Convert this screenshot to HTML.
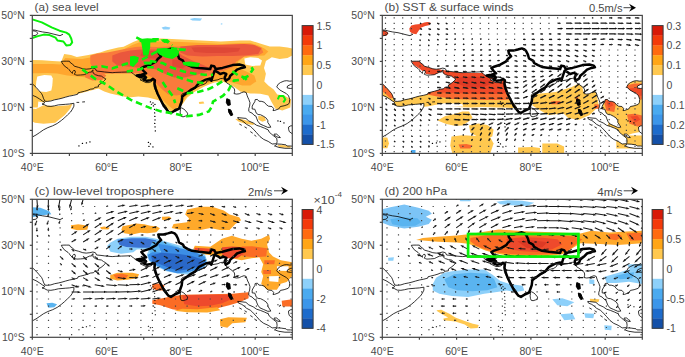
<!DOCTYPE html>
<html><head><meta charset="utf-8"><style>
html,body{margin:0;padding:0;background:#fff;}
svg{display:block;}
</style></head><body>
<svg width="685" height="357" viewBox="0 0 685 357">
<defs><clipPath id="clipa"><rect x="32.3" y="15.4" width="260.0" height="138.0"/></clipPath><clipPath id="clipb"><rect x="382.3" y="15.4" width="260.0" height="138.0"/></clipPath><clipPath id="clipc"><rect x="32.3" y="199.3" width="260.0" height="138.0"/></clipPath><clipPath id="clipd"><rect x="382.3" y="199.3" width="260.0" height="138.0"/></clipPath></defs><g clip-path="url(#clipa)" stroke="none"><polygon fill="#ffc650" points="32.3,59.9 42.3,60.3 52.3,60.9 61.3,61.4 64.2,54.1 71.0,55.1 76.8,57.0 82.6,56.0 88.4,55.1 94.2,53.7 100.0,52.5 106.8,50.2 118.3,47.4 123.6,46.8 133.7,41.8 140.4,39.2 157.2,38.4 162.0,38.5 181.6,39.5 201.2,40.5 220.8,41.5 240.4,40.5 250.2,40.5 260.0,43.4 269.8,46.4 279.6,46.4 287.5,47.4 292.2,48.4 292.2,55.4 287.5,58.1 279.6,59.1 271.8,57.2 265.9,61.1 264.0,67.9 265.9,73.8 264.3,81.4 268.3,85.4 273.7,89.4 277.3,94.4 284.3,95.4 291.1,99.4 290.3,107.4 282.3,110.4 275.3,108.4 271.3,101.4 268.3,95.4 260.3,93.7 250.3,93.4 240.3,91.4 235.0,87.4 228.3,83.4 222.3,81.4 214.3,82.4 204.3,86.4 194.3,91.9 187.3,97.4 182.3,104.4 178.3,109.4 173.3,112.4 168.3,109.4 163.3,104.4 159.3,100.4 155.8,99.5 148.0,97.5 138.3,96.6 128.7,97.5 119.0,95.6 110.3,93.4 104.3,91.4 98.3,88.4 90.0,90.8 80.3,93.2 70.7,95.6 60.3,98.4 51.3,100.4 43.6,102.4 38.3,101.4 37.8,107.4 32.3,107.4"/><polygon fill="#ffc650" points="32.3,108.4 35.9,109.1 43.6,105.3 55.2,106.2 68.8,105.3 72.6,103.4 70.3,108.4 64.9,114.9 55.2,122.7 43.6,123.7 34.9,122.7 32.3,121.4"/><polygon fill="#ffc650" points="235.3,118.9 240.3,118.8 246.3,120.4 254.3,123.4 253.3,124.9 244.3,123.4 238.3,121.4"/><polygon fill="#ffc650" points="258.3,115.9 264.3,116.4 266.0,120.4 262.3,121.7 258.3,119.4"/><polygon fill="#ffc650" points="277.6,144.9 284.3,145.2 291.1,146.4 290.3,147.8 282.3,147.4 278.3,146.4"/><polygon fill="#ffc650" points="198.8,101.9 203.3,101.4 204.3,103.4 199.3,103.9"/><polygon fill="#ffffff" points="37.3,76.4 44.3,74.9 51.3,75.4 52.8,78.4 52.3,85.4 51.3,90.4 46.3,91.9 39.3,91.4 35.8,87.4 36.3,81.4"/><polygon fill="#ffffff" points="244.3,58.4 250.3,57.2 258.3,57.9 262.0,60.4 260.3,65.4 252.3,66.0 245.3,64.4"/><polygon fill="#ffa62e" points="32.3,64.1 42.3,63.9 52.3,63.9 60.3,64.4 65.3,57.9 72.3,58.4 82.3,58.9 92.3,56.9 102.3,54.9 112.3,52.9 122.3,49.9 132.3,44.9 140.3,41.9 157.3,41.4 167.3,41.4 182.3,41.9 202.3,42.9 222.3,43.9 240.3,42.9 250.3,42.9 258.3,45.4 264.3,48.4 268.3,51.4 264.3,55.4 254.3,55.9 244.3,56.4 238.3,61.4 237.3,67.4 246.3,71.4 254.3,75.4 256.3,81.4 250.3,85.4 242.3,85.4 235.3,83.4 228.3,81.4 220.3,79.4 212.3,81.4 202.3,85.4 192.3,90.4 185.3,97.4 180.3,105.4 173.3,109.4 168.3,105.4 162.3,99.4 156.3,93.4 154.3,83.4 147.3,77.4 137.3,72.4 127.3,70.4 117.3,72.4 107.3,73.4 98.3,75.4 87.3,77.4 77.3,76.4 67.3,75.4 57.3,73.4 47.3,72.9 37.3,73.2 32.3,73.2"/><polygon fill="#f97a3c" points="90.3,55.4 97.3,53.4 107.3,52.4 117.3,50.4 127.3,48.4 135.3,46.9 142.3,46.4 157.3,46.9 172.3,46.4 187.3,46.4 202.3,45.9 222.3,44.9 240.3,43.9 252.3,44.4 261.3,47.4 263.3,52.4 258.3,55.4 244.3,56.4 236.3,61.4 232.3,67.4 224.3,70.4 214.3,73.4 204.3,77.4 197.3,83.4 190.3,89.4 182.3,94.4 176.3,95.4 168.3,94.4 162.3,89.4 156.3,83.4 152.3,77.4 144.3,73.4 132.3,73.4 122.3,73.4 112.3,73.4 102.3,73.4 94.3,70.4 90.3,63.4"/><polygon fill="#f97a3c" points="84.3,72.9 92.3,71.4 102.3,72.4 106.3,75.4 102.3,79.9 92.3,80.4 85.3,77.4"/><polygon fill="#ea573d" points="180.3,46.4 197.3,44.9 217.3,44.9 232.3,44.4 244.3,43.9 254.3,44.9 261.3,48.4 258.3,53.9 244.3,55.4 232.3,55.9 217.3,55.9 202.3,56.4 187.3,55.4 180.3,52.4"/><polygon fill="#ea573d" points="112.3,55.4 120.3,52.4 130.3,50.4 140.3,49.4 152.3,49.4 167.3,49.4 177.3,51.4 182.3,55.4 192.3,60.4 204.3,65.4 212.3,69.4 204.3,72.4 194.3,75.4 184.3,77.4 174.3,77.4 164.3,73.4 156.3,69.4 147.3,67.4 137.3,67.4 127.3,66.4 117.3,65.4 112.3,61.4"/><polygon fill="#df4836" points="191.3,47.4 207.3,46.9 227.3,47.4 240.3,47.9 238.3,51.4 224.3,52.9 207.3,52.9 194.3,51.9"/><polygon fill="#df4836" points="142.3,51.4 154.3,50.9 162.3,53.4 158.3,58.4 148.3,58.4 140.3,55.4"/><polygon fill="#df4836" points="172.3,59.4 182.3,60.4 188.3,64.4 182.3,68.4 172.3,66.4"/><polygon fill="#8dd0fa" points="161.6,27.4 165.3,26.6 170.3,27.4 169.3,29.5 163.3,29.5"/><polygon fill="#8dd0fa" points="189.6,18.9 194.3,17.9 202.2,18.6 200.3,20.8 192.3,20.6"/><polygon fill="#8dd0fa" points="220.8,23.4 222.3,23.2 222.3,24.4 220.8,24.4"/></g><g clip-path="url(#clipb)" stroke="none"><polygon fill="#ffc84f" points="382.3,81.4 394.3,83.4 396.3,95.4 407.3,92.4 422.3,89.4 434.3,88.4 444.3,85.4 452.3,77.4 512.0,77.4 514.3,95.4 522.3,101.4 525.1,107.3 512.3,107.9 497.3,107.4 482.3,106.9 472.3,107.4 462.3,107.3 452.3,106.4 442.3,105.4 437.3,104.4 427.3,106.4 417.3,106.9 402.3,106.4 392.3,105.9 382.3,103.4"/><polygon fill="#ffffff" points="437.3,103.9 447.3,102.9 462.3,103.9 463.3,106.4 447.3,106.9 438.3,106.4"/><polygon fill="#ffc84f" points="437.5,120.4 445.3,116.0 455.0,113.9 462.3,111.4 469.0,111.6 472.5,117.4 469.0,121.3 462.3,125.4 455.0,125.7 446.3,123.9"/><polygon fill="#ffc84f" points="469.0,125.4 478.3,123.4 487.3,124.9 493.6,129.4 492.3,136.4 486.3,138.8 477.3,136.4 470.3,132.4"/><polygon fill="#ffc84f" points="451.5,136.4 462.3,135.3 477.3,135.9 490.3,137.4 493.6,143.4 490.3,153.3 452.3,153.3 450.3,145.4"/><polygon fill="#ffc84f" points="518.1,147.5 532.3,146.9 540.0,147.9 540.0,153.3 518.1,153.3"/><polygon fill="#ffc84f" points="382.3,137.6 387.3,137.4 389.0,143.4 387.3,148.2 382.3,148.2"/><polygon fill="#ffc84f" points="542.3,143.4 557.3,143.4 564.1,146.4 564.1,153.3 542.3,153.3"/><polygon fill="#fa6a30" points="458.5,144.4 466.3,144.0 472.5,145.4 470.3,148.4 460.3,148.4"/><polygon fill="#ffc84f" points="531.2,95.0 540.4,93.5 555.8,91.9 571.2,87.3 577.4,84.2 582.0,85.8 583.5,91.9 591.3,90.4 595.9,91.9 599.0,105.8 595.9,108.9 589.7,115.1 578.9,119.7 568.1,118.1 563.5,113.5 548.1,115.1 540.4,110.4 532.7,105.8"/><polygon fill="#fa6a30" points="551.2,101.2 560.4,100.9 560.3,104.3 551.3,104.3"/><polygon fill="#fa6a30" points="575.8,96.6 578.2,96.6 578.2,99.7 575.8,99.7"/><polygon fill="#fa6a30" points="594.3,104.3 599.0,104.4 599.0,108.9 594.3,108.4"/><polygon fill="#ffc84f" points="601.3,95.4 612.3,93.4 622.3,81.4 632.3,79.4 642.3,79.4 642.3,131.4 632.3,133.4 626.9,135.5 611.3,135.5 607.3,127.4 610.3,115.4 603.3,112.1"/><polygon fill="#fa6a30" points="603.3,99.1 610.3,97.4 616.3,101.4 614.3,112.1 606.3,110.4"/><polygon fill="#f04a28" points="606.3,101.4 611.3,100.4 613.3,105.4 608.3,107.4"/><polygon fill="#fa6a30" points="626.3,85.4 634.3,83.4 642.3,83.4 642.3,99.4 634.3,99.4 628.3,95.4"/><polygon fill="#f04a28" points="629.3,88.4 637.3,87.6 642.2,89.4 642.2,95.4 634.3,96.4 630.3,94.4"/><polygon fill="#fa6a30" points="626.9,114.4 634.3,113.7 642.2,115.4 642.2,125.4 637.3,126.4 629.3,123.4"/><polygon fill="#f04a28" points="630.3,116.4 637.3,115.7 640.3,119.4 635.3,122.4"/><polygon fill="#ffc84f" points="616.3,135.4 642.0,135.4 642.0,148.4 616.3,148.4"/><polygon fill="#fa6a30" points="382.3,81.4 390.3,85.4 393.3,91.4 394.3,97.4 390.3,98.4 385.3,93.4 382.3,91.4"/><polygon fill="#fa6a30" points="424.3,90.9 434.3,88.4 444.3,85.4 452.3,77.4 449.8,71.7 468.0,73.0 486.3,73.0 494.0,75.6 500.3,78.4 507.1,80.8 510.3,85.4 513.3,91.4 513.3,99.4 502.3,99.9 482.3,99.9 467.3,99.4 452.3,98.9 437.3,96.4 427.3,94.4"/><polygon fill="#f04a28" points="442.3,70.9 449.8,71.7 468.0,73.0 486.3,73.0 494.0,75.6 500.3,78.4 507.1,80.8 510.3,85.4 512.3,91.4 502.3,93.9 482.3,93.9 467.3,93.4 452.3,92.9 440.3,92.4 434.3,90.4 437.3,87.4 444.3,85.4 451.0,79.0 447.3,75.4"/><polygon fill="#e03a25" points="457.3,77.4 472.3,76.4 487.3,77.4 492.3,83.4 482.3,87.4 467.3,87.4 457.3,83.4"/><polygon fill="#f04a28" points="411.3,60.4 420.3,60.6 426.3,64.4 434.3,67.9 442.3,69.9 450.3,70.9 450.3,76.4 442.3,76.4 434.3,74.9 426.3,73.9 419.3,68.4 413.3,64.4"/><polygon fill="#4aaaf0" points="411.1,150.0 415.5,150.0 415.5,153.4 411.1,153.4"/></g><g clip-path="url(#clipb)" fill="#fff" stroke="none"><polygon points="382.3,83.7 386.0,87.2 389.0,90.6 391.6,93.6 392.7,95.9 393.4,98.2 394.9,101.2 397.2,101.4 400.9,101.0 404.6,99.8 408.3,99.1 412.0,98.2 415.7,97.1 419.4,96.1 423.2,95.4 427.6,94.3 428.0,92.9 430.6,92.2 434.3,91.3 438.0,90.2 440.2,89.2 443.6,88.8 444.7,87.4 448.4,86.9 448.4,85.1 451.0,83.5 452.9,82.1 454.7,80.3 455.8,78.9 453.6,77.7 451.4,76.1 448.4,75.7 445.4,74.7 443.2,73.1 442.8,71.3 443.2,69.9 442.1,70.4 441.7,72.0 439.5,72.2 436.9,73.4 434.3,74.7 430.6,75.0 426.9,75.2 425.4,74.7 424.3,74.3 425.4,72.2 425.0,70.6 423.9,70.4 422.4,71.8 422.4,73.4 421.3,72.4 420.2,71.3 419.4,69.9 418.0,68.5 416.1,67.2 414.2,65.8 413.1,64.2 412.0,62.8 411.3,61.4 413.9,61.2 416.8,61.2 419.4,61.2 420.6,63.0 422.4,63.9 424.3,66.2 428.7,67.4 432.8,68.8 436.2,69.2 439.9,68.8 442.8,68.1 445.4,68.8 446.6,71.1 451.0,71.5 454.7,72.0 462.2,72.7 465.9,72.4 471.4,72.2 477.0,72.0 480.7,71.8 482.6,73.1 484.1,74.7 486.3,75.7 488.2,76.6 489.3,77.7 493.0,78.0 495.2,77.5 493.7,78.7 490.8,79.1 490.0,79.8 493.0,81.2 496.0,82.6 499.3,82.6 501.9,81.4 503.4,79.3 504.1,81.4 504.1,84.4 504.1,86.7 504.9,89.0 506.0,91.3 507.1,93.6 508.6,95.9 510.1,98.2 511.2,100.5 512.7,102.8 514.5,104.6 516.0,106.7 517.1,108.6 518.2,110.9 521.2,112.9 523.8,110.9 524.9,109.0 527.9,109.0 530.1,106.7 530.1,104.0 531.2,101.7 532.0,99.4 531.2,95.9 532.0,94.1 534.6,92.9 539.4,92.2 540.2,91.1 543.9,89.0 547.6,86.9 550.6,85.3 553.9,84.4 556.5,82.6 556.9,81.0 560.6,80.5 562.8,80.7 565.0,80.3 568.0,79.8 570.2,78.7 572.5,78.4 574.7,79.3 575.4,81.2 576.6,82.8 578.8,84.2 581.0,85.8 582.9,87.2 584.4,89.0 584.7,91.3 584.0,93.6 586.6,94.1 589.2,93.8 591.4,92.7 594.0,91.8 596.2,92.5 597.0,95.2 597.7,97.1 598.8,99.4 600.0,102.8 599.6,106.2 598.8,108.6 598.8,111.3 599.6,112.0 602.2,113.2 604.0,115.2 605.9,116.1 606.6,118.2 607.8,121.2 610.0,124.0 613.7,125.6 617.8,127.4 620.8,127.2 619.6,125.1 617.8,122.4 617.8,120.5 616.3,118.2 613.7,116.4 610.7,114.8 608.1,114.5 606.3,113.2 605.5,111.1 604.8,109.2 602.2,109.0 602.2,106.2 603.3,104.0 604.8,101.7 605.2,99.6 607.4,99.4 608.9,101.2 611.8,101.4 614.4,102.3 616.3,104.6 618.5,106.2 621.9,106.5 623.7,108.6 623.0,110.6 624.8,110.4 628.9,108.8 630.4,106.5 634.1,105.8 638.2,104.4 639.3,102.8 639.7,99.4 638.6,95.9 636.4,93.6 633.0,91.8 629.7,89.9 626.7,86.9 628.2,84.2 630.4,82.6 634.1,81.0 636.7,80.7 639.7,81.2 641.6,81.0 642.3,81.4 649.7,81.4 649.7,10.8 374.9,10.8 374.9,83.7"/><polygon points="382.3,95.2 386.0,96.8 389.7,99.1 392.7,101.2 394.6,102.1 393.8,103.7 392.0,104.0 394.2,104.6 397.2,106.2 400.9,106.4 404.6,105.8 408.3,104.9 412.0,104.6 415.7,104.3 419.4,104.0 423.9,103.3 423.9,106.2 422.4,109.2 420.6,112.0 417.6,114.8 414.6,117.8 411.3,120.5 407.2,123.5 402.7,125.8 397.9,127.6 393.4,129.9 389.7,132.5 386.0,135.0 383.0,136.6 382.3,137.3 374.9,137.3 374.9,95.2"/><polygon points="530.5,108.1 531.6,107.9 533.8,109.0 535.7,110.9 537.6,113.2 537.2,115.5 535.3,116.1 533.1,116.8 531.2,116.4 530.5,114.8 530.1,112.0 530.5,109.7 530.5,108.1"/><polygon points="587.7,117.5 589.9,117.8 595.9,118.4 598.8,121.0 603.3,123.0 606.6,125.3 610.4,126.5 614.4,128.1 618.2,129.9 619.3,132.2 621.5,134.1 623.4,135.7 626.7,138.2 627.1,141.4 626.7,143.7 622.2,144.0 621.1,143.3 618.2,141.4 613.7,139.4 610.0,136.6 606.6,132.7 604.0,129.9 601.8,127.6 600.3,126.3 596.6,124.4 594.0,122.1 591.8,120.5 588.4,119.1 587.7,117.5"/><polygon points="644.2,146.3 640.4,146.0 637.1,146.0 636.0,144.9 631.2,144.2 627.4,144.0 624.5,146.0 625.6,146.3 628.9,147.4 634.9,148.3 640.4,148.3 644.2,149.0 649.7,149.0 649.7,146.3"/><polygon points="624.1,134.1 626.7,134.1 628.2,135.5 630.4,137.5 628.2,137.5 626.3,136.4 624.1,135.2 624.1,134.1"/><polygon points="644.2,125.8 640.8,125.8 638.6,127.0 638.6,129.2 639.3,131.6 642.3,133.8 644.2,135.0 649.7,135.0 649.7,125.8"/><polygon points="644.2,84.2 640.8,84.4 637.5,86.0 637.1,87.9 640.4,88.5 644.2,87.9 649.7,87.9 649.7,84.2"/></g><g clip-path="url(#clipc)" stroke="none"><polygon fill="#ffa92a" points="187.1,209.6 200.6,206.7 212.2,206.7 223.8,210.6 229.6,214.4 239.2,217.3 241.1,220.2 235.4,224.1 229.6,229.9 219.9,229.9 210.3,228.0 200.6,229.9 181.3,229.9 171.7,228.0 173.6,224.1 187.1,222.2 189.0,218.3 185.2,214.4"/><polygon fill="#ffa92a" points="162.0,216.8 169.3,216.4 171.7,218.3 168.3,220.2 162.0,219.8"/><polygon fill="#ffa92a" points="70.9,225.3 78.3,224.3 88.3,225.8 87.3,229.8 77.3,230.3 71.3,228.8"/><polygon fill="#ffa92a" points="100.0,227.3 104.3,226.6 109.8,227.8 108.3,229.5 101.3,229.3"/><polygon fill="#ffa92a" points="122.5,226.3 130.3,224.8 136.3,223.6 144.3,224.3 150.3,225.8 156.3,226.3 160.0,228.3 156.3,232.3 147.3,233.3 140.3,232.8 132.3,234.4 124.3,233.3 121.3,229.8"/><polygon fill="#ffa92a" points="194.8,245.8 210.3,246.8 222.0,238.7 231.8,235.8 241.6,238.7 251.4,240.7 261.2,238.7 269.1,234.8 270.0,238.7 267.1,244.6 269.1,252.5 273.0,256.4 280.8,260.3 292.2,262.3 292.2,276.0 286.7,281.9 280.8,283.8 276.9,289.7 267.1,289.7 261.2,283.8 263.2,276.0 261.2,272.1 263.2,264.2 259.3,257.3 251.4,258.3 241.6,260.3 231.8,258.3 222.0,256.3 212.3,255.3 202.3,254.3 192.3,251.3"/><polygon fill="#ffffff" points="269.1,276.3 278.9,276.0 278.3,281.9 269.3,281.3"/><polygon fill="#ffffff" points="276.9,266.3 288.7,266.2 288.3,271.1 277.3,270.8"/><polygon fill="#fb6c25" points="241.6,246.6 252.3,246.3 267.1,248.3 266.3,256.4 254.3,257.3 242.3,256.3"/><polygon fill="#fb6c25" points="264.3,260.3 274.9,260.3 274.3,264.3 264.3,264.3"/><polygon fill="#fb6c25" points="263.2,270.1 271.0,270.1 271.0,274.0 263.3,274.0"/><polygon fill="#fb6c25" points="281.7,300.8 292.2,299.3 292.2,306.6 282.3,306.6"/><polygon fill="#ee4a2c" points="222.0,247.3 232.3,246.6 243.6,247.3 243.3,254.3 237.3,258.3 227.3,258.3 222.0,254.3"/><polygon fill="#ee4a2c" points="194.8,247.8 204.3,248.3 216.1,249.3 214.3,252.3 202.3,251.8 194.3,250.8"/><polygon fill="#fb6c25" points="152.3,300.3 167.3,297.3 182.3,294.8 207.3,294.3 232.3,293.8 242.3,292.8 248.6,292.3 248.6,298.3 239.3,302.3 229.3,305.3 217.3,308.3 202.3,310.8 187.3,311.5 172.3,309.3 160.3,305.3 152.3,303.8"/><polygon fill="#ffa92a" points="182.3,308.8 197.3,309.3 217.3,307.3 220.3,310.3 207.3,312.4 187.3,312.3 174.3,310.8"/><polygon fill="#ee4a2c" points="182.3,295.5 197.3,294.9 212.3,294.7 231.1,294.7 231.1,299.3 222.3,303.3 210.3,305.8 197.3,306.3 184.3,304.3"/><polygon fill="#fb6c25" points="152.3,283.8 158.3,283.5 164.5,285.3 163.3,290.5 156.3,290.3 152.3,288.3"/><polygon fill="#ffa92a" points="219.9,319.3 228.3,317.3 246.9,317.8 245.3,322.3 232.3,323.3 227.3,327.8 220.3,326.3"/><polygon fill="#ffa92a" points="110.2,275.3 117.3,272.8 132.3,272.8 139.1,274.3 137.3,278.3 127.3,279.8 117.3,280.5 110.3,278.8"/><polygon fill="#fb6c25" points="113.3,274.8 122.3,273.8 128.3,275.3 125.3,278.8 116.3,278.8"/><polygon fill="#8dd0fa" points="107.0,246.0 110.5,242.5 117.5,238.8 131.5,236.8 145.5,236.8 156.3,238.8 170.0,242.8 182.3,246.3 194.6,249.8 205.1,254.8 207.3,261.3 205.3,267.3 198.1,271.3 187.6,274.5 178.8,273.8 166.5,271.3 156.0,266.3 149.0,260.8 146.8,254.8 149.3,249.3 142.3,249.3 136.8,249.6 133.3,252.3 121.0,253.8 110.5,251.8"/><polygon fill="#3a72d2" points="117.5,239.8 131.5,238.3 145.5,238.3 156.0,240.3 157.8,244.3 150.8,247.8 138.5,247.8 126.3,246.9 119.3,244.8"/><polygon fill="#5ab4f0" points="152.5,241.3 162.3,241.8 170.0,244.3 178.8,247.3 178.8,253.0 161.3,251.3 150.8,254.8 149.0,249.3"/><polygon fill="#3c8ee6" points="157.8,243.8 170.0,245.8 182.3,248.8 194.6,251.8 205.1,256.8 206.3,263.5 201.6,268.8 187.6,272.3 177.1,273.2 166.5,270.5 156.0,265.3 149.0,260.0 147.8,254.8 152.3,252.3 161.3,252.3"/><polygon fill="#2a68c8" points="150.8,255.8 161.3,252.8 178.8,254.0 191.1,255.8 201.6,259.3 204.1,262.6 199.8,266.5 187.6,269.3 178.8,270.8 170.0,268.3 161.3,264.8 152.5,261.3"/><polygon fill="#5ab4f0" points="46.5,303.3 52.3,302.7 57.1,304.3 54.3,307.3 48.3,307.8"/><polygon fill="#5ab4f0" points="32.3,207.3 40.3,207.8 49.3,211.3 51.3,214.3 42.3,215.3 37.3,216.3 32.3,217.3"/></g><g clip-path="url(#clipd)" stroke="none"><polygon fill="#7cc4f6" points="382.3,209.3 390.3,207.3 404.3,204.4 418.3,207.8 428.8,210.8 431.9,213.8 425.8,216.8 431.9,219.8 428.8,224.1 418.3,226.8 404.3,228.5 389.8,225.8 382.3,222.8"/><polygon fill="#5ab4f0" points="390.3,219.3 402.3,217.3 417.3,218.3 421.3,222.3 415.3,225.8 402.3,226.3 392.3,224.3"/><polygon fill="#8dd0fa" points="496.5,201.8 507.3,200.2 522.3,200.8 534.3,202.8 527.3,206.1 512.3,205.3 500.3,204.3"/><polygon fill="#8dd0fa" points="459.3,199.3 471.3,199.3 470.3,201.3 460.3,201.3"/><polygon fill="#8dd0fa" points="388.1,257.8 393.9,257.3 393.3,260.8 388.3,260.8"/><polygon fill="#8dd0fa" points="432.8,284.1 436.1,277.7 444.1,272.8 452.1,271.2 468.2,269.6 484.2,269.6 492.2,274.4 500.3,280.9 509.9,284.1 522.7,285.7 524.3,290.5 516.3,292.1 506.7,290.5 497.0,292.1 484.2,293.7 468.2,296.9 452.1,296.1 439.3,293.7 432.8,290.5"/><polygon fill="#5ab4f0" points="444.3,279.3 454.3,274.3 470.3,272.8 487.3,273.8 494.3,279.3 497.3,287.3 487.3,290.3 472.3,291.3 457.3,290.3 448.3,287.3"/><polygon fill="#8dd0fa" points="604.4,276.8 616.6,273.2 628.8,269.5 636.1,265.9 642.2,267.1 642.2,284.1 628.8,281.7 616.6,282.9 606.8,282.9"/><polygon fill="#5ab4f0" points="614.3,276.3 626.3,273.3 634.3,272.3 632.3,278.3 620.3,279.3"/><polygon fill="#8dd0fa" points="589.3,279.3 594.3,279.8 594.3,284.3 589.3,283.8"/><polygon fill="#8dd0fa" points="584.3,313.3 594.3,313.8 593.3,318.3 585.3,317.8"/><polygon fill="#8dd0fa" points="604.3,325.3 611.7,325.8 611.3,330.3 604.8,329.8"/><polygon fill="#8dd0fa" points="552.3,299.3 562.3,298.3 574.3,302.3 567.3,306.3 557.3,305.3"/><polygon fill="#8dd0fa" points="560.3,314.3 572.3,313.3 575.3,319.3 564.3,320.3"/><polygon fill="#8dd0fa" points="626.9,264.6 642.2,263.8 642.2,270.1 630.3,269.8"/><polygon fill="#ffc84f" points="589.8,298.8 599.5,299.3 598.3,302.3 590.3,301.8"/><polygon fill="#ffc84f" points="436.5,310.3 441.2,309.7 449.4,313.8 455.3,317.4 464.7,320.9 472.9,323.8 478.8,325.0 477.6,327.9 470.6,328.5 464.7,324.4 455.3,321.5 443.5,320.3 443.5,318.5 448.2,317.4 443.5,315.0 437.6,311.5"/><polygon fill="#ffa92a" points="416.1,239.9 422.8,238.0 438.0,236.7 456.9,235.6 468.3,234.3 485.4,231.4 498.7,229.5 513.8,230.4 530.0,231.4 552.3,232.3 580.6,233.4 591.3,230.7 609.1,232.5 626.9,231.6 642.2,230.7 642.2,243.3 618.0,245.0 600.2,244.1 580.6,243.2 562.3,254.3 542.3,256.8 530.0,257.0 513.8,256.1 504.4,255.1 494.9,253.2 485.4,250.4 475.9,246.6 468.3,243.7 456.9,242.4 438.0,241.8 422.8,240.5"/><polygon fill="#fb6c25" points="470.3,238.0 485.3,235.2 504.3,234.2 530.0,235.2 552.3,235.3 572.3,236.3 582.3,239.3 567.3,251.3 552.3,254.3 530.0,255.1 512.3,254.3 494.9,252.3 482.3,248.3 475.9,245.6 470.3,241.3"/><polygon fill="#fb6c25" points="608.3,234.3 618.3,233.8 622.3,236.3 616.3,240.3 609.3,239.3"/><polygon fill="#fb6c25" points="626.3,233.3 642.2,232.8 642.2,240.3 630.3,240.8"/><polygon fill="#ee4a2c" points="506.3,239.0 522.3,237.3 542.3,237.8 557.3,239.3 562.3,244.3 552.3,249.3 537.3,252.1 522.3,251.3 510.3,249.3"/><polygon fill="#dd3a25" points="517.3,241.3 532.3,240.3 547.3,242.3 542.3,247.3 527.3,248.3"/></g><g clip-path="url(#clipb)" stroke="none"><polygon fill="#f04a28" points="382.3,30.6 385.8,30.9 388.3,32.9 386.8,35.4 382.3,35.7"/><polygon fill="#f04a28" points="409.3,28.4 411.3,25.4 415.3,24.4 420.3,24.0 424.3,22.4 427.3,22.1 430.5,22.6 429.8,24.9 425.3,25.9 421.3,27.4 418.8,30.4 416.3,34.2 412.3,33.6 409.8,31.4"/></g><g clip-path="url(#clipa)" fill="none" stroke="#000" stroke-width="0.8" stroke-linejoin="round"><polyline points="32.3,95.2 36.0,96.8 39.7,99.1 42.7,101.2 44.6,102.1 43.8,103.7 42.0,104.0 44.2,104.6 47.2,106.2 50.9,106.4 54.6,105.8 58.3,104.9 62.0,104.6 65.7,104.3 69.4,104.0 73.9,103.3 73.9,106.2 72.4,109.2 70.6,112.0 67.6,114.8 64.6,117.8 61.3,120.5 57.2,123.5 52.7,125.8 47.9,127.6 43.4,129.9 39.7,132.5 36.0,135.0 33.0,136.6 32.3,137.3"/><polyline points="32.3,83.7 36.0,87.2 39.0,90.6 41.6,93.6 42.7,95.9 43.4,98.2 44.9,101.2 47.2,101.4 50.9,101.0 54.6,99.8 58.3,99.1 62.0,98.2 65.7,97.1 69.4,96.1 73.2,95.4 77.6,94.3 78.0,92.9 80.6,92.2 84.3,91.3 88.0,90.2 90.2,89.2 93.6,88.8 94.7,87.4 98.4,86.9 98.4,85.1 101.0,83.5 102.9,82.1 104.7,80.3 105.8,78.9 103.6,77.7 101.4,76.1 98.4,75.7 95.4,74.7 93.2,73.1 92.8,71.3 93.2,69.9 92.1,70.4 91.7,72.0 89.5,72.2 86.9,73.4 84.3,74.7 80.6,75.0 76.9,75.2 75.4,74.7 74.3,74.3 75.4,72.2 75.0,70.6 73.9,70.4 72.4,71.8 72.4,73.4 71.3,72.4 70.2,71.3 69.4,69.9 68.0,68.5 66.1,67.2 64.2,65.8 63.1,64.2 62.0,62.8 61.3,61.4 63.9,61.2 66.8,61.2 69.4,61.2 70.6,63.0 72.4,63.9 74.3,66.2 78.7,67.4 82.8,68.8 86.2,69.2 89.9,68.8 92.8,68.1 95.4,68.8 96.6,71.1 101.0,71.5 104.7,72.0 112.2,72.7 115.9,72.4 121.4,72.2 127.0,72.0 130.7,71.8 132.6,73.1 134.1,74.7 136.3,75.7 138.2,76.6 139.3,77.7 143.0,78.0 145.2,77.5 143.7,78.7 140.8,79.1 140.0,79.8 143.0,81.2 146.0,82.6 149.3,82.6 151.9,81.4 153.4,79.3 154.1,81.4 154.1,84.4 154.1,86.7 154.9,89.0 156.0,91.3 157.1,93.6 158.6,95.9 160.1,98.2 161.2,100.5 162.7,102.8 164.5,104.6 166.0,106.7 167.1,108.6 168.2,110.9 171.2,112.9 173.8,110.9 174.9,109.0 177.9,109.0 180.1,106.7 180.1,104.0 181.2,101.7 182.0,99.4 181.2,95.9 182.0,94.1 184.6,92.9 189.4,92.2 190.2,91.1 193.9,89.0 197.6,86.9 200.6,85.3 203.9,84.4 206.5,82.6 206.9,81.0 210.6,80.5 212.8,80.7 215.0,80.3 218.0,79.8 220.2,78.7 222.5,78.4 224.7,79.3 225.4,81.2 226.6,82.8 228.8,84.2 231.0,85.8 232.9,87.2 234.4,89.0 234.7,91.3 234.0,93.6 236.6,94.1 239.2,93.8 241.4,92.7 244.0,91.8 246.2,92.5 247.0,95.2 247.7,97.1 248.8,99.4 250.0,102.8 249.6,106.2 248.8,108.6 248.8,111.3 249.6,112.0 252.2,113.2 254.0,115.2 255.9,116.1 256.6,118.2 257.8,121.2 260.0,124.0 263.7,125.6 267.8,127.4 270.8,127.2 269.6,125.1 267.8,122.4 267.8,120.5 266.3,118.2 263.7,116.4 260.7,114.8 258.1,114.5 256.3,113.2 255.5,111.1 254.8,109.2 252.2,109.0 252.2,106.2 253.3,104.0 254.8,101.7 255.2,99.6 257.4,99.4 258.9,101.2 261.8,101.4 264.4,102.3 266.3,104.6 268.5,106.2 271.9,106.5 273.7,108.6 273.0,110.6 274.8,110.4 278.9,108.8 280.4,106.5 284.1,105.8 288.2,104.4 289.3,102.8 289.7,99.4 288.6,95.9 286.4,93.6 283.0,91.8 279.7,89.9 276.7,86.9 278.2,84.2 280.4,82.6 284.1,81.0 286.7,80.7 289.7,81.2 291.6,81.0 292.3,81.4"/><polyline points="180.5,108.1 181.6,107.9 183.8,109.0 185.7,110.9 187.6,113.2 187.2,115.5 185.3,116.1 183.1,116.8 181.2,116.4 180.5,114.8 180.1,112.0 180.5,109.7 180.5,108.1"/><polyline points="237.7,117.5 239.9,117.8 245.9,118.4 248.8,121.0 253.3,123.0 256.6,125.3 260.4,126.5 264.4,128.1 268.2,129.9 269.3,132.2 271.5,134.1 273.4,135.7 276.7,138.2 277.1,141.4 276.7,143.7 272.2,144.0 271.1,143.3 268.2,141.4 263.7,139.4 260.0,136.6 256.6,132.7 254.0,129.9 251.8,127.6 250.3,126.3 246.6,124.4 244.0,122.1 241.8,120.5 238.4,119.1 237.7,117.5"/><polyline points="294.2,146.3 290.4,146.0 287.1,146.0 286.0,144.9 281.2,144.2 277.4,144.0 274.5,146.0 275.6,146.3 278.9,147.4 284.9,148.3 290.4,148.3 294.2,149.0"/><polyline points="274.1,134.1 276.7,134.1 278.2,135.5 280.4,137.5 278.2,137.5 276.3,136.4 274.1,135.2 274.1,134.1"/><polyline points="294.2,125.8 290.8,125.8 288.6,127.0 288.6,129.2 289.3,131.6 292.3,133.8 294.2,135.0"/><polyline points="294.2,84.2 290.8,84.4 287.5,86.0 287.1,87.9 290.4,88.5 294.2,87.9"/><polyline points="32.3,29.9 35.3,30.2 38.2,31.0 42.3,31.9 48.0,32.7 53.9,34.2 60.0,35.7 63.0,34.2"/><polyline points="32.3,30.7 35.8,31.2 37.8,33.2 36.3,35.2 32.3,35.9"/><polyline points="76.5,102.4 79.2,102.4"/><polyline points="82.2,102.0 85.0,101.8"/><polyline points="239.3,124.0 241.8,125.4"/><polyline points="244.5,126.8 246.9,128.2"/><polyline points="250.3,131.6 252.7,133.2"/><polyline points="254.3,135.0 256.3,136.4"/><path stroke-width="1.1" stroke-linecap="round" d="M150.3 101.9h0.3M152.8 102.9h0.3M154.8 104.4h0.3M153.3 105.9h0.3M151.3 104.2h0.3M154.4 109.4h0.3M154.5 112.9h0.3M154.7 116.4h0.3M154.9 119.9h0.3M154.6 123.4h0.3M154.9 126.9h0.3M155.2 130.9h0.3M148.3 142.4h0.3M150.3 143.9h0.3M152.8 146.9h0.3M148.8 146.4h0.3M78.8 145.9h0.3M82.3 143.4h0.3M86.3 142.9h0.3M89.8 141.9h0.3M277.8 120.9h0.3M280.3 121.4h0.3M283.8 122.9h0.3"/></g><g clip-path="url(#clipa)" stroke="#000" stroke-linejoin="round"><polygon points="136.7,75.5 141.4,74.8 146.1,73.4 143.5,70.8 141.4,68.1 144.1,66.7 150.2,64.7 156.2,61.3 157.8,59.0 161.1,56.2 158.9,53.4 158.3,50.6 163.4,50.6 167.8,49.5 171.8,48.4 174.6,49.5 176.2,51.2 177.9,54.6 179.0,58.5 183.0,60.7 184.1,63.0 188.0,65.2 192.0,66.9 199.0,67.9 210.2,69.0 211.3,65.6 214.1,66.2 215.8,69.0 222.5,67.9 232.6,65.1 239.3,64.5 243.8,65.6 244.9,67.3 241.5,67.9 237.0,69.6 233.7,72.9 230.3,75.7 229.2,78.5 225.8,80.8 224.7,77.4 226.4,74.0 223.6,72.9 220.2,74.0 218.0,72.4 214.6,70.7 212.4,77.4 211.3,80.8 210.2,78.5 205.7,79.6 199.0,83.0 195.0,87.7 190.5,90.2 185.4,94.0 182.3,96.5 181.7,101.5 179.1,108.6 174.1,111.0 170.9,113.0 168.4,111.8 164.0,106.3 160.2,99.0 157.7,94.0 155.8,88.9 154.5,83.9 154.9,80.2 152.9,78.8 150.8,80.2 146.8,80.8 143.5,79.5 146.1,77.5 144.8,76.1 140.1,77.1 136.7,75.5" fill="none" stroke-width="2.5"/><polygon points="226.8,98.7 229.8,99.9 230.3,104.9 227.8,105.4 226.3,102.4" fill="#000" stroke-width="1"/><polygon points="228.3,109.1 230.8,109.9 232.8,114.9 230.8,115.7 228.8,112.4" fill="#000" stroke-width="1"/></g><g clip-path="url(#clipb)" fill="none" stroke="#000" stroke-width="0.8" stroke-linejoin="round"><polyline points="382.3,95.2 386.0,96.8 389.7,99.1 392.7,101.2 394.6,102.1 393.8,103.7 392.0,104.0 394.2,104.6 397.2,106.2 400.9,106.4 404.6,105.8 408.3,104.9 412.0,104.6 415.7,104.3 419.4,104.0 423.9,103.3 423.9,106.2 422.4,109.2 420.6,112.0 417.6,114.8 414.6,117.8 411.3,120.5 407.2,123.5 402.7,125.8 397.9,127.6 393.4,129.9 389.7,132.5 386.0,135.0 383.0,136.6 382.3,137.3"/><polyline points="382.3,83.7 386.0,87.2 389.0,90.6 391.6,93.6 392.7,95.9 393.4,98.2 394.9,101.2 397.2,101.4 400.9,101.0 404.6,99.8 408.3,99.1 412.0,98.2 415.7,97.1 419.4,96.1 423.2,95.4 427.6,94.3 428.0,92.9 430.6,92.2 434.3,91.3 438.0,90.2 440.2,89.2 443.6,88.8 444.7,87.4 448.4,86.9 448.4,85.1 451.0,83.5 452.9,82.1 454.7,80.3 455.8,78.9 453.6,77.7 451.4,76.1 448.4,75.7 445.4,74.7 443.2,73.1 442.8,71.3 443.2,69.9 442.1,70.4 441.7,72.0 439.5,72.2 436.9,73.4 434.3,74.7 430.6,75.0 426.9,75.2 425.4,74.7 424.3,74.3 425.4,72.2 425.0,70.6 423.9,70.4 422.4,71.8 422.4,73.4 421.3,72.4 420.2,71.3 419.4,69.9 418.0,68.5 416.1,67.2 414.2,65.8 413.1,64.2 412.0,62.8 411.3,61.4 413.9,61.2 416.8,61.2 419.4,61.2 420.6,63.0 422.4,63.9 424.3,66.2 428.7,67.4 432.8,68.8 436.2,69.2 439.9,68.8 442.8,68.1 445.4,68.8 446.6,71.1 451.0,71.5 454.7,72.0 462.2,72.7 465.9,72.4 471.4,72.2 477.0,72.0 480.7,71.8 482.6,73.1 484.1,74.7 486.3,75.7 488.2,76.6 489.3,77.7 493.0,78.0 495.2,77.5 493.7,78.7 490.8,79.1 490.0,79.8 493.0,81.2 496.0,82.6 499.3,82.6 501.9,81.4 503.4,79.3 504.1,81.4 504.1,84.4 504.1,86.7 504.9,89.0 506.0,91.3 507.1,93.6 508.6,95.9 510.1,98.2 511.2,100.5 512.7,102.8 514.5,104.6 516.0,106.7 517.1,108.6 518.2,110.9 521.2,112.9 523.8,110.9 524.9,109.0 527.9,109.0 530.1,106.7 530.1,104.0 531.2,101.7 532.0,99.4 531.2,95.9 532.0,94.1 534.6,92.9 539.4,92.2 540.2,91.1 543.9,89.0 547.6,86.9 550.6,85.3 553.9,84.4 556.5,82.6 556.9,81.0 560.6,80.5 562.8,80.7 565.0,80.3 568.0,79.8 570.2,78.7 572.5,78.4 574.7,79.3 575.4,81.2 576.6,82.8 578.8,84.2 581.0,85.8 582.9,87.2 584.4,89.0 584.7,91.3 584.0,93.6 586.6,94.1 589.2,93.8 591.4,92.7 594.0,91.8 596.2,92.5 597.0,95.2 597.7,97.1 598.8,99.4 600.0,102.8 599.6,106.2 598.8,108.6 598.8,111.3 599.6,112.0 602.2,113.2 604.0,115.2 605.9,116.1 606.6,118.2 607.8,121.2 610.0,124.0 613.7,125.6 617.8,127.4 620.8,127.2 619.6,125.1 617.8,122.4 617.8,120.5 616.3,118.2 613.7,116.4 610.7,114.8 608.1,114.5 606.3,113.2 605.5,111.1 604.8,109.2 602.2,109.0 602.2,106.2 603.3,104.0 604.8,101.7 605.2,99.6 607.4,99.4 608.9,101.2 611.8,101.4 614.4,102.3 616.3,104.6 618.5,106.2 621.9,106.5 623.7,108.6 623.0,110.6 624.8,110.4 628.9,108.8 630.4,106.5 634.1,105.8 638.2,104.4 639.3,102.8 639.7,99.4 638.6,95.9 636.4,93.6 633.0,91.8 629.7,89.9 626.7,86.9 628.2,84.2 630.4,82.6 634.1,81.0 636.7,80.7 639.7,81.2 641.6,81.0 642.3,81.4"/><polyline points="530.5,108.1 531.6,107.9 533.8,109.0 535.7,110.9 537.6,113.2 537.2,115.5 535.3,116.1 533.1,116.8 531.2,116.4 530.5,114.8 530.1,112.0 530.5,109.7 530.5,108.1"/><polyline points="587.7,117.5 589.9,117.8 595.9,118.4 598.8,121.0 603.3,123.0 606.6,125.3 610.4,126.5 614.4,128.1 618.2,129.9 619.3,132.2 621.5,134.1 623.4,135.7 626.7,138.2 627.1,141.4 626.7,143.7 622.2,144.0 621.1,143.3 618.2,141.4 613.7,139.4 610.0,136.6 606.6,132.7 604.0,129.9 601.8,127.6 600.3,126.3 596.6,124.4 594.0,122.1 591.8,120.5 588.4,119.1 587.7,117.5"/><polyline points="644.2,146.3 640.4,146.0 637.1,146.0 636.0,144.9 631.2,144.2 627.4,144.0 624.5,146.0 625.6,146.3 628.9,147.4 634.9,148.3 640.4,148.3 644.2,149.0"/><polyline points="624.1,134.1 626.7,134.1 628.2,135.5 630.4,137.5 628.2,137.5 626.3,136.4 624.1,135.2 624.1,134.1"/><polyline points="644.2,125.8 640.8,125.8 638.6,127.0 638.6,129.2 639.3,131.6 642.3,133.8 644.2,135.0"/><polyline points="644.2,84.2 640.8,84.4 637.5,86.0 637.1,87.9 640.4,88.5 644.2,87.9"/><polyline points="382.3,29.9 385.3,30.2 388.2,31.0 392.3,31.9 398.0,32.7 403.9,34.2 410.0,35.7 413.0,34.2"/><polyline points="382.3,30.7 385.8,31.2 387.8,33.2 386.3,35.2 382.3,35.9"/><polyline points="426.5,102.4 429.2,102.4"/><polyline points="432.2,102.0 435.0,101.8"/><polyline points="589.3,124.0 591.8,125.4"/><polyline points="594.5,126.8 596.9,128.2"/><polyline points="600.3,131.6 602.7,133.2"/><polyline points="604.3,135.0 606.3,136.4"/><path stroke-width="1.1" stroke-linecap="round" d="M500.3 101.9h0.3M502.8 102.9h0.3M504.8 104.4h0.3M503.3 105.9h0.3M501.3 104.2h0.3M504.4 109.4h0.3M504.5 112.9h0.3M504.7 116.4h0.3M504.9 119.9h0.3M504.6 123.4h0.3M504.9 126.9h0.3M505.2 130.9h0.3M498.3 142.4h0.3M500.3 143.9h0.3M502.8 146.9h0.3M498.8 146.4h0.3M428.8 145.9h0.3M432.3 143.4h0.3M436.3 142.9h0.3M439.8 141.9h0.3M627.8 120.9h0.3M630.3 121.4h0.3M633.8 122.9h0.3"/></g><g clip-path="url(#clipb)" stroke="#000" stroke-linejoin="round"><polygon points="486.7,75.5 491.4,74.8 496.1,73.4 493.5,70.8 491.4,68.1 494.1,66.7 500.2,64.7 506.2,61.3 507.8,59.0 511.1,56.2 508.9,53.4 508.3,50.6 513.4,50.6 517.8,49.5 521.8,48.4 524.6,49.5 526.2,51.2 527.9,54.6 529.0,58.5 533.0,60.7 534.1,63.0 538.0,65.2 542.0,66.9 549.0,67.9 560.2,69.0 561.3,65.6 564.1,66.2 565.8,69.0 572.5,67.9 582.6,65.1 589.3,64.5 593.8,65.6 594.9,67.3 591.5,67.9 587.0,69.6 583.7,72.9 580.3,75.7 579.2,78.5 575.8,80.8 574.7,77.4 576.4,74.0 573.6,72.9 570.2,74.0 568.0,72.4 564.6,70.7 562.4,77.4 561.3,80.8 560.2,78.5 555.7,79.6 549.0,83.0 545.0,87.7 540.5,90.2 535.4,94.0 532.3,96.5 531.7,101.5 529.1,108.6 524.1,111.0 520.9,113.0 518.4,111.8 514.0,106.3 510.2,99.0 507.7,94.0 505.8,88.9 504.5,83.9 504.9,80.2 502.9,78.8 500.8,80.2 496.8,80.8 493.5,79.5 496.1,77.5 494.8,76.1 490.1,77.1 486.7,75.5" fill="none" stroke-width="2.5"/><polygon points="576.8,98.7 579.8,99.9 580.3,104.9 577.8,105.4 576.3,102.4" fill="#000" stroke-width="1"/><polygon points="578.3,109.1 580.8,109.9 582.8,114.9 580.8,115.7 578.8,112.4" fill="#000" stroke-width="1"/></g><g clip-path="url(#clipc)" fill="none" stroke="#000" stroke-width="0.8" stroke-linejoin="round"><polyline points="32.3,279.1 36.0,280.7 39.7,283.0 42.7,285.1 44.6,286.0 43.8,287.6 42.0,287.9 44.2,288.5 47.2,290.1 50.9,290.3 54.6,289.7 58.3,288.8 62.0,288.5 65.7,288.2 69.4,287.9 73.9,287.2 73.9,290.1 72.4,293.1 70.6,295.9 67.6,298.7 64.6,301.6 61.3,304.4 57.2,307.4 52.7,309.7 47.9,311.5 43.4,313.8 39.7,316.4 36.0,318.9 33.0,320.5 32.3,321.2"/><polyline points="32.3,267.6 36.0,271.1 39.0,274.5 41.6,277.5 42.7,279.8 43.4,282.1 44.9,285.1 47.2,285.3 50.9,284.9 54.6,283.7 58.3,283.0 62.0,282.1 65.7,281.0 69.4,280.0 73.2,279.3 77.6,278.2 78.0,276.8 80.6,276.1 84.3,275.2 88.0,274.1 90.2,273.1 93.6,272.7 94.7,271.3 98.4,270.8 98.4,269.0 101.0,267.4 102.9,266.0 104.7,264.2 105.8,262.8 103.6,261.6 101.4,260.0 98.4,259.6 95.4,258.6 93.2,257.0 92.8,255.2 93.2,253.8 92.1,254.3 91.7,255.9 89.5,256.1 86.9,257.3 84.3,258.6 80.6,258.9 76.9,259.1 75.4,258.6 74.3,258.2 75.4,256.1 75.0,254.5 73.9,254.3 72.4,255.7 72.4,257.3 71.3,256.3 70.2,255.2 69.4,253.8 68.0,252.4 66.1,251.1 64.2,249.7 63.1,248.1 62.0,246.7 61.3,245.3 63.9,245.1 66.8,245.1 69.4,245.1 70.6,246.9 72.4,247.8 74.3,250.1 78.7,251.3 82.8,252.7 86.2,253.1 89.9,252.7 92.8,252.0 95.4,252.7 96.6,255.0 101.0,255.4 104.7,255.9 112.2,256.6 115.9,256.3 121.4,256.1 127.0,255.9 130.7,255.7 132.6,257.0 134.1,258.6 136.3,259.6 138.2,260.5 139.3,261.6 143.0,261.9 145.2,261.4 143.7,262.6 140.8,263.0 140.0,263.7 143.0,265.1 146.0,266.5 149.3,266.5 151.9,265.3 153.4,263.2 154.1,265.3 154.1,268.3 154.1,270.6 154.9,272.9 156.0,275.2 157.1,277.5 158.6,279.8 160.1,282.1 161.2,284.4 162.7,286.7 164.5,288.5 166.0,290.6 167.1,292.5 168.2,294.8 171.2,296.8 173.8,294.8 174.9,292.9 177.9,292.9 180.1,290.6 180.1,287.9 181.2,285.6 182.0,283.2 181.2,279.8 182.0,278.0 184.6,276.8 189.4,276.1 190.2,275.0 193.9,272.9 197.6,270.8 200.6,269.2 203.9,268.3 206.5,266.5 206.9,264.9 210.6,264.4 212.8,264.6 215.0,264.2 218.0,263.7 220.2,262.6 222.5,262.3 224.7,263.2 225.4,265.1 226.6,266.7 228.8,268.1 231.0,269.7 232.9,271.1 234.4,272.9 234.7,275.2 234.0,277.5 236.6,278.0 239.2,277.7 241.4,276.6 244.0,275.7 246.2,276.4 247.0,279.1 247.7,281.0 248.8,283.2 250.0,286.7 249.6,290.1 248.8,292.5 248.8,295.2 249.6,295.9 252.2,297.1 254.0,299.1 255.9,300.0 256.6,302.1 257.8,305.1 260.0,307.9 263.7,309.5 267.8,311.3 270.8,311.1 269.6,309.0 267.8,306.2 267.8,304.4 266.3,302.1 263.7,300.3 260.7,298.7 258.1,298.4 256.3,297.1 255.5,295.0 254.8,293.1 252.2,292.9 252.2,290.1 253.3,287.9 254.8,285.6 255.2,283.5 257.4,283.2 258.9,285.1 261.8,285.3 264.4,286.2 266.3,288.5 268.5,290.1 271.9,290.4 273.7,292.5 273.0,294.5 274.8,294.3 278.9,292.7 280.4,290.4 284.1,289.7 288.2,288.3 289.3,286.7 289.7,283.2 288.6,279.8 286.4,277.5 283.0,275.7 279.7,273.8 276.7,270.8 278.2,268.1 280.4,266.5 284.1,264.9 286.7,264.6 289.7,265.1 291.6,264.9 292.3,265.3"/><polyline points="180.5,292.0 181.6,291.8 183.8,292.9 185.7,294.8 187.6,297.1 187.2,299.4 185.3,300.0 183.1,300.7 181.2,300.3 180.5,298.7 180.1,295.9 180.5,293.6 180.5,292.0"/><polyline points="237.7,301.4 239.9,301.6 245.9,302.3 248.8,304.9 253.3,306.9 256.6,309.2 260.4,310.4 264.4,312.0 268.2,313.8 269.3,316.1 271.5,318.0 273.4,319.6 276.7,322.1 277.1,325.3 276.7,327.6 272.2,327.9 271.1,327.2 268.2,325.3 263.7,323.3 260.0,320.5 256.6,316.6 254.0,313.8 251.8,311.5 250.3,310.2 246.6,308.3 244.0,306.0 241.8,304.4 238.4,303.0 237.7,301.4"/><polyline points="294.2,330.2 290.4,329.9 287.1,329.9 286.0,328.8 281.2,328.1 277.4,327.9 274.5,329.9 275.6,330.2 278.9,331.3 284.9,332.2 290.4,332.2 294.2,332.9"/><polyline points="274.1,318.0 276.7,318.0 278.2,319.4 280.4,321.4 278.2,321.4 276.3,320.3 274.1,319.1 274.1,318.0"/><polyline points="294.2,309.7 290.8,309.7 288.6,310.9 288.6,313.1 289.3,315.5 292.3,317.8 294.2,318.9"/><polyline points="294.2,268.1 290.8,268.3 287.5,269.9 287.1,271.8 290.4,272.4 294.2,271.8"/><polyline points="32.3,213.8 35.3,214.1 38.2,214.9 42.3,215.8 48.0,216.6 53.9,218.1 60.0,219.6 63.0,218.1"/><polyline points="32.3,214.6 35.8,215.1 37.8,217.1 36.3,219.1 32.3,219.8"/><polyline points="76.5,286.3 79.2,286.3"/><polyline points="82.2,285.9 85.0,285.7"/><polyline points="239.3,307.9 241.8,309.3"/><polyline points="244.5,310.7 246.9,312.1"/><polyline points="250.3,315.5 252.7,317.1"/><polyline points="254.3,318.9 256.3,320.3"/><path stroke-width="1.1" stroke-linecap="round" d="M150.3 285.8h0.3M152.8 286.8h0.3M154.8 288.3h0.3M153.3 289.8h0.3M151.3 288.1h0.3M154.4 293.3h0.3M154.5 296.8h0.3M154.7 300.3h0.3M154.9 303.8h0.3M154.6 307.3h0.3M154.9 310.8h0.3M155.2 314.8h0.3M148.3 326.3h0.3M150.3 327.8h0.3M152.8 330.8h0.3M148.8 330.3h0.3M78.8 329.8h0.3M82.3 327.3h0.3M86.3 326.8h0.3M89.8 325.8h0.3M277.8 304.8h0.3M280.3 305.3h0.3M283.8 306.8h0.3"/></g><g clip-path="url(#clipc)" stroke="#000" stroke-linejoin="round"><polygon points="136.7,259.4 141.4,258.7 146.1,257.3 143.5,254.7 141.4,252.0 144.1,250.6 150.2,248.6 156.2,245.2 157.8,242.9 161.1,240.1 158.9,237.3 158.3,234.5 163.4,234.5 167.8,233.4 171.8,232.3 174.6,233.4 176.2,235.1 177.9,238.5 179.0,242.4 183.0,244.6 184.1,246.9 188.0,249.1 192.0,250.8 199.0,251.8 210.2,252.9 211.3,249.5 214.1,250.1 215.8,252.9 222.5,251.8 232.6,249.0 239.3,248.4 243.8,249.5 244.9,251.2 241.5,251.8 237.0,253.5 233.7,256.8 230.3,259.6 229.2,262.4 225.8,264.7 224.7,261.3 226.4,257.9 223.6,256.8 220.2,257.9 218.0,256.3 214.6,254.6 212.4,261.3 211.3,264.7 210.2,262.4 205.7,263.5 199.0,266.9 195.0,271.6 190.5,274.1 185.4,277.9 182.3,280.4 181.7,285.4 179.1,292.5 174.1,294.9 170.9,296.9 168.4,295.7 164.0,290.2 160.2,282.9 157.7,277.9 155.8,272.8 154.5,267.8 154.9,264.1 152.9,262.7 150.8,264.1 146.8,264.7 143.5,263.4 146.1,261.4 144.8,260.0 140.1,261.0 136.7,259.4" fill="none" stroke-width="2.5"/><polygon points="226.8,282.6 229.8,283.8 230.3,288.8 227.8,289.3 226.3,286.3" fill="#000" stroke-width="1"/><polygon points="228.3,293.0 230.8,293.8 232.8,298.8 230.8,299.6 228.8,296.3" fill="#000" stroke-width="1"/></g><g clip-path="url(#clipd)" fill="none" stroke="#000" stroke-width="0.8" stroke-linejoin="round"><polyline points="382.3,279.1 386.0,280.7 389.7,283.0 392.7,285.1 394.6,286.0 393.8,287.6 392.0,287.9 394.2,288.5 397.2,290.1 400.9,290.3 404.6,289.7 408.3,288.8 412.0,288.5 415.7,288.2 419.4,287.9 423.9,287.2 423.9,290.1 422.4,293.1 420.6,295.9 417.6,298.7 414.6,301.6 411.3,304.4 407.2,307.4 402.7,309.7 397.9,311.5 393.4,313.8 389.7,316.4 386.0,318.9 383.0,320.5 382.3,321.2"/><polyline points="382.3,267.6 386.0,271.1 389.0,274.5 391.6,277.5 392.7,279.8 393.4,282.1 394.9,285.1 397.2,285.3 400.9,284.9 404.6,283.7 408.3,283.0 412.0,282.1 415.7,281.0 419.4,280.0 423.2,279.3 427.6,278.2 428.0,276.8 430.6,276.1 434.3,275.2 438.0,274.1 440.2,273.1 443.6,272.7 444.7,271.3 448.4,270.8 448.4,269.0 451.0,267.4 452.9,266.0 454.7,264.2 455.8,262.8 453.6,261.6 451.4,260.0 448.4,259.6 445.4,258.6 443.2,257.0 442.8,255.2 443.2,253.8 442.1,254.3 441.7,255.9 439.5,256.1 436.9,257.3 434.3,258.6 430.6,258.9 426.9,259.1 425.4,258.6 424.3,258.2 425.4,256.1 425.0,254.5 423.9,254.3 422.4,255.7 422.4,257.3 421.3,256.3 420.2,255.2 419.4,253.8 418.0,252.4 416.1,251.1 414.2,249.7 413.1,248.1 412.0,246.7 411.3,245.3 413.9,245.1 416.8,245.1 419.4,245.1 420.6,246.9 422.4,247.8 424.3,250.1 428.7,251.3 432.8,252.7 436.2,253.1 439.9,252.7 442.8,252.0 445.4,252.7 446.6,255.0 451.0,255.4 454.7,255.9 462.2,256.6 465.9,256.3 471.4,256.1 477.0,255.9 480.7,255.7 482.6,257.0 484.1,258.6 486.3,259.6 488.2,260.5 489.3,261.6 493.0,261.9 495.2,261.4 493.7,262.6 490.8,263.0 490.0,263.7 493.0,265.1 496.0,266.5 499.3,266.5 501.9,265.3 503.4,263.2 504.1,265.3 504.1,268.3 504.1,270.6 504.9,272.9 506.0,275.2 507.1,277.5 508.6,279.8 510.1,282.1 511.2,284.4 512.7,286.7 514.5,288.5 516.0,290.6 517.1,292.5 518.2,294.8 521.2,296.8 523.8,294.8 524.9,292.9 527.9,292.9 530.1,290.6 530.1,287.9 531.2,285.6 532.0,283.2 531.2,279.8 532.0,278.0 534.6,276.8 539.4,276.1 540.2,275.0 543.9,272.9 547.6,270.8 550.6,269.2 553.9,268.3 556.5,266.5 556.9,264.9 560.6,264.4 562.8,264.6 565.0,264.2 568.0,263.7 570.2,262.6 572.5,262.3 574.7,263.2 575.4,265.1 576.6,266.7 578.8,268.1 581.0,269.7 582.9,271.1 584.4,272.9 584.7,275.2 584.0,277.5 586.6,278.0 589.2,277.7 591.4,276.6 594.0,275.7 596.2,276.4 597.0,279.1 597.7,281.0 598.8,283.2 600.0,286.7 599.6,290.1 598.8,292.5 598.8,295.2 599.6,295.9 602.2,297.1 604.0,299.1 605.9,300.0 606.6,302.1 607.8,305.1 610.0,307.9 613.7,309.5 617.8,311.3 620.8,311.1 619.6,309.0 617.8,306.2 617.8,304.4 616.3,302.1 613.7,300.3 610.7,298.7 608.1,298.4 606.3,297.1 605.5,295.0 604.8,293.1 602.2,292.9 602.2,290.1 603.3,287.9 604.8,285.6 605.2,283.5 607.4,283.2 608.9,285.1 611.8,285.3 614.4,286.2 616.3,288.5 618.5,290.1 621.9,290.4 623.7,292.5 623.0,294.5 624.8,294.3 628.9,292.7 630.4,290.4 634.1,289.7 638.2,288.3 639.3,286.7 639.7,283.2 638.6,279.8 636.4,277.5 633.0,275.7 629.7,273.8 626.7,270.8 628.2,268.1 630.4,266.5 634.1,264.9 636.7,264.6 639.7,265.1 641.6,264.9 642.3,265.3"/><polyline points="530.5,292.0 531.6,291.8 533.8,292.9 535.7,294.8 537.6,297.1 537.2,299.4 535.3,300.0 533.1,300.7 531.2,300.3 530.5,298.7 530.1,295.9 530.5,293.6 530.5,292.0"/><polyline points="587.7,301.4 589.9,301.6 595.9,302.3 598.8,304.9 603.3,306.9 606.6,309.2 610.4,310.4 614.4,312.0 618.2,313.8 619.3,316.1 621.5,318.0 623.4,319.6 626.7,322.1 627.1,325.3 626.7,327.6 622.2,327.9 621.1,327.2 618.2,325.3 613.7,323.3 610.0,320.5 606.6,316.6 604.0,313.8 601.8,311.5 600.3,310.2 596.6,308.3 594.0,306.0 591.8,304.4 588.4,303.0 587.7,301.4"/><polyline points="644.2,330.2 640.4,329.9 637.1,329.9 636.0,328.8 631.2,328.1 627.4,327.9 624.5,329.9 625.6,330.2 628.9,331.3 634.9,332.2 640.4,332.2 644.2,332.9"/><polyline points="624.1,318.0 626.7,318.0 628.2,319.4 630.4,321.4 628.2,321.4 626.3,320.3 624.1,319.1 624.1,318.0"/><polyline points="644.2,309.7 640.8,309.7 638.6,310.9 638.6,313.1 639.3,315.5 642.3,317.8 644.2,318.9"/><polyline points="644.2,268.1 640.8,268.3 637.5,269.9 637.1,271.8 640.4,272.4 644.2,271.8"/><polyline points="382.3,213.8 385.3,214.1 388.2,214.9 392.3,215.8 398.0,216.6 403.9,218.1 410.0,219.6 413.0,218.1"/><polyline points="382.3,214.6 385.8,215.1 387.8,217.1 386.3,219.1 382.3,219.8"/><polyline points="426.5,286.3 429.2,286.3"/><polyline points="432.2,285.9 435.0,285.7"/><polyline points="589.3,307.9 591.8,309.3"/><polyline points="594.5,310.7 596.9,312.1"/><polyline points="600.3,315.5 602.7,317.1"/><polyline points="604.3,318.9 606.3,320.3"/><path stroke-width="1.1" stroke-linecap="round" d="M500.3 285.8h0.3M502.8 286.8h0.3M504.8 288.3h0.3M503.3 289.8h0.3M501.3 288.1h0.3M504.4 293.3h0.3M504.5 296.8h0.3M504.7 300.3h0.3M504.9 303.8h0.3M504.6 307.3h0.3M504.9 310.8h0.3M505.2 314.8h0.3M498.3 326.3h0.3M500.3 327.8h0.3M502.8 330.8h0.3M498.8 330.3h0.3M428.8 329.8h0.3M432.3 327.3h0.3M436.3 326.8h0.3M439.8 325.8h0.3M627.8 304.8h0.3M630.3 305.3h0.3M633.8 306.8h0.3"/></g><g clip-path="url(#clipd)" stroke="#000" stroke-linejoin="round"><polygon points="486.7,259.4 491.4,258.7 496.1,257.3 493.5,254.7 491.4,252.0 494.1,250.6 500.2,248.6 506.2,245.2 507.8,242.9 511.1,240.1 508.9,237.3 508.3,234.5 513.4,234.5 517.8,233.4 521.8,232.3 524.6,233.4 526.2,235.1 527.9,238.5 529.0,242.4 533.0,244.6 534.1,246.9 538.0,249.1 542.0,250.8 549.0,251.8 560.2,252.9 561.3,249.5 564.1,250.1 565.8,252.9 572.5,251.8 582.6,249.0 589.3,248.4 593.8,249.5 594.9,251.2 591.5,251.8 587.0,253.5 583.7,256.8 580.3,259.6 579.2,262.4 575.8,264.7 574.7,261.3 576.4,257.9 573.6,256.8 570.2,257.9 568.0,256.3 564.6,254.6 562.4,261.3 561.3,264.7 560.2,262.4 555.7,263.5 549.0,266.9 545.0,271.6 540.5,274.1 535.4,277.9 532.3,280.4 531.7,285.4 529.1,292.5 524.1,294.9 520.9,296.9 518.4,295.7 514.0,290.2 510.2,282.9 507.7,277.9 505.8,272.8 504.5,267.8 504.9,264.1 502.9,262.7 500.8,264.1 496.8,264.7 493.5,263.4 496.1,261.4 494.8,260.0 490.1,261.0 486.7,259.4" fill="none" stroke-width="2.5"/><polygon points="576.8,282.6 579.8,283.8 580.3,288.8 577.8,289.3 576.3,286.3" fill="#000" stroke-width="1"/><polygon points="578.3,293.0 580.8,293.8 582.8,298.8 580.8,299.6 578.8,296.3" fill="#000" stroke-width="1"/></g><g clip-path="url(#clipa)" fill="#0af00a" stroke="none"><polygon points="140.1,38.9 147.3,38.2 156.9,38.9 156.3,42.3 150.3,42.4 150.2,47.4 148.3,55.8 143.3,55.4 142.3,48.4 141.3,42.4 139.3,41.4"/><polygon points="130.0,56.4 134.3,55.8 139.0,57.4 137.3,62.4 133.3,67.0 130.0,65.4"/><polygon points="156.9,48.4 164.3,47.9 172.3,48.9 179.3,50.4 178.3,55.4 172.3,59.1 165.3,57.4 159.3,54.4 156.3,51.4"/><polygon points="178.2,47.9 186.0,48.4 185.3,51.3 179.3,50.9"/><polygon points="182.6,61.9 190.3,61.4 200.0,62.9 198.3,67.0 190.3,66.4 183.3,64.9"/><polygon points="143.4,61.4 152.4,61.7 151.3,64.7 144.3,64.4"/><polygon points="160.3,39.4 167.3,38.9 170.3,41.4 164.3,42.9"/></g><g clip-path="url(#clipa)" fill="none" stroke="#0af00a" stroke-width="2" stroke-linejoin="round"><polyline points="32.3,19.4 41.8,22.4 51.6,27.3 59.5,30.7 66.3,32.6 69.3,34.6 71.2,38.5 72.2,42.4 70.3,44.9 66.3,45.4 63.4,41.5 57.5,40.5 55.5,37.6 49.6,35.1 43.8,34.6 37.9,36.1 32.3,38.0"/><polyline points="277.8,99.4 279.3,95.9 283.3,95.9 285.3,99.4 283.3,102.4"/></g><g clip-path="url(#clipa)" fill="none" stroke="#0af00a" stroke-width="2.6" stroke-dasharray="6.5 4"><polyline points="82.3,69.4 95.2,78.9 105.7,84.1 116.2,91.5 130.9,99.9 140.3,103.9 150.0,107.9 161.2,111.4 173.8,113.5 186.4,116.3 199.0,114.9 208.8,111.4 211.6,107.2 213.0,101.6 222.8,96.0 228.4,90.4 231.2,84.8 234.0,80.6 240.3,79.9 248.7,75.7 252.9,69.4 250.3,65.4"/><polyline points="177.3,88.3 187.8,93.2 199.0,91.8 208.8,89.0 215.8,85.5 222.3,81.4"/><polyline points="91.0,67.3 101.5,66.3 112.0,68.4 124.6,64.2 133.0,62.1 141.4,60.0 149.8,55.4 157.3,51.4 171.0,48.4 181.5,49.4"/><polyline points="126.7,71.5 139.3,69.4 145.6,67.3 154.2,67.3 162.6,71.5 173.1,75.7 183.6,78.9 194.1,82.0 204.6,83.1"/><polyline points="150.0,61.0 162.6,63.1 171.0,67.3 183.6,71.5 194.1,73.6 204.6,74.7 213.0,74.7"/><polyline points="162.6,82.0 166.8,88.3 173.1,96.7 175.2,103.0"/><polyline points="136.3,37.4 142.3,40.4 146.3,45.4 148.3,51.4"/><polyline points="152.3,39.4 160.3,39.4 168.3,42.4 172.3,45.4"/><polyline points="232.3,71.4 238.3,75.4 244.3,77.4 248.3,81.4"/></g><g clip-path="url(#clipd)"><path d="M467.8 199.3L468.8 198.9M479.3 199.3L481.7 197.8M490.9 199.3L494.2 197.4M502.4 199.3L507.1 197.6M514.0 199.3L520.7 198.4M525.5 199.3L533.2 198.8M537.0 199.3L545.8 199.2M548.6 199.3L557.6 199.3M560.1 199.3L569.2 199.7M571.7 199.3L580.7 199.8M583.2 199.3L592.3 199.9M594.8 199.3L603.8 200.3M606.4 199.3L615.3 200.3M617.9 199.3L626.2 200.9M629.5 199.3L637.1 201.2M641.0 199.3L648.7 201.3M456.2 206.4L457.9 205.3M467.8 206.4L469.1 205.7M479.3 206.4L482.1 204.7M490.9 206.4L494.4 204.5M502.4 206.4L507.7 204.6M514.0 206.4L520.9 205.4M525.5 206.4L533.5 205.8M537.0 206.4L545.9 206.3M548.6 206.4L557.9 206.4M560.1 206.4L569.6 206.7M571.7 206.4L580.8 207.0M583.2 206.4L592.9 207.2M594.8 206.4L603.9 207.4M606.4 206.4L615.3 207.6M617.9 206.4L626.5 208.2M629.5 206.4L637.2 208.5M641.0 206.4L648.7 208.7M433.1 213.5L433.9 212.9M444.7 213.5L446.9 212.0M456.2 213.5L459.4 211.3M467.8 213.5L471.4 211.4M479.3 213.5L483.9 210.9M490.9 213.5L496.6 211.0M502.4 213.5L509.6 211.3M514.0 213.5L522.1 212.0M525.5 213.5L534.3 212.6M537.0 213.5L546.4 213.1M548.6 213.5L558.7 213.5M560.1 213.5L570.3 213.7M571.7 213.5L581.7 214.4M583.2 213.5L593.5 214.6M594.8 213.5L604.3 215.1M606.4 213.5L615.4 215.5M617.9 213.5L626.8 215.6M629.5 213.5L637.3 216.4M641.0 213.5L648.8 216.4M433.1 220.7L435.0 219.4M444.7 220.7L448.4 218.3M456.2 220.7L461.0 217.7M467.8 220.7L474.1 217.0M479.3 220.7L485.9 217.4M490.9 220.7L498.2 217.8M502.4 220.7L510.5 218.5M514.0 220.7L522.5 219.2M525.5 220.7L534.4 219.6M537.0 220.7L546.9 220.6M548.6 220.7L558.6 220.7M560.1 220.7L570.1 221.4M571.7 220.7L581.7 221.8M583.2 220.7L593.2 221.9M594.8 220.7L603.3 223.1M606.4 220.7L614.9 223.2M617.9 220.7L626.0 223.4M629.5 220.7L636.8 224.1M641.0 220.7L648.4 224.0M421.6 227.8L422.4 226.9M433.1 227.8L435.3 226.1M444.7 227.8L448.3 225.1M456.2 227.8L460.6 224.6M467.8 227.8L472.8 224.1M479.3 227.8L484.5 224.6M490.9 227.8L496.2 225.0M502.4 227.8L508.5 225.9M514.0 227.8L520.6 226.5M525.5 227.8L531.9 227.0M537.0 227.8L544.7 227.8M548.6 227.8L556.9 227.8M560.1 227.8L566.5 228.8M571.7 227.8L580.3 229.1M583.2 227.8L590.7 229.6M594.8 227.8L600.8 230.4M606.4 227.8L613.1 230.5M617.9 227.8L622.5 231.0M629.5 227.8L634.9 231.3M641.0 227.8L646.8 231.4M421.6 234.9L422.3 233.8M433.1 234.9L434.5 233.1M444.7 234.9L446.8 232.4M456.2 234.9L457.8 231.9M467.8 234.9L468.9 231.5M479.3 234.9L480.5 231.7M490.9 234.9L492.2 231.9M502.4 234.9L504.4 233.2M514.0 234.9L516.3 234.0M525.5 234.9L528.0 234.5M537.0 234.9L540.0 234.9M548.6 234.9L552.2 235.1M560.1 234.9L563.3 235.7M571.7 234.9L575.5 236.0M583.2 234.9L586.2 237.2M594.8 234.9L598.5 237.3M606.4 234.9L608.8 237.4M617.9 234.9L620.7 238.0M629.5 234.9L632.0 237.9M641.0 234.9L643.0 237.7M421.6 242.0L421.1 240.8M433.1 242.0L432.6 240.2M444.7 242.0L444.1 239.6M456.2 242.0L455.2 239.3M467.8 242.0L466.3 239.1M479.3 242.0L477.4 239.3M490.9 242.0L488.5 239.5M502.4 242.0L499.8 240.5M514.0 242.0L511.2 241.1M525.5 242.0L523.2 241.6M537.0 242.0L535.1 242.0M548.6 242.0L547.3 242.4M560.1 242.0L560.2 243.2M571.7 242.0L571.7 243.8M583.2 242.0L583.4 244.7M594.8 242.0L595.9 244.6M606.4 242.0L605.8 244.8M617.9 242.0L617.5 245.1M629.5 242.0L629.3 244.8M641.0 242.0L639.8 245.1M410.0 249.1L408.5 248.7M421.6 249.1L419.2 248.2M433.1 249.1L430.2 247.6M444.7 249.1L441.0 247.1M456.2 249.1L452.2 246.9M467.8 249.1L463.1 246.6M479.3 249.1L474.5 246.6M490.9 249.1L485.9 246.7M502.4 249.1L497.4 247.5M514.0 249.1L508.8 247.9M525.5 249.1L521.0 248.7M537.0 249.1L532.8 249.1M548.6 249.1L544.9 249.6M560.1 249.1L557.4 250.5M571.7 249.1L568.9 251.2M583.2 249.1L580.3 252.2M594.8 249.1L591.6 252.3M606.4 249.1L602.9 253.0M617.9 249.1L614.0 253.3M629.5 249.1L626.7 252.8M641.0 249.1L637.7 253.2M410.0 256.3L408.4 255.8M421.6 256.3L418.7 255.2M433.1 256.3L429.5 254.8M444.7 256.3L440.0 254.3M456.2 256.3L450.7 253.9M467.8 256.3L461.5 253.6M479.3 256.3L473.1 253.8M490.9 256.3L484.6 254.0M502.4 256.3L495.6 254.6M514.0 256.3L506.7 254.9M525.5 256.3L518.4 255.7M537.0 256.3L529.9 256.3M548.6 256.3L541.6 256.5M560.1 256.3L554.7 257.2M571.7 256.3L565.6 257.4M583.2 256.3L578.1 259.5M594.8 256.3L589.2 259.4M606.4 256.3L601.3 259.9M617.9 256.3L613.3 260.6M629.5 256.3L624.9 260.2M641.0 256.3L636.6 260.5M421.6 263.4L419.7 262.6M433.1 263.4L430.3 262.2M444.7 263.4L440.6 261.8M456.2 263.4L451.7 261.7M467.8 263.4L461.6 261.1M479.3 263.4L473.3 261.4M490.9 263.4L484.7 261.6M502.4 263.4L495.5 262.0M514.0 263.4L506.3 262.4M525.5 263.4L517.8 263.0M537.0 263.4L528.5 263.4M548.6 263.4L540.2 263.4M560.1 263.4L552.5 263.7M571.7 263.4L563.2 263.5M583.2 263.4L575.9 264.4M594.8 263.4L587.7 264.8M606.4 263.4L599.5 264.8M617.9 263.4L612.4 265.7M629.5 263.4L624.5 266.0M641.0 263.4L636.4 266.1M421.6 270.5L420.5 270.3M433.1 270.5L431.5 270.1M444.7 270.5L441.8 269.5M456.2 270.5L452.8 269.3M467.8 270.5L463.4 269.0M479.3 270.5L474.5 269.0M490.9 270.5L486.2 269.3M502.4 270.5L497.3 269.4M514.0 270.5L506.9 270.2M525.5 270.5L518.5 270.5M537.0 270.5L529.3 270.5M548.6 270.5L541.4 270.5M560.1 270.5L553.0 270.5M571.7 270.5L564.3 270.5M583.2 270.5L576.5 270.5M594.8 270.5L588.1 270.9M606.4 270.5L600.9 271.4M617.9 270.5L612.9 271.4M629.5 270.5L625.7 272.0M641.0 270.5L637.6 271.9M433.1 277.6L431.8 277.6M444.7 277.6L443.3 277.4M456.2 277.6L454.2 277.0M467.8 277.6L465.0 276.7M479.3 277.6L476.4 276.9M490.9 277.6L487.5 276.8M502.4 277.6L498.8 276.8M514.0 277.6L509.4 277.6M525.5 277.6L521.0 277.6M537.0 277.6L532.6 277.6M548.6 277.6L544.1 277.6M560.1 277.6L555.6 277.6M571.7 277.6L567.9 277.6M583.2 277.6L579.5 277.6M594.8 277.6L591.2 277.8M606.4 277.6L603.5 278.4M617.9 277.6L615.1 278.5M629.5 277.6L627.7 278.4M641.0 277.6L639.4 278.2M433.1 284.7L431.7 284.7M444.7 284.7L443.4 284.7M456.2 284.7L455.1 284.7M467.8 284.7L466.1 284.4M479.3 284.7L477.8 284.7M490.9 284.7L488.9 284.5M502.4 284.7L499.5 284.2M514.0 284.7L511.0 284.7M525.5 284.7L522.9 284.7M537.0 284.7L535.4 284.7M548.6 284.7L545.7 284.7M560.1 284.7L557.2 284.7M571.7 284.7L570.3 284.7M583.2 284.7L581.9 284.7M594.8 284.7L593.4 284.9M606.4 284.7L604.4 285.6M617.9 284.7L616.0 285.7M629.5 284.7L627.9 286.2M641.0 284.7L639.5 286.0M456.2 291.9L455.1 291.9M502.4 291.9L501.4 291.8M514.0 291.9L511.9 291.9M548.6 291.9L546.6 291.9M560.1 291.9L557.7 291.9M606.4 291.9L604.6 292.7M617.9 291.9L616.3 293.0M629.5 291.9L628.1 293.2M641.0 291.9L639.6 293.2M444.7 299.0L442.4 299.0M456.2 299.0L453.7 299.0M467.8 299.0L466.3 299.0M560.1 299.0L559.1 299.0M606.4 299.0L605.1 299.7M617.9 299.0L616.6 300.3M629.5 299.0L628.1 300.3M641.0 299.0L639.7 300.3M433.1 306.1L431.7 306.1M444.7 306.1L442.1 306.1M456.2 306.1L453.7 306.1M467.8 306.1L465.9 306.1M617.9 306.1L616.6 307.4M629.5 306.1L628.1 307.4M641.0 306.1L639.7 307.4M444.7 313.2L442.6 313.2M456.2 313.2L453.7 313.2M467.8 313.2L466.3 313.2M456.2 320.3L454.6 320.3" stroke="#1a1a1a" stroke-width="1.05" fill="none"/><path d="M469.2 198.7L468.9 199.7L468.2 198.2ZM483.2 196.8L482.0 198.9L480.8 197.0ZM496.5 196.2L494.5 198.6L493.4 196.6ZM510.1 196.5L507.2 198.8L506.4 196.6ZM523.8 197.9L520.5 199.5L520.2 197.3ZM536.4 198.6L533.0 200.0L532.8 197.7ZM549.0 199.2L545.5 200.4L545.5 198.1ZM560.8 199.3L557.3 200.5L557.3 198.2ZM572.4 199.8L568.8 200.8L568.9 198.5ZM583.9 200.0L580.3 200.9L580.4 198.6ZM595.5 200.1L591.9 201.0L592.1 198.7ZM607.0 200.6L603.4 201.4L603.6 199.1ZM618.5 200.7L614.9 201.4L615.2 199.1ZM629.3 201.5L625.7 202.0L626.1 199.7ZM640.3 202.0L636.6 202.3L637.1 200.0ZM651.8 202.1L648.1 202.3L648.7 200.1ZM458.8 204.7L458.2 206.3L457.0 204.6ZM469.8 205.4L469.3 206.7L468.4 205.0ZM483.9 203.6L482.4 205.8L481.2 203.9ZM496.9 203.2L494.7 205.7L493.6 203.6ZM510.7 203.5L507.8 205.8L507.0 203.6ZM524.1 204.9L520.8 206.5L520.4 204.3ZM536.7 205.6L533.3 207.0L533.1 204.7ZM549.1 206.2L545.6 207.4L545.6 205.1ZM561.1 206.4L557.6 207.6L557.6 205.3ZM572.8 206.8L569.3 207.8L569.4 205.5ZM584.0 207.2L580.4 208.1L580.6 205.8ZM596.1 207.5L592.5 208.3L592.7 206.0ZM607.1 207.8L603.5 208.6L603.7 206.3ZM618.5 208.1L614.9 208.7L615.2 206.4ZM629.7 208.9L626.0 209.3L626.5 207.0ZM640.3 209.3L636.6 209.5L637.2 207.3ZM651.8 209.6L648.1 209.7L648.8 207.5ZM434.1 212.7L434.2 213.7L433.2 212.4ZM448.3 211.1L447.3 213.1L446.0 211.2ZM461.6 209.7L459.8 212.4L458.5 210.5ZM473.9 209.9L471.7 212.5L470.5 210.5ZM486.6 209.4L484.2 212.1L483.0 210.1ZM499.5 209.8L496.8 212.2L495.9 210.1ZM512.7 210.3L509.7 212.5L509.0 210.3ZM525.3 211.4L522.0 213.2L521.6 210.9ZM537.4 212.3L534.1 213.8L533.8 211.5ZM549.6 213.0L546.2 214.3L546.1 212.0ZM561.9 213.5L558.4 214.7L558.4 212.4ZM573.5 213.7L570.0 214.8L570.0 212.5ZM584.8 214.7L581.3 215.5L581.5 213.2ZM596.7 214.9L593.1 215.7L593.3 213.4ZM607.4 215.6L603.8 216.2L604.2 213.9ZM618.5 216.2L614.8 216.6L615.3 214.3ZM629.9 216.4L626.2 216.7L626.8 214.4ZM640.3 217.4L636.6 217.3L637.4 215.2ZM651.8 217.6L648.1 217.4L648.9 215.3ZM436.1 218.6L435.4 220.5L434.1 218.6ZM451.1 216.6L448.8 219.4L447.6 217.5ZM463.7 216.0L461.3 218.8L460.1 216.9ZM476.9 215.4L474.5 218.1L473.3 216.1ZM488.8 216.0L486.1 218.6L485.1 216.5ZM501.2 216.6L498.4 219.0L497.5 216.8ZM513.5 217.7L510.5 219.7L509.9 217.5ZM525.7 218.6L522.5 220.3L522.1 218.1ZM537.6 219.2L534.3 220.8L534.0 218.5ZM550.1 220.6L546.6 221.7L546.6 219.4ZM561.8 220.7L558.3 221.8L558.3 219.5ZM573.3 221.6L569.7 222.5L569.9 220.2ZM584.9 222.2L581.3 222.9L581.5 220.6ZM596.4 222.2L592.8 223.0L593.1 220.7ZM606.4 224.0L602.7 224.2L603.4 222.0ZM617.9 224.1L614.2 224.2L614.9 222.0ZM629.1 224.4L625.4 224.4L626.1 222.2ZM639.7 225.5L636.0 225.0L637.0 222.9ZM651.3 225.3L647.6 224.9L648.6 222.8ZM422.8 226.5L422.8 227.7L421.6 226.5ZM436.7 225.0L435.8 227.2L434.4 225.3ZM450.8 223.3L448.7 226.3L447.3 224.4ZM463.2 222.7L461.0 225.7L459.7 223.8ZM475.4 222.3L473.3 225.2L471.9 223.4ZM487.2 222.9L484.9 225.7L483.7 223.8ZM499.0 223.5L496.5 226.1L495.4 224.1ZM511.6 225.0L508.6 227.1L507.9 224.9ZM523.7 225.9L520.5 227.7L520.1 225.4ZM535.1 226.6L531.8 228.2L531.5 225.9ZM547.9 227.8L544.4 228.9L544.4 226.6ZM560.1 227.9L556.6 229.0L556.7 226.7ZM569.6 229.3L566.0 229.9L566.4 227.6ZM583.5 229.6L579.8 230.2L580.2 228.0ZM593.8 230.4L590.2 230.7L590.7 228.4ZM603.8 231.7L600.1 231.4L601.0 229.3ZM616.0 231.7L612.3 231.5L613.2 229.3ZM625.1 232.8L621.6 231.8L622.9 229.9ZM637.5 233.1L634.0 232.1L635.2 230.2ZM649.5 233.0L645.9 232.2L647.1 230.2ZM422.6 233.4L422.8 234.6L421.4 233.6ZM435.3 232.1L435.2 234.1L433.4 232.7ZM448.1 230.8L447.4 233.4L445.7 231.9ZM458.8 229.9L458.7 232.7L456.6 231.6ZM469.6 229.2L469.9 232.1L467.7 231.4ZM481.3 229.7L481.5 232.4L479.3 231.6ZM493.0 230.0L493.1 232.7L491.0 231.8ZM505.5 232.1L504.9 234.2L503.4 232.5ZM517.7 233.4L516.4 235.2L515.6 233.0ZM529.5 234.3L527.9 235.7L527.5 233.4ZM541.9 234.9L539.7 236.0L539.7 233.7ZM554.6 235.3L551.8 236.3L551.9 234.0ZM565.4 236.3L562.8 236.8L563.3 234.5ZM578.0 236.8L574.9 237.0L575.5 234.8ZM588.2 238.8L585.3 237.9L586.7 236.1ZM601.1 238.9L597.7 238.1L598.9 236.2ZM610.5 239.1L607.8 238.0L609.4 236.4ZM622.6 240.1L619.6 238.5L621.3 237.0ZM633.8 239.9L631.0 238.4L632.7 236.9ZM644.3 239.6L641.9 238.1L643.7 236.8ZM420.9 240.2L422.0 240.8L420.4 241.3ZM432.4 239.2L433.7 240.2L431.7 240.7ZM443.8 238.1L445.3 239.6L443.1 240.1ZM454.6 237.6L456.4 239.2L454.2 240.0ZM465.4 237.2L467.5 238.9L465.4 239.9ZM476.1 237.5L478.5 238.9L476.6 240.2ZM486.9 237.8L489.5 238.9L487.9 240.5ZM498.2 239.5L500.7 239.6L499.5 241.6ZM509.5 240.5L511.9 240.1L511.2 242.3ZM521.9 241.4L523.7 240.6L523.3 242.8ZM534.0 242.0L535.4 241.0L535.4 243.1ZM546.7 242.6L547.3 241.5L547.8 243.2ZM560.2 243.6L559.4 243.0L561.0 242.9ZM571.7 244.7L570.7 243.5L572.7 243.5ZM583.5 246.3L582.2 244.4L584.5 244.3ZM596.5 246.3L594.7 244.8L596.8 243.9ZM605.4 246.6L604.7 244.3L607.0 244.7ZM617.2 247.1L616.4 244.6L618.6 245.0ZM629.2 246.6L628.2 244.5L630.5 244.6ZM639.1 247.1L638.9 244.4L641.0 245.2ZM407.9 248.5L409.1 247.9L408.5 249.7ZM417.8 247.6L419.9 247.2L419.0 249.3ZM428.2 246.7L430.9 246.8L429.9 248.8ZM438.6 245.7L441.9 246.2L440.7 248.2ZM449.4 245.3L453.0 246.0L451.9 248.0ZM460.3 245.0L463.9 245.7L462.8 247.7ZM471.7 245.1L475.3 245.7L474.2 247.8ZM483.0 245.2L486.7 245.8L485.7 247.8ZM494.3 246.5L498.0 246.5L497.3 248.7ZM505.7 247.2L509.4 246.9L508.9 249.1ZM517.9 248.3L521.4 247.6L521.2 249.8ZM529.9 249.1L533.1 248.0L533.1 250.3ZM542.3 249.9L545.0 248.4L545.3 250.7ZM555.6 251.4L557.1 249.3L558.2 251.4ZM567.1 252.5L568.5 250.1L569.9 251.9ZM578.3 254.3L579.7 251.2L581.4 252.8ZM589.4 254.4L591.0 251.2L592.6 252.9ZM600.8 255.4L602.3 252.0L604.0 253.5ZM611.8 255.7L613.3 252.3L615.0 253.9ZM624.8 255.3L626.0 251.9L627.8 253.2ZM635.7 255.7L637.0 252.2L638.8 253.7ZM407.6 255.5L409.0 254.9L408.4 256.8ZM416.9 254.5L419.4 254.2L418.6 256.4ZM427.0 253.8L430.2 253.8L429.3 256.0ZM437.0 253.0L440.7 253.3L439.8 255.5ZM447.7 252.7L451.4 253.0L450.5 255.1ZM458.5 252.3L462.2 252.7L461.3 254.8ZM470.1 252.7L473.8 252.9L472.9 255.0ZM481.6 252.9L485.3 253.0L484.5 255.2ZM492.5 253.8L496.1 253.5L495.6 255.8ZM503.6 254.4L507.2 253.9L506.8 256.1ZM515.3 255.4L518.8 254.6L518.6 256.8ZM526.7 256.3L530.2 255.1L530.2 257.4ZM538.4 256.7L541.9 255.4L541.9 257.7ZM551.5 257.8L554.8 256.0L555.2 258.3ZM562.4 258.0L565.6 256.2L566.1 258.5ZM575.4 261.2L577.7 258.3L578.9 260.3ZM586.4 260.9L588.9 258.2L590.0 260.2ZM598.7 261.8L600.9 258.8L602.2 260.7ZM611.0 262.8L612.8 259.5L614.3 261.2ZM622.5 262.3L624.4 259.1L625.9 260.8ZM634.3 262.7L636.1 259.4L637.7 261.1ZM418.7 262.2L420.4 261.8L419.6 263.7ZM428.5 261.5L431.0 261.3L430.1 263.4ZM437.9 260.7L441.3 260.8L440.5 262.9ZM448.7 260.5L452.3 260.7L451.5 262.8ZM458.6 260.0L462.3 260.2L461.5 262.3ZM470.2 260.4L473.9 260.4L473.2 262.6ZM481.7 260.7L485.3 260.6L484.7 262.8ZM492.4 261.4L496.0 260.9L495.6 263.2ZM503.2 262.0L506.8 261.3L506.5 263.6ZM514.6 262.9L518.2 261.9L518.0 264.2ZM525.3 263.4L528.8 262.2L528.8 264.5ZM537.0 263.4L540.5 262.3L540.5 264.6ZM549.3 263.9L552.8 262.6L552.9 264.9ZM560.0 263.6L563.4 262.4L563.5 264.7ZM572.7 264.8L576.0 263.2L576.3 265.5ZM584.5 265.4L587.8 263.6L588.2 265.8ZM596.4 265.5L599.6 263.6L600.0 265.9ZM609.4 266.9L612.2 264.5L613.1 266.6ZM621.7 267.5L624.2 264.9L625.3 266.9ZM633.6 267.7L636.1 264.9L637.2 266.9ZM420.1 270.3L420.9 269.6L420.6 271.2ZM430.8 270.0L432.1 269.3L431.6 271.1ZM440.0 268.9L442.5 268.5L441.7 270.7ZM450.6 268.5L453.5 268.3L452.7 270.5ZM460.4 268.0L464.1 268.0L463.4 270.2ZM471.5 268.1L475.2 268.0L474.5 270.2ZM483.1 268.5L486.7 268.2L486.2 270.5ZM494.2 268.7L497.8 268.3L497.4 270.6ZM503.7 270.1L507.2 269.1L507.1 271.4ZM515.3 270.5L518.8 269.3L518.8 271.6ZM526.1 270.5L529.6 269.3L529.6 271.6ZM538.2 270.5L541.7 269.4L541.7 271.7ZM549.8 270.5L553.3 269.4L553.4 271.7ZM561.1 270.5L564.6 269.4L564.6 271.7ZM573.3 270.5L576.8 269.4L576.8 271.7ZM584.9 271.1L588.3 269.7L588.5 272.0ZM597.7 271.9L601.0 270.2L601.3 272.5ZM609.8 272.0L613.0 270.2L613.4 272.5ZM623.2 273.0L625.6 270.8L626.4 272.9ZM635.3 272.8L637.4 270.7L638.3 272.8ZM431.3 277.6L432.1 276.7L432.1 278.5ZM442.7 277.4L443.7 276.6L443.5 278.4ZM453.0 276.7L454.8 276.1L454.2 278.2ZM463.3 276.2L465.7 275.7L465.0 277.9ZM474.6 276.4L477.0 275.9L476.4 278.1ZM485.3 276.3L488.0 275.8L487.5 278.0ZM496.4 276.2L499.3 275.7L498.8 278.0ZM506.2 277.6L509.7 276.5L509.7 278.8ZM517.8 277.6L521.3 276.5L521.3 278.8ZM529.4 277.6L532.9 276.5L532.9 278.8ZM540.9 277.6L544.4 276.5L544.4 278.8ZM552.4 277.6L555.9 276.5L555.9 278.8ZM565.3 277.6L568.2 276.5L568.2 278.8ZM577.0 277.6L579.8 276.5L579.8 278.8ZM588.8 277.9L591.4 276.6L591.5 278.9ZM601.7 279.0L603.5 277.3L604.1 279.5ZM613.4 279.0L615.1 277.3L615.7 279.5ZM626.8 278.8L627.5 277.3L628.4 279.2ZM638.5 278.4L639.3 277.1L639.9 279.0ZM431.1 284.7L432.0 283.8L432.0 285.6ZM443.0 284.7L443.8 283.9L443.7 285.6ZM454.7 284.6L455.4 283.9L455.3 285.5ZM465.3 284.3L466.6 283.5L466.2 285.4ZM477.1 284.6L478.1 283.8L478.0 285.6ZM487.9 284.4L489.3 283.5L489.1 285.6ZM497.6 283.8L500.0 283.1L499.6 285.4ZM509.2 284.7L511.3 283.6L511.3 285.9ZM521.4 284.7L523.2 283.6L523.2 285.9ZM534.7 284.7L535.7 283.8L535.7 285.7ZM543.8 284.7L546.0 283.6L546.0 285.9ZM555.4 284.7L557.5 283.6L557.5 285.9ZM569.6 284.7L570.6 283.8L570.6 285.6ZM581.3 284.7L582.2 283.9L582.2 285.6ZM592.7 284.9L593.6 283.9L593.7 285.8ZM603.4 286.1L604.3 284.5L605.2 286.5ZM615.0 286.3L615.8 284.6L616.8 286.5ZM627.0 287.0L627.4 285.2L628.8 286.8ZM638.7 286.6L639.1 285.0L640.4 286.6ZM454.8 291.9L455.4 291.0L455.4 292.7ZM501.1 291.8L501.7 291.0L501.6 292.6ZM510.7 291.9L512.2 290.8L512.2 292.9ZM545.5 291.9L546.9 290.8L546.9 292.9ZM556.3 291.9L558.0 290.7L558.0 293.0ZM603.7 293.2L604.4 291.7L605.3 293.5ZM615.4 293.6L616.0 292.0L617.2 293.7ZM627.3 294.0L627.5 292.3L629.0 293.8ZM638.9 294.0L639.1 292.3L640.6 293.8ZM441.1 299.0L442.7 297.9L442.7 300.1ZM452.2 299.0L454.0 297.8L454.0 300.1ZM465.6 299.0L466.6 298.1L466.6 299.9ZM558.8 299.0L559.4 298.2L559.4 299.8ZM604.6 300.0L605.0 298.7L605.9 300.3ZM615.8 301.0L616.1 299.3L617.5 300.8ZM627.4 301.0L627.6 299.4L629.1 300.8ZM639.0 301.0L639.2 299.4L640.6 300.8ZM431.2 306.1L432.0 305.2L432.0 307.0ZM440.6 306.1L442.4 304.9L442.4 307.2ZM452.2 306.1L454.0 304.9L454.0 307.2ZM464.9 306.1L466.2 305.1L466.2 307.1ZM615.9 308.1L616.1 306.5L617.5 307.9ZM627.4 308.1L627.6 306.5L629.1 307.9ZM639.0 308.1L639.2 306.5L640.6 307.9ZM441.4 313.2L442.9 312.1L442.9 314.3ZM452.2 313.2L454.0 312.1L454.0 314.4ZM465.7 313.2L466.6 312.3L466.6 314.1ZM453.8 320.3L454.9 319.4L454.9 321.3Z" fill="#111"/><path d="M386.4 198.8h1.2v1.2h-1.2zM397.9 198.8h1.2v1.2h-1.2zM409.4 198.8h1.2v1.2h-1.2zM421.0 198.8h1.2v1.2h-1.2zM432.6 198.8h1.2v1.2h-1.2zM444.1 198.8h1.2v1.2h-1.2zM455.7 198.8h1.2v1.2h-1.2zM386.4 205.9h1.2v1.2h-1.2zM397.9 205.9h1.2v1.2h-1.2zM409.4 205.9h1.2v1.2h-1.2zM421.0 205.9h1.2v1.2h-1.2zM432.6 205.9h1.2v1.2h-1.2zM444.1 205.9h1.2v1.2h-1.2zM386.4 213.0h1.2v1.2h-1.2zM397.9 213.0h1.2v1.2h-1.2zM409.4 213.0h1.2v1.2h-1.2zM421.0 213.0h1.2v1.2h-1.2zM386.4 220.1h1.2v1.2h-1.2zM397.9 220.1h1.2v1.2h-1.2zM409.4 220.1h1.2v1.2h-1.2zM421.0 220.1h1.2v1.2h-1.2zM386.4 227.2h1.2v1.2h-1.2zM397.9 227.2h1.2v1.2h-1.2zM409.4 227.2h1.2v1.2h-1.2zM386.4 234.3h1.2v1.2h-1.2zM397.9 234.3h1.2v1.2h-1.2zM409.4 234.3h1.2v1.2h-1.2zM386.4 241.5h1.2v1.2h-1.2zM397.9 241.5h1.2v1.2h-1.2zM409.4 241.5h1.2v1.2h-1.2zM386.4 248.6h1.2v1.2h-1.2zM397.9 248.6h1.2v1.2h-1.2zM386.4 255.7h1.2v1.2h-1.2zM397.9 255.7h1.2v1.2h-1.2zM386.4 262.8h1.2v1.2h-1.2zM397.9 262.8h1.2v1.2h-1.2zM409.4 262.8h1.2v1.2h-1.2zM386.4 269.9h1.2v1.2h-1.2zM397.9 269.9h1.2v1.2h-1.2zM409.4 269.9h1.2v1.2h-1.2zM386.4 277.1h1.2v1.2h-1.2zM397.9 277.1h1.2v1.2h-1.2zM409.4 277.1h1.2v1.2h-1.2zM421.0 277.1h1.2v1.2h-1.2zM386.4 284.2h1.2v1.2h-1.2zM397.9 284.2h1.2v1.2h-1.2zM409.4 284.2h1.2v1.2h-1.2zM421.0 284.2h1.2v1.2h-1.2zM386.4 291.3h1.2v1.2h-1.2zM397.9 291.3h1.2v1.2h-1.2zM409.4 291.3h1.2v1.2h-1.2zM421.0 291.3h1.2v1.2h-1.2zM432.6 291.3h1.2v1.2h-1.2zM444.1 291.3h1.2v1.2h-1.2zM467.2 291.3h1.2v1.2h-1.2zM478.8 291.3h1.2v1.2h-1.2zM490.3 291.3h1.2v1.2h-1.2zM525.0 291.3h1.2v1.2h-1.2zM536.5 291.3h1.2v1.2h-1.2zM571.2 291.3h1.2v1.2h-1.2zM582.7 291.3h1.2v1.2h-1.2zM594.2 291.3h1.2v1.2h-1.2zM386.4 298.4h1.2v1.2h-1.2zM397.9 298.4h1.2v1.2h-1.2zM409.4 298.4h1.2v1.2h-1.2zM421.0 298.4h1.2v1.2h-1.2zM432.6 298.4h1.2v1.2h-1.2zM478.8 298.4h1.2v1.2h-1.2zM490.3 298.4h1.2v1.2h-1.2zM501.8 298.4h1.2v1.2h-1.2zM513.4 298.4h1.2v1.2h-1.2zM525.0 298.4h1.2v1.2h-1.2zM536.5 298.4h1.2v1.2h-1.2zM548.1 298.4h1.2v1.2h-1.2zM571.2 298.4h1.2v1.2h-1.2zM582.7 298.4h1.2v1.2h-1.2zM594.2 298.4h1.2v1.2h-1.2zM386.4 305.6h1.2v1.2h-1.2zM397.9 305.6h1.2v1.2h-1.2zM409.4 305.6h1.2v1.2h-1.2zM421.0 305.6h1.2v1.2h-1.2zM478.8 305.6h1.2v1.2h-1.2zM490.3 305.6h1.2v1.2h-1.2zM501.8 305.6h1.2v1.2h-1.2zM513.4 305.6h1.2v1.2h-1.2zM525.0 305.6h1.2v1.2h-1.2zM536.5 305.6h1.2v1.2h-1.2zM548.1 305.6h1.2v1.2h-1.2zM559.6 305.6h1.2v1.2h-1.2zM571.2 305.6h1.2v1.2h-1.2zM582.7 305.6h1.2v1.2h-1.2zM594.2 305.6h1.2v1.2h-1.2zM605.8 305.6h1.2v1.2h-1.2zM386.4 312.7h1.2v1.2h-1.2zM397.9 312.7h1.2v1.2h-1.2zM409.4 312.7h1.2v1.2h-1.2zM421.0 312.7h1.2v1.2h-1.2zM432.6 312.7h1.2v1.2h-1.2zM478.8 312.7h1.2v1.2h-1.2zM490.3 312.7h1.2v1.2h-1.2zM501.8 312.7h1.2v1.2h-1.2zM513.4 312.7h1.2v1.2h-1.2zM525.0 312.7h1.2v1.2h-1.2zM536.5 312.7h1.2v1.2h-1.2zM548.1 312.7h1.2v1.2h-1.2zM559.6 312.7h1.2v1.2h-1.2zM571.2 312.7h1.2v1.2h-1.2zM582.7 312.7h1.2v1.2h-1.2zM594.2 312.7h1.2v1.2h-1.2zM605.8 312.7h1.2v1.2h-1.2zM617.4 312.7h1.2v1.2h-1.2zM628.9 312.7h1.2v1.2h-1.2zM640.5 312.7h1.2v1.2h-1.2zM386.4 319.8h1.2v1.2h-1.2zM397.9 319.8h1.2v1.2h-1.2zM409.4 319.8h1.2v1.2h-1.2zM421.0 319.8h1.2v1.2h-1.2zM432.6 319.8h1.2v1.2h-1.2zM444.1 319.8h1.2v1.2h-1.2zM467.2 319.8h1.2v1.2h-1.2zM478.8 319.8h1.2v1.2h-1.2zM490.3 319.8h1.2v1.2h-1.2zM501.8 319.8h1.2v1.2h-1.2zM513.4 319.8h1.2v1.2h-1.2zM525.0 319.8h1.2v1.2h-1.2zM536.5 319.8h1.2v1.2h-1.2zM548.1 319.8h1.2v1.2h-1.2zM559.6 319.8h1.2v1.2h-1.2zM571.2 319.8h1.2v1.2h-1.2zM582.7 319.8h1.2v1.2h-1.2zM594.2 319.8h1.2v1.2h-1.2zM605.8 319.8h1.2v1.2h-1.2zM617.4 319.8h1.2v1.2h-1.2zM628.9 319.8h1.2v1.2h-1.2zM640.5 319.8h1.2v1.2h-1.2zM386.4 326.9h1.2v1.2h-1.2zM397.9 326.9h1.2v1.2h-1.2zM409.4 326.9h1.2v1.2h-1.2zM421.0 326.9h1.2v1.2h-1.2zM432.6 326.9h1.2v1.2h-1.2zM444.1 326.9h1.2v1.2h-1.2zM455.7 326.9h1.2v1.2h-1.2zM467.2 326.9h1.2v1.2h-1.2zM478.8 326.9h1.2v1.2h-1.2zM490.3 326.9h1.2v1.2h-1.2zM501.8 326.9h1.2v1.2h-1.2zM513.4 326.9h1.2v1.2h-1.2zM525.0 326.9h1.2v1.2h-1.2zM536.5 326.9h1.2v1.2h-1.2zM548.1 326.9h1.2v1.2h-1.2zM559.6 326.9h1.2v1.2h-1.2zM571.2 326.9h1.2v1.2h-1.2zM582.7 326.9h1.2v1.2h-1.2zM594.2 326.9h1.2v1.2h-1.2zM605.8 326.9h1.2v1.2h-1.2zM617.4 326.9h1.2v1.2h-1.2zM628.9 326.9h1.2v1.2h-1.2zM640.5 326.9h1.2v1.2h-1.2zM386.4 334.0h1.2v1.2h-1.2zM397.9 334.0h1.2v1.2h-1.2zM409.4 334.0h1.2v1.2h-1.2zM421.0 334.0h1.2v1.2h-1.2zM432.6 334.0h1.2v1.2h-1.2zM444.1 334.0h1.2v1.2h-1.2zM455.7 334.0h1.2v1.2h-1.2zM467.2 334.0h1.2v1.2h-1.2zM478.8 334.0h1.2v1.2h-1.2zM490.3 334.0h1.2v1.2h-1.2zM501.8 334.0h1.2v1.2h-1.2zM513.4 334.0h1.2v1.2h-1.2zM525.0 334.0h1.2v1.2h-1.2zM536.5 334.0h1.2v1.2h-1.2zM548.1 334.0h1.2v1.2h-1.2zM559.6 334.0h1.2v1.2h-1.2zM571.2 334.0h1.2v1.2h-1.2zM582.7 334.0h1.2v1.2h-1.2zM594.2 334.0h1.2v1.2h-1.2zM605.8 334.0h1.2v1.2h-1.2zM617.4 334.0h1.2v1.2h-1.2zM628.9 334.0h1.2v1.2h-1.2zM640.5 334.0h1.2v1.2h-1.2z" fill="#444"/></g><g clip-path="url(#clipb)"><path d="M574.7 17.9L575.9 17.9M583.3 17.9L584.5 17.9M591.9 17.9L593.1 17.9M600.5 17.9L601.8 17.9M609.1 17.9L611.4 17.9M617.7 17.9L620.7 17.9M626.3 17.9L629.4 17.9M634.9 17.9L638.0 17.9M419.9 23.2L421.1 23.7M428.5 23.2L430.2 23.8M437.1 23.2L438.8 23.8M445.7 23.2L447.1 23.7M557.5 23.2L559.7 23.3M566.1 23.2L570.7 23.2M574.7 23.2L579.9 23.2M583.3 23.2L588.5 23.2M591.9 23.2L597.1 23.2M600.5 23.2L605.7 23.2M609.1 23.2L613.9 23.2M617.7 23.2L621.9 23.3M626.3 23.2L630.3 23.3M634.9 23.2L638.8 23.3M419.9 28.6L421.5 29.2M428.5 28.6L430.3 29.3M437.1 28.6L439.0 29.3M445.7 28.6L447.5 29.2M557.5 28.6L561.1 28.6M566.1 28.6L572.1 28.6M574.7 28.6L581.0 28.6M583.3 28.6L589.6 28.6M591.9 28.6L598.3 28.6M600.5 28.6L606.9 28.6M609.1 28.6L615.3 28.6M617.7 28.6L623.2 28.6M626.3 28.6L631.1 28.6M634.9 28.6L639.6 28.6M419.9 33.9L421.1 34.9M428.5 33.9L429.9 34.9M437.1 33.9L438.8 34.7M445.7 33.9L447.4 34.4M454.3 33.9L455.5 34.0M523.1 33.9L524.3 34.0M531.7 33.9L533.5 34.0M540.3 33.9L542.2 34.0M548.9 33.9L550.8 34.0M557.5 33.9L559.9 34.0M566.1 33.9L570.6 34.0M574.7 33.9L580.1 33.9M583.3 33.9L588.8 33.9M591.9 33.9L597.7 33.8M600.5 33.9L606.2 33.9M609.1 33.9L614.8 33.9M617.7 33.9L623.1 34.1M626.3 33.9L631.6 34.1M634.9 33.9L640.3 34.1M419.9 39.3L420.2 40.7M428.5 39.3L429.1 40.7M437.1 39.3L438.4 39.9M445.7 39.3L447.2 39.2M454.3 39.3L455.6 39.0M462.9 39.3L464.0 38.8M471.5 39.3L472.6 38.8M480.1 39.3L481.2 38.8M523.1 39.3L525.0 39.4M531.7 39.3L533.9 39.4M540.3 39.3L542.6 39.4M548.9 39.3L551.2 39.4M557.5 39.3L559.8 39.4M566.1 39.3L568.6 39.4M574.7 39.3L577.6 39.3M583.3 39.3L586.3 39.2M591.9 39.3L595.1 39.0M600.5 39.3L603.7 39.1M609.1 39.3L612.3 39.2M617.7 39.3L621.2 39.6M626.3 39.3L630.2 39.9M634.9 39.3L639.3 40.0M419.9 44.6L420.0 45.8M428.5 44.6L428.8 45.9M437.1 44.6L438.3 44.7M445.7 44.6L447.0 44.2M454.3 44.6L455.5 44.1M462.9 44.6L464.1 44.1M471.5 44.6L472.8 44.2M480.1 44.6L481.4 44.3M488.7 44.6L490.1 44.4M497.3 44.6L498.6 44.6M523.1 44.6L525.3 44.8M531.7 44.6L534.3 44.8M540.3 44.6L542.9 44.8M548.9 44.6L551.5 44.8M557.5 44.6L560.1 44.9M566.1 44.6L568.6 45.0M574.7 44.6L577.2 45.0M583.3 44.6L585.8 44.9M591.9 44.6L594.4 44.6M600.5 44.6L603.0 44.4M609.1 44.6L611.6 44.6M617.7 44.6L620.4 44.9M626.3 44.6L629.2 45.2M634.9 44.6L637.7 45.4M445.7 50.0L446.8 49.5M454.3 50.0L455.4 49.5M462.9 50.0L464.3 49.7M471.5 50.0L473.1 49.8M480.1 50.0L481.7 49.8M488.7 50.0L490.3 49.9M497.3 50.0L498.9 49.9M523.1 50.0L525.5 50.1M531.7 50.0L534.5 50.1M540.3 50.0L543.2 50.1M548.9 50.0L551.8 50.1M557.5 50.0L560.3 50.4M566.1 50.0L568.7 50.7M574.7 50.0L577.3 50.8M583.3 50.0L585.8 50.8M591.9 50.0L594.1 50.7M462.9 55.3L464.4 55.1M471.5 55.3L473.2 55.1M480.1 55.3L481.8 55.1M488.7 55.3L490.4 55.1M497.3 55.3L498.9 55.2M505.9 55.3L507.5 55.7M514.5 55.3L516.4 56.0M523.1 55.3L525.3 55.9M531.7 55.3L534.3 55.7M540.3 55.3L542.9 55.6M548.9 55.3L551.5 55.7M557.5 55.3L560.1 55.9M566.1 55.3L568.7 56.2M574.7 55.3L577.2 56.3M583.3 55.3L585.8 56.3M591.9 55.3L593.9 56.2M462.9 60.7L464.4 60.5M471.5 60.7L473.2 60.4M480.1 60.7L481.9 60.5M488.7 60.7L490.5 60.5M497.3 60.7L499.1 60.6M505.9 60.7L508.0 61.0M514.5 60.7L516.7 61.2M523.1 60.7L525.4 61.2M531.7 60.7L534.0 61.2M540.3 60.7L542.6 61.2M548.9 60.7L551.2 61.3M557.5 60.7L559.8 61.4M566.1 60.7L568.4 61.5M574.7 60.7L576.9 61.6M583.3 60.7L585.4 61.5M591.9 60.7L593.2 61.2M437.1 66.0L439.0 66.1M445.7 66.0L448.0 66.1M454.3 66.0L456.6 66.1M462.9 66.0L465.1 66.0M471.5 66.0L473.6 66.0M480.1 66.0L482.2 66.0M488.7 66.0L490.9 66.0M497.3 66.0L499.5 66.0M505.9 66.0L508.2 66.1M514.5 66.0L516.9 66.2M523.1 66.0L525.5 66.2M531.7 66.0L534.2 66.2M540.3 66.0L542.8 66.2M548.9 66.0L551.2 66.4M557.5 66.0L559.3 66.6M566.1 66.0L567.4 66.5M428.5 71.4L429.6 71.4M437.1 71.4L439.5 71.4M445.7 71.4L448.3 71.5M454.3 71.4L457.0 71.6M462.9 71.4L465.6 71.6M471.5 71.4L474.2 71.6M480.1 71.4L482.7 71.6M488.7 71.4L491.3 71.6M497.3 71.4L499.9 71.6M505.9 71.4L508.4 71.5M514.5 71.4L516.8 71.5M523.1 71.4L525.4 71.5M531.7 71.4L534.0 71.5M540.3 71.4L542.6 71.5M548.9 71.4L550.9 71.3M557.5 71.4L558.7 70.9M437.1 76.8L439.2 76.8M445.7 76.8L448.5 77.2M454.3 76.8L457.3 77.3M462.9 76.8L466.0 77.3M471.5 76.8L474.6 77.3M480.1 76.8L483.2 77.3M488.7 76.8L491.8 77.3M497.3 76.8L500.3 77.3M505.9 76.8L508.8 77.3M514.5 76.8L516.8 77.2M523.1 76.8L525.4 76.9M531.7 76.8L534.1 76.7M540.3 76.8L542.7 76.3M548.9 76.8L551.6 75.1M557.5 76.8L560.4 74.5M566.1 76.8L568.8 74.5M574.7 76.8L577.3 74.6M583.3 76.8L585.4 75.0M437.1 82.1L438.6 82.4M445.7 82.1L448.9 82.7M454.3 82.1L457.9 82.8M462.9 82.1L466.5 82.9M471.5 82.1L475.1 82.9M480.1 82.1L483.7 82.9M488.7 82.1L492.3 82.9M497.3 82.1L500.9 82.9M505.9 82.1L509.4 82.8M514.5 82.1L517.1 82.4M523.1 82.1L525.7 81.0M531.7 82.1L534.5 80.5M540.3 82.1L543.4 80.2M548.9 82.1L552.2 79.6M557.5 82.1L560.9 79.4M566.1 82.1L569.5 79.3M574.7 82.1L578.1 79.3M583.3 82.1L586.3 79.6M591.9 82.1L593.4 80.9M437.1 87.5L439.8 87.7M445.7 87.5L449.2 87.9M454.3 87.5L458.1 88.0M462.9 87.5L466.7 88.0M471.5 87.5L475.3 88.0M480.1 87.5L483.9 88.0M488.7 87.5L492.5 88.0M497.3 87.5L501.1 88.0M505.9 87.5L509.6 88.0M514.5 87.5L517.4 87.7M523.1 87.5L525.9 85.5M531.7 87.5L535.2 84.8M540.3 87.5L543.8 84.7M548.9 87.5L552.5 84.7M557.5 87.5L561.1 84.6M566.1 87.5L569.7 84.6M574.7 87.5L578.3 84.6M583.3 87.5L586.8 84.7M591.9 87.5L594.2 85.7M428.5 92.8L430.1 93.0M437.1 92.8L440.4 93.0M445.7 92.8L449.4 93.0M454.3 92.8L458.1 93.1M462.9 92.8L466.7 93.1M471.5 92.8L475.3 93.1M480.1 92.8L483.9 93.1M488.7 92.8L492.5 93.1M497.3 92.8L501.1 93.1M505.9 92.8L509.6 93.1M514.5 92.8L517.6 92.9M523.1 92.8L526.1 90.8M531.7 92.8L535.6 90.0M540.3 92.8L544.3 89.9M548.9 92.8L552.9 89.9M557.5 92.8L561.5 89.9M566.1 92.8L570.1 89.9M574.7 92.8L578.7 89.9M583.3 92.8L587.2 90.0M591.9 92.8L595.2 90.6M600.5 92.8L601.6 92.1M385.5 98.2L386.5 99.1M394.1 98.2L395.1 99.2M402.7 98.2L403.7 99.2M411.3 98.2L412.3 99.2M419.9 98.2L420.9 99.2M428.5 98.2L430.0 98.9M437.1 98.2L440.5 98.3M445.7 98.2L449.6 98.2M454.3 98.2L458.3 98.2M462.9 98.2L466.9 98.2M471.5 98.2L475.5 98.2M480.1 98.2L484.1 98.2M488.7 98.2L492.7 98.2M497.3 98.2L501.3 98.2M505.9 98.2L509.8 98.2M514.5 98.2L517.9 98.2M523.1 98.2L526.4 96.9M531.7 98.2L536.0 96.0M540.3 98.2L544.7 95.9M548.9 98.2L553.3 95.9M557.5 98.2L561.9 95.8M566.1 98.2L570.4 95.7M574.7 98.2L578.8 95.5M583.3 98.2L587.4 95.5M591.9 98.2L595.7 95.8M600.5 98.2L602.9 96.7M385.5 103.5L386.7 104.7M394.1 103.5L395.3 104.7M402.7 103.5L403.9 104.7M411.3 103.5L412.5 104.7M419.9 103.5L421.2 104.7M428.5 103.5L430.3 104.4M437.1 103.5L440.9 103.7M445.7 103.5L450.3 103.5M454.3 103.5L458.9 103.5M462.9 103.5L467.5 103.5M471.5 103.5L476.1 103.5M480.1 103.5L484.7 103.5M488.7 103.5L493.3 103.5M497.3 103.5L501.9 103.5M505.9 103.5L510.6 103.5M514.5 103.5L519.4 103.6M523.1 103.5L528.4 103.3M531.7 103.5L537.0 102.8M540.3 103.5L545.6 102.6M548.9 103.5L554.2 102.5M557.5 103.5L562.5 102.1M566.1 103.5L570.7 101.6M574.7 103.5L579.0 101.3M583.3 103.5L587.5 101.2M591.9 103.5L595.8 101.2M600.5 103.5L603.3 101.9M385.5 108.8L386.8 110.1M394.1 108.8L395.4 110.2M402.7 108.8L404.0 110.2M411.3 108.8L412.6 110.2M419.9 108.8L421.3 110.1M428.5 108.8L430.9 109.7M437.1 108.8L441.5 109.1M445.7 108.8L450.9 108.9M454.3 108.8L459.5 108.9M462.9 108.8L468.2 109.0M471.5 108.8L476.8 109.0M480.1 108.8L485.4 109.0M488.7 108.8L494.0 109.0M497.3 108.8L502.7 108.9M505.9 108.8L511.5 108.9M514.5 108.8L520.5 108.9M523.1 108.8L529.3 108.9M531.7 108.8L537.8 108.8M540.3 108.8L546.3 108.6M548.9 108.8L554.6 108.2M557.5 108.8L562.6 107.7M566.1 108.8L570.7 107.2M574.7 108.8L579.2 107.0M583.3 108.8L587.7 107.0M591.9 108.8L595.5 107.0M600.5 108.8L602.6 107.7M385.5 114.2L386.8 115.5M394.1 114.2L395.4 115.5M402.7 114.2L404.0 115.5M411.3 114.2L412.6 115.5M419.9 114.2L421.3 115.5M428.5 114.2L430.5 115.2M437.1 114.2L440.8 114.4M445.7 114.2L450.3 114.3M454.3 114.2L459.6 114.5M462.9 114.2L468.4 114.6M471.5 114.2L477.0 114.6M480.1 114.2L485.6 114.6M488.7 114.2L494.2 114.6M497.3 114.2L503.0 114.3M505.9 114.2L511.8 113.9M514.5 114.2L520.6 113.6M523.1 114.2L529.2 113.6M531.7 114.2L537.8 113.6M540.3 114.2L546.3 113.5M548.9 114.2L554.5 113.3M557.5 114.2L562.4 113.1M566.1 114.2L570.3 112.9M574.7 114.2L578.7 112.9M583.3 114.2L586.9 112.9M591.9 114.2L594.0 113.4M385.5 119.5L386.7 120.7M394.1 119.5L395.3 120.7M402.7 119.5L403.9 120.7M411.3 119.5L412.5 120.7M419.9 119.5L421.1 120.7M428.5 119.5L429.6 120.5M437.1 119.5L438.2 119.8M445.7 119.5L447.9 119.7M454.3 119.5L459.0 119.9M462.9 119.5L468.1 119.8M471.5 119.5L476.5 119.6M480.1 119.5L485.0 119.5M488.7 119.5L493.7 119.4M497.3 119.5L502.5 119.1M505.9 119.5L511.2 118.7M514.5 119.5L519.6 118.3M523.1 119.5L528.1 118.2M531.7 119.5L536.8 118.3M540.3 119.5L545.4 118.3M548.9 119.5L553.9 118.3M557.5 119.5L561.9 118.4M566.1 119.5L569.4 118.6M574.7 119.5L577.5 118.7M583.3 119.5L584.9 119.0M385.5 124.9L386.5 125.9M394.1 124.9L395.1 125.9M402.7 124.9L403.7 125.9M411.3 124.9L412.3 125.9M419.9 124.9L420.8 125.8M454.3 124.9L457.0 125.0M462.9 124.9L466.7 124.5M471.5 124.9L474.9 123.8M480.1 124.9L483.2 123.5M488.7 124.9L491.8 123.5M497.3 124.9L500.6 123.5M505.9 124.9L509.2 123.4M514.5 124.9L517.8 123.5M523.1 124.9L526.4 123.6M531.7 124.9L535.1 123.7M540.3 124.9L543.8 123.8M548.9 124.9L552.5 123.8M557.5 124.9L560.8 123.8M566.1 124.9L569.0 124.0M574.7 124.9L576.4 124.3M462.9 130.2L464.6 129.2M471.5 130.2L473.4 128.2M480.1 130.2L481.9 128.0M488.7 130.2L490.5 128.0M497.3 130.2L499.1 128.0M505.9 130.2L507.8 128.2M514.5 130.2L516.7 128.7M523.1 130.2L525.6 129.1M531.7 130.2L534.2 129.2M540.3 130.2L542.9 129.3M548.9 130.2L551.6 129.3M557.5 130.2L560.2 129.4M566.1 130.2L568.4 129.5M402.7 135.6L403.6 136.5M411.3 135.6L412.3 136.6M419.9 135.6L420.9 136.6M428.5 135.6L429.3 136.4M462.9 135.6L463.5 134.6M471.5 135.6L472.6 133.6M480.1 135.6L481.3 133.4M488.7 135.6L489.9 133.4M497.3 135.6L498.5 133.4M505.9 135.6L507.2 133.5M514.5 135.6L515.9 133.8M523.1 135.6L524.8 134.4M531.7 135.6L533.5 134.7M540.3 135.6L541.7 134.9M394.1 140.9L395.0 141.9M402.7 140.9L403.8 142.0M411.3 140.9L412.4 142.0M419.9 140.9L421.0 142.0M428.5 140.9L429.5 141.9M471.5 140.9L472.3 139.4M480.1 140.9L481.0 139.1M488.7 140.9L489.6 139.1M497.3 140.9L498.2 139.1M505.9 140.9L506.9 139.1M514.5 140.9L515.4 139.3M523.1 140.9L523.8 140.0M402.7 146.3L403.6 147.2M411.3 146.3L412.3 147.3M419.9 146.3L420.9 147.3M428.5 146.3L429.3 147.1" stroke="#1a1a1a" stroke-width="1.3" fill="none"/><path d="M576.3 17.9L575.6 18.8L575.6 17.0ZM584.9 17.9L584.2 18.8L584.2 17.0ZM593.5 17.9L592.8 18.8L592.8 17.0ZM602.3 17.9L601.5 18.8L601.5 17.0ZM612.8 17.9L611.1 18.9L611.1 16.8ZM622.7 17.9L620.4 19.0L620.4 16.9ZM631.4 17.9L629.1 19.0L629.1 16.9ZM640.0 17.9L637.7 19.0L637.7 16.9ZM421.5 23.8L420.5 24.4L421.1 22.7ZM431.0 24.1L429.5 24.7L430.2 22.7ZM439.7 24.1L438.2 24.7L438.9 22.7ZM447.8 24.0L446.5 24.6L447.2 22.7ZM561.0 23.3L559.4 24.3L559.4 22.2ZM572.8 23.2L570.4 24.3L570.4 22.2ZM582.0 23.2L579.6 24.3L579.6 22.2ZM590.6 23.2L588.2 24.3L588.2 22.2ZM599.2 23.2L596.8 24.3L596.8 22.2ZM607.8 23.2L605.4 24.3L605.4 22.2ZM616.0 23.2L613.6 24.3L613.6 22.2ZM624.0 23.3L621.6 24.3L621.6 22.2ZM632.4 23.3L630.0 24.3L630.0 22.2ZM640.9 23.3L638.5 24.3L638.5 22.2ZM422.3 29.5L420.8 30.1L421.6 28.1ZM431.3 29.7L429.7 30.2L430.4 28.2ZM440.0 29.6L438.3 30.2L439.0 28.2ZM448.4 29.5L446.8 30.1L447.5 28.1ZM563.2 28.6L560.8 29.7L560.8 27.6ZM574.2 28.6L571.8 29.6L571.8 27.5ZM583.1 28.6L580.7 29.6L580.7 27.5ZM591.7 28.6L589.3 29.6L589.3 27.5ZM600.4 28.6L598.0 29.6L598.0 27.5ZM609.0 28.6L606.6 29.6L606.6 27.5ZM617.4 28.6L615.0 29.6L615.0 27.5ZM625.3 28.6L622.8 29.7L622.9 27.6ZM633.2 28.6L630.8 29.7L630.8 27.6ZM641.7 28.6L639.3 29.7L639.3 27.6ZM421.7 35.3L420.2 35.5L421.5 33.9ZM430.6 35.4L429.1 35.6L430.3 33.9ZM439.7 35.1L438.1 35.5L438.9 33.6ZM448.3 34.6L446.8 35.3L447.4 33.3ZM456.0 34.0L455.2 34.9L455.3 33.1ZM524.7 34.0L524.0 34.9L524.0 33.0ZM534.4 34.0L533.2 35.0L533.2 32.9ZM543.2 34.0L541.9 35.0L541.9 32.9ZM551.8 34.0L550.5 35.0L550.5 32.9ZM561.4 34.0L559.6 35.0L559.6 32.9ZM572.7 34.0L570.3 35.0L570.3 32.9ZM582.2 33.9L579.8 35.0L579.8 32.9ZM590.9 33.8L588.5 34.9L588.5 32.8ZM599.8 33.8L597.4 34.9L597.4 32.8ZM608.3 33.8L605.9 34.9L605.9 32.8ZM616.9 33.9L614.5 35.0L614.5 32.9ZM625.2 34.1L622.8 35.1L622.9 33.0ZM633.7 34.2L631.2 35.2L631.3 33.1ZM642.4 34.2L640.0 35.2L640.1 33.1ZM420.4 41.3L419.2 40.6L421.2 40.2ZM429.3 41.3L428.0 40.8L429.9 40.0ZM438.9 40.1L437.7 40.7L438.5 38.9ZM447.9 39.2L447.0 40.3L446.9 38.2ZM456.2 38.9L455.6 40.0L455.1 38.1ZM464.4 38.6L464.1 39.8L463.3 38.1ZM473.0 38.6L472.7 39.8L471.9 38.1ZM481.6 38.6L481.3 39.8L480.5 38.1ZM525.9 39.4L524.6 40.4L524.7 38.3ZM535.2 39.4L533.6 40.4L533.7 38.3ZM543.9 39.4L542.2 40.4L542.3 38.3ZM552.5 39.4L550.8 40.4L550.9 38.3ZM561.1 39.4L559.5 40.4L559.5 38.3ZM570.2 39.4L568.3 40.4L568.4 38.3ZM579.4 39.3L577.3 40.3L577.3 38.2ZM588.1 39.1L586.0 40.2L585.9 38.1ZM597.2 38.9L594.9 40.1L594.7 38.0ZM605.8 38.9L603.5 40.1L603.3 38.0ZM614.4 39.2L612.1 40.3L612.0 38.2ZM623.3 39.7L620.9 40.6L621.0 38.5ZM632.3 40.2L629.8 40.9L630.1 38.8ZM641.4 40.3L638.8 41.0L639.1 38.9ZM420.0 46.2L419.0 45.6L420.9 45.5ZM429.0 46.4L427.9 45.8L429.7 45.3ZM438.7 44.7L437.9 45.6L438.0 43.8ZM447.5 44.0L447.0 45.2L446.4 43.4ZM456.0 43.9L455.6 45.1L454.9 43.4ZM464.6 43.9L464.2 45.1L463.5 43.4ZM473.4 44.0L472.8 45.2L472.2 43.4ZM482.0 44.1L481.4 45.3L480.9 43.4ZM490.7 44.3L490.0 45.4L489.6 43.5ZM499.1 44.6L498.3 45.6L498.2 43.7ZM526.6 44.9L524.9 45.8L525.1 43.7ZM535.8 44.9L533.9 45.8L534.0 43.7ZM544.5 44.9L542.5 45.8L542.7 43.7ZM553.1 44.9L551.1 45.8L551.3 43.7ZM561.7 45.0L559.7 45.9L559.9 43.8ZM570.2 45.2L568.2 46.0L568.5 43.9ZM578.8 45.1L576.8 46.0L577.1 43.9ZM587.4 45.0L585.5 45.9L585.6 43.8ZM595.8 44.5L594.1 45.6L594.0 43.5ZM604.4 44.2L602.8 45.5L602.5 43.4ZM613.1 44.5L611.3 45.6L611.3 43.5ZM622.1 45.1L620.0 45.9L620.2 43.9ZM631.1 45.6L628.7 46.2L629.1 44.1ZM639.5 45.8L637.2 46.3L637.7 44.3ZM447.2 49.3L446.9 50.5L446.1 48.8ZM455.8 49.3L455.5 50.5L454.7 48.8ZM464.9 49.6L464.2 50.7L463.8 48.8ZM473.8 49.7L472.9 50.9L472.7 48.8ZM482.5 49.8L481.5 50.9L481.3 48.8ZM491.1 49.8L490.1 51.0L490.0 48.9ZM499.6 49.9L498.6 51.0L498.5 48.9ZM526.9 50.2L525.2 51.2L525.3 49.1ZM536.3 50.2L534.2 51.2L534.3 49.1ZM545.0 50.2L542.8 51.2L542.9 49.1ZM553.6 50.2L551.4 51.2L551.5 49.1ZM562.0 50.6L559.8 51.4L560.1 49.3ZM570.4 51.2L568.2 51.6L568.7 49.6ZM578.9 51.3L576.7 51.7L577.3 49.7ZM587.4 51.3L585.2 51.7L585.9 49.7ZM595.3 51.0L593.5 51.6L594.1 49.6ZM465.1 55.0L464.3 56.2L464.0 54.1ZM474.0 55.0L473.0 56.2L472.7 54.1ZM482.6 55.0L481.6 56.2L481.4 54.1ZM491.2 55.0L490.2 56.2L490.0 54.1ZM499.7 55.1L498.8 56.2L498.5 54.1ZM508.3 55.8L507.0 56.6L507.4 54.6ZM517.4 56.3L515.8 56.9L516.5 54.9ZM526.6 56.1L524.8 56.8L525.3 54.8ZM535.8 55.9L533.8 56.7L534.1 54.6ZM544.5 55.8L542.5 56.7L542.7 54.6ZM553.1 55.9L551.1 56.7L551.4 54.6ZM561.7 56.2L559.6 56.9L560.0 54.8ZM570.3 56.7L568.1 57.1L568.7 55.1ZM578.8 57.0L576.6 57.2L577.3 55.3ZM587.3 56.9L585.1 57.2L585.9 55.3ZM595.1 56.6L593.3 57.0L594.0 55.1ZM465.2 60.4L464.3 61.5L464.0 59.5ZM474.0 60.3L473.1 61.5L472.7 59.4ZM482.7 60.3L481.7 61.5L481.4 59.5ZM491.4 60.4L490.3 61.6L490.1 59.5ZM500.1 60.5L498.9 61.6L498.7 59.5ZM509.2 61.2L507.5 62.0L507.8 59.9ZM518.0 61.5L516.2 62.2L516.7 60.1ZM526.7 61.6L524.8 62.2L525.3 60.2ZM535.4 61.5L533.5 62.2L534.0 60.1ZM544.0 61.5L542.1 62.1L542.6 60.1ZM552.5 61.6L550.7 62.2L551.2 60.2ZM561.1 61.8L559.2 62.3L559.8 60.3ZM569.7 62.0L567.7 62.4L568.4 60.4ZM578.2 62.1L576.2 62.4L577.0 60.5ZM586.6 62.0L584.7 62.4L585.5 60.4ZM593.7 61.4L592.5 62.0L593.3 60.2ZM440.0 66.1L438.7 67.1L438.7 65.0ZM449.3 66.1L447.7 67.1L447.7 65.0ZM458.0 66.1L456.3 67.1L456.3 65.0ZM466.4 66.0L464.8 67.1L464.8 65.0ZM474.8 65.9L473.4 67.0L473.3 64.9ZM483.4 65.9L482.0 67.0L481.9 64.9ZM492.1 66.0L490.6 67.1L490.5 65.0ZM500.8 66.0L499.2 67.1L499.2 65.0ZM509.5 66.2L507.9 67.2L507.9 65.1ZM518.3 66.3L516.5 67.2L516.7 65.1ZM527.0 66.3L525.2 67.2L525.3 65.1ZM535.6 66.3L533.8 67.2L533.9 65.1ZM544.2 66.3L542.4 67.3L542.5 65.2ZM552.5 66.6L550.7 67.4L551.0 65.3ZM560.3 67.0L558.7 67.6L559.4 65.6ZM568.0 66.7L566.8 67.4L567.5 65.5ZM429.9 71.4L429.3 72.3L429.3 70.5ZM440.8 71.4L439.1 72.5L439.2 70.4ZM449.9 71.5L448.0 72.5L448.0 70.4ZM458.7 71.7L456.6 72.6L456.8 70.5ZM467.3 71.7L465.2 72.6L465.4 70.5ZM475.8 71.7L473.8 72.6L474.0 70.5ZM484.4 71.7L482.4 72.6L482.5 70.5ZM492.9 71.7L491.0 72.6L491.1 70.5ZM501.5 71.7L499.5 72.6L499.7 70.5ZM509.8 71.6L508.0 72.6L508.1 70.5ZM518.1 71.6L516.4 72.6L516.5 70.5ZM526.7 71.6L525.0 72.6L525.1 70.5ZM535.3 71.6L533.6 72.6L533.7 70.5ZM543.9 71.6L542.2 72.6L542.3 70.5ZM551.9 71.3L550.6 72.4L550.5 70.3ZM559.1 70.8L558.7 71.9L558.0 70.2ZM440.3 76.9L438.8 77.9L438.9 75.8ZM450.3 77.4L448.1 78.2L448.4 76.1ZM459.3 77.7L456.8 78.3L457.2 76.2ZM467.9 77.7L465.5 78.3L465.9 76.3ZM476.5 77.7L474.1 78.3L474.5 76.3ZM485.1 77.7L482.7 78.3L483.1 76.3ZM493.7 77.7L491.3 78.3L491.7 76.2ZM502.3 77.7L499.9 78.3L500.2 76.2ZM510.6 77.7L508.3 78.3L508.7 76.2ZM518.1 77.5L516.2 78.2L516.7 76.1ZM526.7 77.1L525.0 78.0L525.1 75.9ZM535.4 76.6L533.8 77.7L533.7 75.6ZM544.2 76.1L542.6 77.4L542.3 75.3ZM553.4 74.0L551.9 76.1L550.8 74.3ZM562.0 73.2L560.8 75.5L559.5 73.9ZM570.5 73.1L569.3 75.5L567.9 73.9ZM578.9 73.2L577.8 75.6L576.4 73.9ZM586.6 74.0L585.8 76.0L584.5 74.4ZM439.4 82.5L438.2 83.3L438.5 81.3ZM450.9 83.2L448.4 83.7L448.8 81.7ZM459.9 83.3L457.4 83.8L457.8 81.8ZM468.6 83.3L466.0 83.8L466.4 81.8ZM477.2 83.3L474.6 83.8L475.0 81.8ZM485.8 83.3L483.2 83.8L483.6 81.8ZM494.4 83.3L491.8 83.8L492.2 81.8ZM503.0 83.3L500.4 83.8L500.8 81.8ZM511.4 83.3L508.9 83.8L509.3 81.7ZM518.6 82.6L516.6 83.4L516.9 81.4ZM527.4 80.4L525.8 82.1L525.1 80.2ZM536.4 79.5L534.8 81.6L533.8 79.8ZM545.1 79.1L543.7 81.2L542.5 79.5ZM553.9 78.4L552.6 80.7L551.4 79.0ZM562.6 78.1L561.3 80.4L560.0 78.8ZM571.1 78.0L569.9 80.3L568.6 78.7ZM579.7 78.0L578.5 80.3L577.1 78.7ZM588.0 78.2L586.8 80.6L585.4 79.0ZM594.2 80.2L593.8 81.9L592.5 80.2ZM441.4 87.8L439.4 88.7L439.6 86.6ZM451.3 88.2L448.8 88.9L449.0 86.8ZM460.1 88.4L457.6 89.0L457.9 86.9ZM468.8 88.4L466.2 89.0L466.6 87.0ZM477.4 88.4L474.8 89.0L475.2 87.0ZM486.0 88.4L483.4 89.0L483.8 87.0ZM494.6 88.4L492.0 89.0L492.4 87.0ZM503.2 88.4L500.6 89.0L501.0 87.0ZM511.7 88.3L509.1 89.0L509.4 86.9ZM519.2 87.8L517.0 88.7L517.2 86.6ZM527.6 84.3L526.3 86.5L525.1 84.8ZM536.8 83.6L535.6 85.8L534.3 84.2ZM545.5 83.4L544.2 85.7L543.0 84.1ZM554.1 83.4L552.9 85.7L551.6 84.0ZM562.7 83.3L561.5 85.6L560.2 84.0ZM571.3 83.3L570.1 85.6L568.8 83.9ZM579.9 83.3L578.7 85.6L577.4 83.9ZM588.4 83.4L587.2 85.7L585.9 84.1ZM595.6 84.5L594.6 86.7L593.3 85.0ZM430.9 93.1L429.7 94.0L429.9 91.9ZM442.5 93.1L440.1 94.0L440.2 91.9ZM451.5 93.2L449.1 94.1L449.2 92.0ZM460.2 93.2L457.7 94.1L457.9 92.0ZM468.8 93.2L466.3 94.1L466.5 92.0ZM477.4 93.2L474.9 94.1L475.1 92.0ZM486.0 93.2L483.5 94.1L483.7 92.0ZM494.6 93.2L492.1 94.1L492.3 92.0ZM503.2 93.2L500.7 94.1L500.9 92.0ZM511.7 93.2L509.2 94.1L509.4 92.0ZM519.6 93.0L517.2 94.0L517.3 91.9ZM527.8 89.6L526.4 91.8L525.2 90.1ZM537.3 88.8L536.0 91.0L534.8 89.3ZM546.0 88.7L544.7 91.0L543.5 89.3ZM554.6 88.7L553.3 91.0L552.1 89.3ZM563.2 88.7L561.9 91.0L560.7 89.3ZM571.8 88.7L570.5 91.0L569.3 89.3ZM580.4 88.7L579.1 91.0L577.8 89.2ZM589.0 88.8L587.6 91.0L586.4 89.3ZM596.9 89.4L595.5 91.6L594.3 89.9ZM602.1 91.8L601.9 93.0L600.8 91.4ZM386.8 99.5L385.6 99.6L386.9 98.2ZM395.6 99.6L394.2 99.7L395.6 98.2ZM404.2 99.6L402.8 99.7L404.2 98.2ZM412.8 99.6L411.4 99.7L412.8 98.2ZM421.4 99.6L420.0 99.7L421.4 98.2ZM430.8 99.3L429.3 99.7L430.2 97.8ZM442.6 98.3L440.2 99.3L440.2 97.2ZM451.7 98.2L449.3 99.3L449.4 97.2ZM460.4 98.2L458.0 99.3L458.0 97.2ZM469.0 98.2L466.6 99.3L466.6 97.2ZM477.6 98.2L475.2 99.3L475.2 97.2ZM486.2 98.2L483.8 99.3L483.8 97.2ZM494.8 98.2L492.4 99.3L492.4 97.2ZM503.4 98.2L501.0 99.3L501.0 97.2ZM511.9 98.2L509.5 99.3L509.6 97.2ZM520.0 98.2L517.6 99.2L517.6 97.1ZM528.3 96.1L526.5 97.9L525.7 96.0ZM537.9 95.1L536.2 97.1L535.3 95.2ZM546.6 94.9L544.9 97.0L544.0 95.1ZM555.2 94.9L553.5 97.0L552.6 95.1ZM563.7 94.9L562.1 96.9L561.1 95.1ZM572.2 94.6L570.6 96.7L569.6 94.9ZM580.6 94.4L579.2 96.6L578.0 94.8ZM589.2 94.4L587.7 96.6L586.6 94.8ZM597.5 94.7L596.0 96.8L594.9 95.0ZM604.3 95.8L603.2 97.8L602.1 96.0ZM387.2 105.2L385.7 105.2L387.2 103.7ZM395.9 105.3L394.3 105.2L395.8 103.7ZM404.5 105.3L402.9 105.2L404.4 103.7ZM413.1 105.3L411.5 105.2L413.0 103.7ZM421.8 105.2L420.2 105.2L421.6 103.7ZM431.4 104.9L429.6 105.2L430.5 103.3ZM442.9 103.8L440.5 104.7L440.6 102.6ZM452.4 103.5L450.0 104.6L450.0 102.5ZM461.0 103.5L458.6 104.6L458.6 102.5ZM469.6 103.5L467.2 104.6L467.2 102.5ZM478.2 103.5L475.8 104.6L475.8 102.5ZM486.8 103.5L484.4 104.6L484.4 102.5ZM495.4 103.5L493.0 104.6L493.0 102.5ZM504.0 103.5L501.6 104.6L501.6 102.5ZM512.7 103.5L510.3 104.6L510.3 102.5ZM521.5 103.6L519.1 104.6L519.1 102.5ZM530.5 103.3L528.1 104.4L528.0 102.3ZM539.1 102.5L536.9 103.9L536.6 101.8ZM547.7 102.3L545.5 103.7L545.2 101.6ZM556.2 102.1L554.1 103.5L553.7 101.5ZM564.5 101.5L562.5 103.2L561.9 101.1ZM572.6 100.8L570.8 102.7L570.0 100.7ZM580.8 100.3L579.2 102.3L578.2 100.5ZM589.3 100.2L587.7 102.3L586.7 100.4ZM597.7 100.2L596.1 102.3L595.1 100.5ZM605.2 100.8L603.6 102.9L602.6 101.1ZM387.5 110.8L385.8 110.7L387.3 109.2ZM396.1 110.9L394.5 110.7L395.9 109.2ZM404.7 110.9L403.1 110.7L404.5 109.2ZM413.3 110.9L411.7 110.7L413.1 109.2ZM422.1 110.8L420.4 110.7L421.8 109.1ZM432.3 110.2L430.3 110.6L431.0 108.6ZM443.6 109.2L441.2 110.1L441.3 108.0ZM453.0 108.9L450.6 109.9L450.6 107.8ZM461.6 109.0L459.2 110.0L459.3 107.9ZM470.3 109.0L467.9 110.0L467.9 107.9ZM478.9 109.0L476.5 110.0L476.5 107.9ZM487.5 109.0L485.1 110.0L485.1 107.9ZM496.1 109.0L493.7 110.0L493.7 107.9ZM504.8 108.9L502.4 110.0L502.4 107.9ZM513.6 108.9L511.2 109.9L511.2 107.8ZM522.6 108.9L520.2 109.9L520.2 107.8ZM531.4 108.9L529.0 109.9L529.0 107.8ZM539.9 108.7L537.5 109.8L537.5 107.7ZM548.4 108.6L546.1 109.7L546.0 107.6ZM556.7 108.0L554.4 109.3L554.1 107.2ZM564.7 107.2L562.6 108.8L562.1 106.7ZM572.7 106.5L570.8 108.3L570.1 106.3ZM581.1 106.2L579.3 108.1L578.5 106.2ZM589.6 106.1L587.8 108.0L587.0 106.1ZM597.4 106.1L595.7 108.1L594.8 106.2ZM603.8 107.0L602.8 108.8L601.8 106.9ZM387.5 116.2L385.8 116.0L387.3 114.5ZM396.1 116.2L394.5 116.0L395.9 114.6ZM404.7 116.2L403.1 116.0L404.5 114.6ZM413.3 116.2L411.7 116.0L413.1 114.6ZM422.0 116.2L420.3 116.1L421.8 114.5ZM431.7 115.7L429.8 116.0L430.7 114.1ZM442.9 114.5L440.4 115.5L440.6 113.4ZM452.4 114.3L450.0 115.3L450.1 113.2ZM461.7 114.7L459.2 115.6L459.3 113.5ZM470.5 114.8L468.0 115.6L468.1 113.5ZM479.1 114.8L476.6 115.6L476.7 113.5ZM487.7 114.8L485.2 115.6L485.3 113.5ZM496.3 114.7L493.8 115.6L494.0 113.5ZM505.1 114.3L502.7 115.3L502.7 113.2ZM513.9 113.8L511.6 115.0L511.5 112.9ZM522.7 113.4L520.4 114.7L520.2 112.6ZM531.3 113.4L529.0 114.6L528.8 112.6ZM539.9 113.4L537.6 114.6L537.4 112.6ZM548.4 113.3L546.1 114.6L545.9 112.5ZM556.5 113.0L554.3 114.4L554.0 112.3ZM564.5 112.7L562.3 114.2L561.9 112.2ZM572.3 112.3L570.3 114.0L569.7 112.0ZM580.7 112.2L578.8 114.0L578.1 112.0ZM588.9 112.2L587.0 114.0L586.3 112.0ZM595.2 112.9L594.1 114.4L593.3 112.5ZM387.2 121.3L385.7 121.2L387.2 119.8ZM395.9 121.3L394.3 121.3L395.8 119.8ZM404.5 121.3L402.9 121.3L404.4 119.8ZM413.1 121.3L411.5 121.3L413.0 119.8ZM421.7 121.3L420.1 121.3L421.6 119.8ZM430.2 121.0L428.7 121.1L430.1 119.6ZM438.6 119.8L437.8 120.6L438.1 118.8ZM449.1 119.8L447.5 120.7L447.6 118.6ZM461.1 120.1L458.6 120.9L458.7 118.8ZM470.2 119.9L467.8 120.9L467.9 118.8ZM478.6 119.6L476.2 120.6L476.3 118.5ZM487.1 119.4L484.8 120.5L484.7 118.4ZM495.8 119.4L493.4 120.5L493.3 118.4ZM504.6 119.0L502.3 120.2L502.1 118.1ZM513.2 118.4L511.0 119.8L510.7 117.7ZM521.6 117.8L519.6 119.4L519.0 117.3ZM530.1 117.7L528.0 119.3L527.5 117.3ZM538.8 117.8L536.7 119.4L536.2 117.3ZM547.5 117.8L545.4 119.4L544.9 117.4ZM555.9 117.8L553.9 119.4L553.4 117.4ZM563.9 117.9L561.9 119.5L561.3 117.5ZM571.4 118.0L569.4 119.7L568.8 117.7ZM579.3 118.2L577.5 119.8L576.9 117.8ZM585.7 118.8L585.0 120.1L584.3 118.1ZM386.9 126.3L385.6 126.3L386.9 125.0ZM395.6 126.4L394.2 126.4L395.6 125.0ZM404.2 126.4L402.8 126.4L404.2 125.0ZM412.8 126.4L411.4 126.4L412.8 125.0ZM421.2 126.2L419.9 126.3L421.3 124.9ZM458.6 125.1L456.6 126.0L456.7 123.9ZM468.8 124.3L466.5 125.6L466.3 123.5ZM476.9 123.1L475.0 124.9L474.3 122.9ZM485.2 122.7L483.4 124.6L482.6 122.7ZM493.7 122.6L492.0 124.6L491.1 122.7ZM502.5 122.6L500.7 124.5L499.9 122.6ZM511.1 122.5L509.4 124.5L508.5 122.6ZM519.7 122.6L517.9 124.5L517.1 122.6ZM528.4 122.9L526.5 124.7L525.8 122.7ZM537.0 123.1L535.1 124.8L534.4 122.9ZM545.8 123.1L543.9 124.9L543.2 122.9ZM554.5 123.1L552.5 124.9L551.9 122.9ZM562.8 123.2L560.8 124.9L560.2 122.9ZM570.8 123.4L569.0 125.0L568.3 123.1ZM577.3 124.1L576.5 125.4L575.8 123.4ZM465.6 128.6L464.9 130.2L463.8 128.4ZM474.6 127.0L474.0 129.2L472.5 127.7ZM483.0 126.6L482.5 128.9L480.9 127.6ZM491.6 126.6L491.1 128.9L489.5 127.6ZM500.2 126.6L499.7 128.9L498.1 127.6ZM509.0 126.9L508.4 129.1L506.8 127.7ZM518.0 127.8L517.0 129.7L515.8 128.0ZM527.1 128.4L525.7 130.2L524.8 128.3ZM535.7 128.6L534.3 130.3L533.5 128.4ZM544.5 128.7L543.0 130.4L542.2 128.4ZM553.3 128.8L551.7 130.4L551.0 128.4ZM561.8 128.8L560.2 130.5L559.6 128.5ZM569.8 129.0L568.5 130.6L567.8 128.6ZM404.0 136.9L402.7 137.0L404.1 135.6ZM412.7 137.0L411.4 137.1L412.8 135.7ZM421.3 137.0L420.0 137.0L421.3 135.7ZM429.5 136.6L428.4 136.8L429.7 135.5ZM463.7 134.3L464.1 135.3L462.6 134.4ZM473.3 132.4L473.4 134.3L471.6 133.3ZM482.0 132.1L482.1 134.2L480.2 133.2ZM490.6 132.0L490.7 134.2L488.8 133.1ZM499.3 132.1L499.3 134.2L497.5 133.1ZM507.9 132.2L507.9 134.3L506.1 133.2ZM516.7 132.7L516.6 134.7L514.9 133.4ZM525.8 133.7L525.2 135.4L524.0 133.7ZM534.5 134.2L533.7 135.8L532.8 133.9ZM542.4 134.6L541.9 136.0L541.0 134.1ZM395.4 142.2L394.1 142.3L395.5 141.0ZM404.3 142.5L402.8 142.6L404.3 141.1ZM412.9 142.5L411.4 142.6L412.9 141.1ZM421.5 142.5L420.0 142.6L421.5 141.1ZM429.9 142.4L428.6 142.4L430.0 141.0ZM472.6 138.7L473.1 140.2L471.2 139.2ZM481.5 138.1L481.8 139.9L480.0 138.9ZM490.2 138.0L490.4 139.8L488.6 138.9ZM498.8 138.0L499.0 139.8L497.2 138.9ZM507.4 138.1L507.6 139.9L505.8 138.9ZM515.9 138.4L516.2 140.0L514.3 139.0ZM524.0 139.7L524.3 140.8L522.9 139.7ZM404.0 147.6L402.7 147.7L404.1 146.3ZM412.7 147.7L411.4 147.8L412.8 146.4ZM421.3 147.7L420.0 147.7L421.3 146.4ZM429.5 147.3L428.4 147.5L429.7 146.2Z" fill="#111"/><path d="M384.9 17.3h1.2v1.2h-1.2zM393.6 17.3h1.2v1.2h-1.2zM402.1 17.3h1.2v1.2h-1.2zM410.8 17.3h1.2v1.2h-1.2zM419.4 17.3h1.2v1.2h-1.2zM427.9 17.3h1.2v1.2h-1.2zM436.6 17.3h1.2v1.2h-1.2zM445.1 17.3h1.2v1.2h-1.2zM453.8 17.3h1.2v1.2h-1.2zM462.3 17.3h1.2v1.2h-1.2zM470.9 17.3h1.2v1.2h-1.2zM479.6 17.3h1.2v1.2h-1.2zM488.1 17.3h1.2v1.2h-1.2zM496.8 17.3h1.2v1.2h-1.2zM505.3 17.3h1.2v1.2h-1.2zM514.0 17.3h1.2v1.2h-1.2zM522.6 17.3h1.2v1.2h-1.2zM531.2 17.3h1.2v1.2h-1.2zM539.8 17.3h1.2v1.2h-1.2zM548.4 17.3h1.2v1.2h-1.2zM557.0 17.3h1.2v1.2h-1.2zM565.6 17.3h1.2v1.2h-1.2zM384.9 22.7h1.2v1.2h-1.2zM393.6 22.7h1.2v1.2h-1.2zM402.1 22.7h1.2v1.2h-1.2zM410.8 22.7h1.2v1.2h-1.2zM453.8 22.7h1.2v1.2h-1.2zM462.3 22.7h1.2v1.2h-1.2zM470.9 22.7h1.2v1.2h-1.2zM479.6 22.7h1.2v1.2h-1.2zM488.1 22.7h1.2v1.2h-1.2zM496.8 22.7h1.2v1.2h-1.2zM505.3 22.7h1.2v1.2h-1.2zM514.0 22.7h1.2v1.2h-1.2zM522.6 22.7h1.2v1.2h-1.2zM531.2 22.7h1.2v1.2h-1.2zM539.8 22.7h1.2v1.2h-1.2zM548.4 22.7h1.2v1.2h-1.2zM384.9 28.1h1.2v1.2h-1.2zM393.6 28.1h1.2v1.2h-1.2zM402.1 28.1h1.2v1.2h-1.2zM410.8 28.1h1.2v1.2h-1.2zM453.8 28.1h1.2v1.2h-1.2zM462.3 28.1h1.2v1.2h-1.2zM470.9 28.1h1.2v1.2h-1.2zM479.6 28.1h1.2v1.2h-1.2zM488.1 28.1h1.2v1.2h-1.2zM496.8 28.1h1.2v1.2h-1.2zM505.3 28.1h1.2v1.2h-1.2zM514.0 28.1h1.2v1.2h-1.2zM522.6 28.1h1.2v1.2h-1.2zM531.2 28.1h1.2v1.2h-1.2zM539.8 28.1h1.2v1.2h-1.2zM548.4 28.1h1.2v1.2h-1.2zM384.9 33.4h1.2v1.2h-1.2zM393.6 33.4h1.2v1.2h-1.2zM402.1 33.4h1.2v1.2h-1.2zM410.8 33.4h1.2v1.2h-1.2zM462.3 33.4h1.2v1.2h-1.2zM470.9 33.4h1.2v1.2h-1.2zM479.6 33.4h1.2v1.2h-1.2zM488.1 33.4h1.2v1.2h-1.2zM496.8 33.4h1.2v1.2h-1.2zM505.3 33.4h1.2v1.2h-1.2zM514.0 33.4h1.2v1.2h-1.2zM384.9 38.8h1.2v1.2h-1.2zM393.6 38.8h1.2v1.2h-1.2zM402.1 38.8h1.2v1.2h-1.2zM410.8 38.8h1.2v1.2h-1.2zM488.1 38.8h1.2v1.2h-1.2zM496.8 38.8h1.2v1.2h-1.2zM505.3 38.8h1.2v1.2h-1.2zM514.0 38.8h1.2v1.2h-1.2zM384.9 44.1h1.2v1.2h-1.2zM393.6 44.1h1.2v1.2h-1.2zM402.1 44.1h1.2v1.2h-1.2zM410.8 44.1h1.2v1.2h-1.2zM505.3 44.1h1.2v1.2h-1.2zM514.0 44.1h1.2v1.2h-1.2zM384.9 49.4h1.2v1.2h-1.2zM393.6 49.4h1.2v1.2h-1.2zM402.1 49.4h1.2v1.2h-1.2zM410.8 49.4h1.2v1.2h-1.2zM419.4 49.4h1.2v1.2h-1.2zM427.9 49.4h1.2v1.2h-1.2zM436.6 49.4h1.2v1.2h-1.2zM505.3 49.4h1.2v1.2h-1.2zM514.0 49.4h1.2v1.2h-1.2zM600.0 49.4h1.2v1.2h-1.2zM608.6 49.4h1.2v1.2h-1.2zM617.2 49.4h1.2v1.2h-1.2zM625.8 49.4h1.2v1.2h-1.2zM634.4 49.4h1.2v1.2h-1.2zM384.9 54.8h1.2v1.2h-1.2zM393.6 54.8h1.2v1.2h-1.2zM402.1 54.8h1.2v1.2h-1.2zM410.8 54.8h1.2v1.2h-1.2zM419.4 54.8h1.2v1.2h-1.2zM427.9 54.8h1.2v1.2h-1.2zM436.6 54.8h1.2v1.2h-1.2zM445.1 54.8h1.2v1.2h-1.2zM453.8 54.8h1.2v1.2h-1.2zM600.0 54.8h1.2v1.2h-1.2zM608.6 54.8h1.2v1.2h-1.2zM617.2 54.8h1.2v1.2h-1.2zM625.8 54.8h1.2v1.2h-1.2zM634.4 54.8h1.2v1.2h-1.2zM384.9 60.1h1.2v1.2h-1.2zM393.6 60.1h1.2v1.2h-1.2zM402.1 60.1h1.2v1.2h-1.2zM410.8 60.1h1.2v1.2h-1.2zM419.4 60.1h1.2v1.2h-1.2zM427.9 60.1h1.2v1.2h-1.2zM436.6 60.1h1.2v1.2h-1.2zM445.1 60.1h1.2v1.2h-1.2zM453.8 60.1h1.2v1.2h-1.2zM600.0 60.1h1.2v1.2h-1.2zM608.6 60.1h1.2v1.2h-1.2zM617.2 60.1h1.2v1.2h-1.2zM625.8 60.1h1.2v1.2h-1.2zM634.4 60.1h1.2v1.2h-1.2zM384.9 65.5h1.2v1.2h-1.2zM393.6 65.5h1.2v1.2h-1.2zM402.1 65.5h1.2v1.2h-1.2zM410.8 65.5h1.2v1.2h-1.2zM419.4 65.5h1.2v1.2h-1.2zM427.9 65.5h1.2v1.2h-1.2zM574.2 65.5h1.2v1.2h-1.2zM582.8 65.5h1.2v1.2h-1.2zM591.4 65.5h1.2v1.2h-1.2zM600.0 65.5h1.2v1.2h-1.2zM608.6 65.5h1.2v1.2h-1.2zM617.2 65.5h1.2v1.2h-1.2zM625.8 65.5h1.2v1.2h-1.2zM634.4 65.5h1.2v1.2h-1.2zM384.9 70.9h1.2v1.2h-1.2zM393.6 70.9h1.2v1.2h-1.2zM402.1 70.9h1.2v1.2h-1.2zM410.8 70.9h1.2v1.2h-1.2zM419.4 70.9h1.2v1.2h-1.2zM565.6 70.9h1.2v1.2h-1.2zM574.2 70.9h1.2v1.2h-1.2zM582.8 70.9h1.2v1.2h-1.2zM591.4 70.9h1.2v1.2h-1.2zM600.0 70.9h1.2v1.2h-1.2zM608.6 70.9h1.2v1.2h-1.2zM617.2 70.9h1.2v1.2h-1.2zM625.8 70.9h1.2v1.2h-1.2zM634.4 70.9h1.2v1.2h-1.2zM384.9 76.2h1.2v1.2h-1.2zM393.6 76.2h1.2v1.2h-1.2zM402.1 76.2h1.2v1.2h-1.2zM410.8 76.2h1.2v1.2h-1.2zM419.4 76.2h1.2v1.2h-1.2zM427.9 76.2h1.2v1.2h-1.2zM591.4 76.2h1.2v1.2h-1.2zM600.0 76.2h1.2v1.2h-1.2zM608.6 76.2h1.2v1.2h-1.2zM617.2 76.2h1.2v1.2h-1.2zM625.8 76.2h1.2v1.2h-1.2zM634.4 76.2h1.2v1.2h-1.2zM384.9 81.5h1.2v1.2h-1.2zM393.6 81.5h1.2v1.2h-1.2zM402.1 81.5h1.2v1.2h-1.2zM410.8 81.5h1.2v1.2h-1.2zM419.4 81.5h1.2v1.2h-1.2zM427.9 81.5h1.2v1.2h-1.2zM600.0 81.5h1.2v1.2h-1.2zM608.6 81.5h1.2v1.2h-1.2zM617.2 81.5h1.2v1.2h-1.2zM625.8 81.5h1.2v1.2h-1.2zM634.4 81.5h1.2v1.2h-1.2zM384.9 86.9h1.2v1.2h-1.2zM393.6 86.9h1.2v1.2h-1.2zM402.1 86.9h1.2v1.2h-1.2zM410.8 86.9h1.2v1.2h-1.2zM419.4 86.9h1.2v1.2h-1.2zM427.9 86.9h1.2v1.2h-1.2zM600.0 86.9h1.2v1.2h-1.2zM608.6 86.9h1.2v1.2h-1.2zM617.2 86.9h1.2v1.2h-1.2zM625.8 86.9h1.2v1.2h-1.2zM634.4 86.9h1.2v1.2h-1.2zM384.9 92.2h1.2v1.2h-1.2zM393.6 92.2h1.2v1.2h-1.2zM402.1 92.2h1.2v1.2h-1.2zM410.8 92.2h1.2v1.2h-1.2zM419.4 92.2h1.2v1.2h-1.2zM608.6 92.2h1.2v1.2h-1.2zM617.2 92.2h1.2v1.2h-1.2zM625.8 92.2h1.2v1.2h-1.2zM634.4 92.2h1.2v1.2h-1.2zM608.6 97.6h1.2v1.2h-1.2zM617.2 97.6h1.2v1.2h-1.2zM625.8 97.6h1.2v1.2h-1.2zM634.4 97.6h1.2v1.2h-1.2zM608.6 103.0h1.2v1.2h-1.2zM617.2 103.0h1.2v1.2h-1.2zM625.8 103.0h1.2v1.2h-1.2zM634.4 103.0h1.2v1.2h-1.2zM608.6 108.3h1.2v1.2h-1.2zM617.2 108.3h1.2v1.2h-1.2zM625.8 108.3h1.2v1.2h-1.2zM634.4 108.3h1.2v1.2h-1.2zM600.0 113.7h1.2v1.2h-1.2zM608.6 113.7h1.2v1.2h-1.2zM617.2 113.7h1.2v1.2h-1.2zM625.8 113.7h1.2v1.2h-1.2zM634.4 113.7h1.2v1.2h-1.2zM591.4 119.0h1.2v1.2h-1.2zM600.0 119.0h1.2v1.2h-1.2zM608.6 119.0h1.2v1.2h-1.2zM617.2 119.0h1.2v1.2h-1.2zM625.8 119.0h1.2v1.2h-1.2zM634.4 119.0h1.2v1.2h-1.2zM427.9 124.4h1.2v1.2h-1.2zM436.6 124.4h1.2v1.2h-1.2zM445.1 124.4h1.2v1.2h-1.2zM582.8 124.4h1.2v1.2h-1.2zM591.4 124.4h1.2v1.2h-1.2zM600.0 124.4h1.2v1.2h-1.2zM608.6 124.4h1.2v1.2h-1.2zM617.2 124.4h1.2v1.2h-1.2zM625.8 124.4h1.2v1.2h-1.2zM634.4 124.4h1.2v1.2h-1.2zM384.9 129.7h1.2v1.2h-1.2zM393.6 129.7h1.2v1.2h-1.2zM402.1 129.7h1.2v1.2h-1.2zM410.8 129.7h1.2v1.2h-1.2zM419.4 129.7h1.2v1.2h-1.2zM427.9 129.7h1.2v1.2h-1.2zM436.6 129.7h1.2v1.2h-1.2zM445.1 129.7h1.2v1.2h-1.2zM453.8 129.7h1.2v1.2h-1.2zM574.2 129.7h1.2v1.2h-1.2zM582.8 129.7h1.2v1.2h-1.2zM591.4 129.7h1.2v1.2h-1.2zM600.0 129.7h1.2v1.2h-1.2zM608.6 129.7h1.2v1.2h-1.2zM617.2 129.7h1.2v1.2h-1.2zM625.8 129.7h1.2v1.2h-1.2zM634.4 129.7h1.2v1.2h-1.2zM384.9 135.0h1.2v1.2h-1.2zM393.6 135.0h1.2v1.2h-1.2zM436.6 135.0h1.2v1.2h-1.2zM445.1 135.0h1.2v1.2h-1.2zM453.8 135.0h1.2v1.2h-1.2zM548.4 135.0h1.2v1.2h-1.2zM557.0 135.0h1.2v1.2h-1.2zM565.6 135.0h1.2v1.2h-1.2zM574.2 135.0h1.2v1.2h-1.2zM582.8 135.0h1.2v1.2h-1.2zM591.4 135.0h1.2v1.2h-1.2zM600.0 135.0h1.2v1.2h-1.2zM608.6 135.0h1.2v1.2h-1.2zM617.2 135.0h1.2v1.2h-1.2zM625.8 135.0h1.2v1.2h-1.2zM634.4 135.0h1.2v1.2h-1.2zM384.9 140.4h1.2v1.2h-1.2zM436.6 140.4h1.2v1.2h-1.2zM445.1 140.4h1.2v1.2h-1.2zM453.8 140.4h1.2v1.2h-1.2zM462.3 140.4h1.2v1.2h-1.2zM531.2 140.4h1.2v1.2h-1.2zM539.8 140.4h1.2v1.2h-1.2zM548.4 140.4h1.2v1.2h-1.2zM557.0 140.4h1.2v1.2h-1.2zM565.6 140.4h1.2v1.2h-1.2zM574.2 140.4h1.2v1.2h-1.2zM582.8 140.4h1.2v1.2h-1.2zM591.4 140.4h1.2v1.2h-1.2zM600.0 140.4h1.2v1.2h-1.2zM608.6 140.4h1.2v1.2h-1.2zM617.2 140.4h1.2v1.2h-1.2zM625.8 140.4h1.2v1.2h-1.2zM634.4 140.4h1.2v1.2h-1.2zM384.9 145.7h1.2v1.2h-1.2zM393.6 145.7h1.2v1.2h-1.2zM436.6 145.7h1.2v1.2h-1.2zM445.1 145.7h1.2v1.2h-1.2zM453.8 145.7h1.2v1.2h-1.2zM462.3 145.7h1.2v1.2h-1.2zM470.9 145.7h1.2v1.2h-1.2zM479.6 145.7h1.2v1.2h-1.2zM488.1 145.7h1.2v1.2h-1.2zM496.8 145.7h1.2v1.2h-1.2zM505.3 145.7h1.2v1.2h-1.2zM514.0 145.7h1.2v1.2h-1.2zM522.6 145.7h1.2v1.2h-1.2zM531.2 145.7h1.2v1.2h-1.2zM539.8 145.7h1.2v1.2h-1.2zM548.4 145.7h1.2v1.2h-1.2zM557.0 145.7h1.2v1.2h-1.2zM565.6 145.7h1.2v1.2h-1.2zM574.2 145.7h1.2v1.2h-1.2zM582.8 145.7h1.2v1.2h-1.2zM591.4 145.7h1.2v1.2h-1.2zM600.0 145.7h1.2v1.2h-1.2zM608.6 145.7h1.2v1.2h-1.2zM617.2 145.7h1.2v1.2h-1.2zM625.8 145.7h1.2v1.2h-1.2zM634.4 145.7h1.2v1.2h-1.2zM384.9 151.1h1.2v1.2h-1.2zM393.6 151.1h1.2v1.2h-1.2zM402.1 151.1h1.2v1.2h-1.2zM410.8 151.1h1.2v1.2h-1.2zM419.4 151.1h1.2v1.2h-1.2zM427.9 151.1h1.2v1.2h-1.2zM436.6 151.1h1.2v1.2h-1.2zM445.1 151.1h1.2v1.2h-1.2zM453.8 151.1h1.2v1.2h-1.2zM462.3 151.1h1.2v1.2h-1.2zM470.9 151.1h1.2v1.2h-1.2zM479.6 151.1h1.2v1.2h-1.2zM488.1 151.1h1.2v1.2h-1.2zM496.8 151.1h1.2v1.2h-1.2zM505.3 151.1h1.2v1.2h-1.2zM514.0 151.1h1.2v1.2h-1.2zM522.6 151.1h1.2v1.2h-1.2zM531.2 151.1h1.2v1.2h-1.2zM539.8 151.1h1.2v1.2h-1.2zM548.4 151.1h1.2v1.2h-1.2zM557.0 151.1h1.2v1.2h-1.2zM565.6 151.1h1.2v1.2h-1.2zM574.2 151.1h1.2v1.2h-1.2zM582.8 151.1h1.2v1.2h-1.2zM591.4 151.1h1.2v1.2h-1.2zM600.0 151.1h1.2v1.2h-1.2zM608.6 151.1h1.2v1.2h-1.2zM617.2 151.1h1.2v1.2h-1.2zM625.8 151.1h1.2v1.2h-1.2zM634.4 151.1h1.2v1.2h-1.2z" fill="#444"/></g><g clip-path="url(#clipc)"><path d="M36.9 199.3L37.4 205.6M48.4 199.3L48.3 205.8M60.0 199.3L58.9 205.7M71.6 199.3L70.1 205.2M83.1 199.3L82.1 203.0M117.8 199.3L119.0 199.1M129.3 199.3L132.5 198.8M140.8 199.3L144.5 198.8M152.4 199.3L156.1 198.8M163.9 199.3L167.6 198.8M175.5 199.3L179.1 198.8M187.1 199.3L189.7 199.0M198.6 199.3L200.3 199.3M210.1 199.3L211.7 199.3M36.9 206.4L37.0 209.1M48.4 206.4L48.4 209.3M60.0 206.4L59.5 209.3M71.6 206.4L70.9 208.9M106.2 206.4L107.7 206.1M117.8 206.4L122.5 205.6M129.3 206.4L135.5 205.5M140.8 206.4L147.2 205.5M152.4 206.4L158.7 205.5M163.9 206.4L170.2 205.5M175.5 206.4L181.5 205.6M187.1 206.4L191.1 206.0M198.6 206.4L201.2 206.4M210.1 206.4L212.7 206.6M221.7 206.4L224.1 206.8M233.2 206.4L235.3 207.2M244.8 206.4L246.0 206.9M36.9 213.5L36.7 216.1M48.4 213.5L48.1 215.9M60.0 213.5L59.7 214.6M94.7 213.5L96.0 213.1M106.2 213.5L111.4 212.1M117.8 213.5L125.0 211.8M129.3 213.5L136.7 211.8M140.8 213.5L148.3 211.8M152.4 213.5L159.8 211.8M163.9 213.5L170.8 212.0M175.5 213.5L180.0 212.8M187.1 213.5L191.4 212.9M198.6 213.5L201.9 214.1M210.1 213.5L213.4 214.7M221.7 213.5L225.0 214.7M233.2 213.5L236.5 214.7M244.8 213.5L248.0 214.7M256.4 213.5L259.3 214.5M267.9 213.5L270.8 214.5M279.4 213.5L282.2 214.4M291.0 213.5L292.4 214.0M36.9 220.7L35.6 223.9M48.4 220.7L47.5 223.4M60.0 220.7L59.3 222.8M83.1 220.7L84.2 219.9M94.7 220.7L98.7 218.7M106.2 220.7L112.3 218.1M117.8 220.7L124.1 218.1M129.3 220.7L135.6 218.1M140.8 220.7L147.0 218.3M152.4 220.7L158.5 218.3M163.9 220.7L168.4 219.2M175.5 220.7L178.2 220.5M187.1 220.7L189.6 220.6M198.6 220.7L201.1 220.8M210.1 220.7L213.8 221.7M221.7 220.7L225.7 221.9M233.2 220.7L237.3 222.0M244.8 220.7L249.0 222.0M256.4 220.7L260.6 222.1M267.9 220.7L272.2 222.1M279.4 220.7L283.7 222.0M291.0 220.7L294.6 221.8M36.9 227.8L36.9 230.2M48.4 227.8L48.3 230.0M71.6 227.8L72.7 227.0M83.1 227.8L86.8 225.3M94.7 227.8L99.8 224.4M106.2 227.8L111.5 224.3M117.8 227.8L123.1 224.3M129.3 227.8L133.8 225.1M140.8 227.8L144.2 226.7M152.4 227.8L155.1 227.2M163.9 227.8L165.9 227.7M175.5 227.8L177.3 227.8M187.1 227.8L188.8 227.8M198.6 227.8L200.4 227.8M210.1 227.8L212.0 227.8M221.7 227.8L223.6 227.9M233.2 227.8L235.2 227.9M244.8 227.8L246.9 228.2M256.4 227.8L258.7 228.5M267.9 227.8L270.2 228.5M279.4 227.8L281.6 228.5M291.0 227.8L292.0 228.1M36.9 234.9L37.7 236.3M48.4 234.9L49.2 236.1M71.6 234.9L75.0 232.6M83.1 234.9L88.1 231.6M94.7 234.9L99.8 231.5M106.2 234.9L111.4 231.5M117.8 234.9L122.4 231.9M129.3 234.9L131.7 234.4M140.8 234.9L142.8 235.0M152.4 234.9L154.2 234.9M163.9 234.9L165.7 234.9M175.5 234.9L176.9 234.9M187.1 234.9L188.1 234.9M198.6 234.9L199.7 234.9M210.1 234.9L211.2 234.9M221.7 234.9L222.7 234.9M71.6 242.0L74.5 240.2M83.1 242.0L86.9 239.7M94.7 242.0L98.6 239.6M106.2 242.0L110.1 239.6M117.8 242.0L121.3 240.2M129.3 242.0L131.9 243.1M140.8 242.0L143.2 243.5M152.4 242.0L154.5 243.2M163.9 242.0L165.7 242.9M175.5 242.0L176.8 242.9M60.0 249.1L61.1 250.2M71.6 249.1L73.3 250.5M83.1 249.1L85.3 249.8M94.7 249.1L97.1 247.7M106.2 249.1L109.0 246.9M117.8 249.1L120.5 246.9M129.3 249.1L131.6 249.0M140.8 249.1L143.2 250.7M152.4 249.1L154.8 250.8M163.9 249.1L166.4 250.8M175.5 249.1L177.8 250.7M187.1 249.1L188.7 250.2M60.0 256.3L62.2 258.5M71.6 256.3L74.0 258.7M83.1 256.3L85.6 258.7M94.7 256.3L96.9 258.3M106.2 256.3L107.6 255.6M117.8 256.3L118.9 255.2M140.8 256.3L142.9 257.3M152.4 256.3L155.0 257.5M163.9 256.3L166.6 257.5M175.5 256.3L178.2 257.5M187.1 256.3L189.8 257.1M198.6 256.3L201.6 255.2M210.1 256.3L213.0 254.8M221.7 256.3L223.0 255.6M60.0 263.4L61.4 264.6M71.6 263.4L74.4 265.9M83.1 263.4L86.2 266.1M94.7 263.4L97.7 266.0M106.2 263.4L108.4 265.3M140.8 263.4L144.5 261.7M152.4 263.4L157.2 261.2M163.9 263.4L168.9 261.1M175.5 263.4L180.4 261.1M187.1 263.4L192.1 260.9M198.6 263.4L203.7 260.8M210.1 263.4L215.2 260.8M221.7 263.4L225.8 261.3M233.2 263.4L235.9 262.1M71.6 270.5L74.2 272.8M83.1 270.5L86.2 273.2M94.7 270.5L97.8 273.2M106.2 270.5L109.3 273.0M117.8 270.5L121.1 271.4M129.3 270.5L133.2 269.7M140.8 270.5L145.8 268.2M152.4 270.5L157.5 267.9M163.9 270.5L169.1 267.9M175.5 270.5L180.7 267.9M187.1 270.5L192.3 267.9M198.6 270.5L203.8 267.9M210.1 270.5L215.4 268.0M221.7 270.5L226.9 268.0M233.2 270.5L238.1 268.1M244.8 270.5L247.8 269.0M71.6 277.6L73.7 278.7M83.1 277.6L86.4 279.6M94.7 277.6L98.2 279.8M106.2 277.6L110.3 279.3M117.8 277.6L123.6 278.4M129.3 277.6L135.6 277.7M140.8 277.6L146.6 276.1M152.4 277.6L157.7 275.0M163.9 277.6L169.2 275.3M175.5 277.6L181.6 275.3M187.1 277.6L193.2 275.3M198.6 277.6L204.7 275.3M210.1 277.6L216.2 275.4M221.7 277.6L227.3 275.7M233.2 277.6L237.1 276.3M244.8 277.6L245.9 277.3M60.0 284.7L61.4 285.3M71.6 284.7L76.1 286.5M83.1 284.7L88.8 286.6M94.7 284.7L101.9 286.0M106.2 284.7L114.6 285.4M117.8 284.7L126.5 285.2M129.3 284.7L137.8 284.5M140.8 284.7L148.5 282.8M152.4 284.7L158.9 282.2M163.9 284.7L169.3 282.2M175.5 284.7L180.7 282.2M187.1 284.7L192.2 282.2M198.6 284.7L203.7 282.3M210.1 284.7L213.7 283.6M221.7 284.7L224.3 284.6M233.2 284.7L235.7 284.7M244.8 284.7L246.5 284.7M71.6 291.9L78.0 292.1M83.1 291.9L92.4 292.0M94.7 291.9L104.3 291.9M106.2 291.9L116.0 291.9M117.8 291.9L127.5 291.8M129.3 291.9L138.6 291.2M140.8 291.9L149.0 290.0M152.4 291.9L159.6 289.6M163.9 291.9L168.0 290.3M175.5 291.9L178.1 290.6M187.1 291.9L189.6 290.6M198.6 291.9L201.0 290.7M210.1 291.9L211.7 291.4M221.7 291.9L223.2 291.8M233.2 291.9L234.5 291.9M71.6 299.0L73.9 298.9M83.1 299.0L89.7 298.6M94.7 299.0L101.7 298.6M106.2 299.0L113.2 298.6M117.8 299.0L124.8 298.6M129.3 299.0L136.7 298.5M140.8 299.0L148.2 298.4M152.4 299.0L158.0 298.3M163.9 299.0L165.0 298.8M83.1 306.1L84.7 306.1M94.7 306.1L96.4 306.1M106.2 306.1L107.9 306.1M117.8 306.1L119.5 306.1M129.3 306.1L131.4 306.0M140.8 306.1L143.9 305.9M152.4 306.1L153.7 306.0" stroke="#1a1a1a" stroke-width="1.05" fill="none"/><path d="M37.7 208.7L36.3 205.4L38.5 205.2ZM48.3 208.9L47.2 205.4L49.5 205.5ZM58.4 208.7L57.8 205.2L60.1 205.6ZM69.4 208.2L69.1 204.6L71.3 205.2ZM81.5 205.5L81.1 202.4L83.3 203.0ZM119.4 199.1L118.8 200.0L118.5 198.3ZM134.7 198.5L132.4 200.0L132.1 197.7ZM147.0 198.4L144.4 200.0L144.1 197.7ZM158.5 198.4L155.9 200.0L155.6 197.7ZM170.1 198.4L167.5 200.0L167.2 197.7ZM181.5 198.5L179.0 200.0L178.6 197.7ZM191.2 198.9L189.5 200.2L189.2 197.9ZM201.1 199.3L200.0 200.3L200.0 198.3ZM212.4 199.3L211.4 200.2L211.4 198.4ZM37.1 210.7L35.9 208.8L38.2 208.7ZM48.4 211.1L47.3 209.0L49.6 209.0ZM59.2 211.1L58.4 208.8L60.7 209.2ZM70.6 210.5L69.9 208.4L72.1 208.9ZM108.4 205.9L107.6 207.1L107.2 205.2ZM125.6 205.0L122.4 206.8L122.0 204.5ZM138.6 205.0L135.4 206.6L135.0 204.4ZM150.2 205.0L147.0 206.6L146.7 204.4ZM161.8 205.0L158.6 206.6L158.2 204.4ZM173.3 205.0L170.1 206.7L169.7 204.4ZM184.5 205.1L181.3 206.7L181.0 204.5ZM193.9 205.7L190.9 207.1L190.7 204.9ZM202.8 206.5L200.9 207.6L200.9 205.3ZM214.2 206.7L212.3 207.7L212.4 205.4ZM225.5 207.0L223.6 207.9L224.0 205.6ZM236.4 207.6L234.6 208.1L235.4 206.0ZM246.6 207.1L245.5 207.6L246.1 206.0ZM36.6 217.7L35.6 215.7L37.9 215.9ZM48.0 217.2L47.0 215.4L49.3 215.7ZM59.6 214.9L59.0 214.1L60.6 214.5ZM96.5 212.9L96.0 214.0L95.4 212.3ZM114.4 211.2L111.4 213.3L110.8 211.1ZM128.0 211.1L125.0 213.0L124.4 210.7ZM139.7 211.1L136.7 213.0L136.2 210.7ZM151.3 211.1L148.2 213.0L147.7 210.8ZM162.8 211.1L159.8 213.0L159.2 210.8ZM173.8 211.3L170.8 213.2L170.3 210.9ZM183.0 212.3L179.9 214.0L179.5 211.7ZM194.4 212.5L191.2 214.1L190.9 211.8ZM204.1 214.5L201.4 215.2L201.8 213.0ZM215.5 215.4L212.7 215.7L213.5 213.5ZM227.1 215.5L224.3 215.7L225.1 213.6ZM238.7 215.5L235.8 215.7L236.6 213.6ZM250.1 215.4L247.3 215.7L248.1 213.5ZM261.1 215.1L258.6 215.5L259.3 213.3ZM272.6 215.1L270.1 215.5L270.9 213.3ZM283.9 215.0L281.5 215.4L282.2 213.2ZM293.1 214.2L291.9 214.8L292.4 213.0ZM34.8 226.1L34.7 223.2L36.8 224.1ZM46.9 225.0L46.5 222.7L48.7 223.5ZM58.9 224.0L58.3 222.1L60.5 222.9ZM84.7 219.6L84.5 220.9L83.5 219.3ZM101.5 217.3L99.0 219.8L98.0 217.8ZM115.1 216.9L112.4 219.3L111.5 217.1ZM126.9 216.9L124.2 219.2L123.4 217.1ZM138.5 217.0L135.8 219.3L134.9 217.2ZM149.8 217.2L147.1 219.5L146.3 217.3ZM161.4 217.2L158.6 219.5L157.8 217.4ZM171.3 218.3L168.5 220.4L167.7 218.2ZM179.8 220.3L178.0 221.6L177.8 219.3ZM191.1 220.6L189.3 221.8L189.2 219.5ZM202.7 220.9L200.8 221.9L200.9 219.6ZM216.2 222.4L213.2 222.7L213.8 220.5ZM228.4 222.8L225.1 222.9L225.8 220.7ZM240.1 222.9L236.7 223.0L237.4 220.8ZM251.9 223.0L248.4 223.0L249.1 220.9ZM263.6 223.0L260.0 223.1L260.7 220.9ZM275.1 223.0L271.5 223.1L272.2 220.9ZM286.6 223.0L283.0 223.0L283.7 220.9ZM297.0 222.6L293.9 222.8L294.6 220.6ZM36.9 231.7L35.7 229.9L38.0 229.9ZM48.2 231.2L47.2 229.6L49.5 229.7ZM73.3 226.6L73.0 227.9L72.0 226.4ZM89.4 223.6L87.2 226.4L86.0 224.5ZM102.4 222.6L100.2 225.5L98.9 223.6ZM114.1 222.6L111.9 225.4L110.7 223.5ZM125.7 222.7L123.4 225.5L122.2 223.5ZM136.5 223.6L134.2 226.3L133.0 224.3ZM146.4 226.0L144.2 227.9L143.5 225.7ZM156.8 226.8L155.1 228.4L154.6 226.1ZM166.9 227.6L165.6 228.7L165.5 226.6ZM178.2 227.8L177.0 228.8L177.0 226.8ZM189.8 227.8L188.5 228.8L188.5 226.8ZM201.3 227.8L200.1 228.8L200.1 226.8ZM213.0 227.9L211.7 228.9L211.7 226.8ZM224.6 227.9L223.2 228.9L223.3 226.8ZM236.2 228.0L234.8 228.9L234.9 226.8ZM248.1 228.5L246.4 229.3L246.9 227.1ZM260.1 229.0L258.0 229.5L258.7 227.3ZM271.6 229.0L269.6 229.5L270.3 227.4ZM282.8 228.9L281.0 229.5L281.7 227.3ZM292.4 228.2L291.5 228.8L292.0 227.2ZM38.1 237.0L36.7 236.5L38.4 235.6ZM49.5 236.7L48.2 236.3L49.8 235.4ZM77.4 231.0L75.4 233.7L74.1 231.8ZM90.7 229.9L88.5 232.7L87.2 230.8ZM102.4 229.8L100.2 232.6L98.9 230.7ZM114.0 229.8L111.8 232.6L110.5 230.7ZM125.0 230.3L122.8 233.1L121.5 231.1ZM133.0 234.1L131.6 235.6L131.1 233.4ZM143.8 235.0L142.4 236.0L142.5 233.9ZM155.1 234.9L153.9 235.9L153.9 233.9ZM166.5 234.9L165.4 235.9L165.4 233.9ZM177.4 234.9L176.6 235.8L176.6 234.0ZM188.4 234.9L187.8 235.7L187.8 234.1ZM200.0 234.9L199.4 235.7L199.4 234.1ZM211.5 234.9L210.9 235.7L210.9 234.1ZM223.1 234.9L222.4 235.7L222.4 234.1ZM76.5 239.0L74.9 241.4L73.7 239.4ZM89.6 238.1L87.3 240.8L86.1 238.9ZM101.2 238.0L98.9 240.8L97.7 238.8ZM112.7 238.0L110.4 240.8L109.2 238.8ZM123.8 239.0L121.6 241.4L120.6 239.3ZM133.5 243.7L131.2 244.0L132.0 241.9ZM144.7 244.5L142.4 244.3L143.6 242.4ZM155.7 243.9L153.6 244.1L154.8 242.1ZM166.6 243.4L164.9 243.7L165.9 241.8ZM177.4 243.2L176.1 243.5L177.1 241.9ZM61.6 250.7L60.2 250.7L61.5 249.3ZM74.4 251.4L72.4 251.3L73.8 249.5ZM86.6 250.2L84.7 250.8L85.3 248.6ZM98.7 246.7L97.5 248.8L96.3 246.8ZM110.8 245.3L109.5 247.9L108.0 246.2ZM122.3 245.5L121.0 248.0L119.5 246.2ZM132.9 248.9L131.4 250.2L131.2 247.9ZM144.7 251.7L142.3 251.5L143.6 249.6ZM156.4 251.8L153.9 251.5L155.2 249.6ZM167.9 251.8L165.5 251.5L166.8 249.6ZM179.3 251.7L177.0 251.5L178.2 249.6ZM189.5 250.8L187.8 250.9L189.0 249.2ZM63.6 259.9L61.2 259.1L62.8 257.4ZM75.6 260.2L72.9 259.3L74.6 257.6ZM87.2 260.3L84.5 259.3L86.1 257.6ZM98.3 259.6L95.9 258.9L97.4 257.2ZM108.3 255.3L107.7 256.6L106.9 254.9ZM119.5 254.8L119.3 256.2L118.1 254.7ZM144.1 258.0L142.1 258.2L143.2 256.2ZM156.6 258.3L154.2 258.4L155.2 256.4ZM168.3 258.4L165.8 258.4L166.8 256.4ZM179.8 258.3L177.4 258.4L178.4 256.3ZM191.5 257.6L189.2 258.1L189.8 255.9ZM203.5 254.6L201.7 256.4L200.9 254.2ZM214.8 253.9L213.2 256.0L212.2 254.0ZM223.7 255.3L223.2 256.6L222.4 254.9ZM62.1 265.3L60.4 265.2L61.8 263.7ZM76.3 267.6L73.4 266.6L74.9 264.8ZM88.3 268.0L85.2 266.8L86.7 265.0ZM99.7 267.8L96.7 266.7L98.2 265.0ZM109.8 266.5L107.4 266.0L108.9 264.2ZM147.0 260.5L144.7 262.8L143.7 260.7ZM160.0 259.8L157.4 262.3L156.4 260.2ZM171.7 259.8L169.1 262.3L168.1 260.2ZM183.2 259.8L180.6 262.2L179.7 260.2ZM194.9 259.6L192.3 262.1L191.3 260.0ZM206.5 259.4L204.0 262.0L203.0 259.9ZM218.0 259.5L215.5 262.0L214.4 260.0ZM228.6 260.0L226.0 262.5L225.0 260.4ZM237.5 261.3L236.1 263.2L235.1 261.2ZM76.0 274.4L73.3 273.5L74.8 271.8ZM88.3 275.1L85.2 273.9L86.7 272.1ZM99.9 275.1L96.8 273.9L98.3 272.1ZM111.5 274.6L108.4 273.7L109.8 271.9ZM123.2 272.1L120.5 272.5L121.1 270.2ZM135.9 269.2L133.2 270.9L132.7 268.6ZM148.6 266.9L146.0 269.4L145.1 267.3ZM160.3 266.5L157.8 269.1L156.7 267.0ZM171.9 266.6L169.3 269.1L168.3 267.0ZM183.5 266.6L181.0 269.1L180.0 267.0ZM195.1 266.6L192.5 269.1L191.5 267.0ZM206.6 266.6L204.1 269.1L203.1 267.0ZM218.2 266.6L215.6 269.1L214.6 267.0ZM229.7 266.6L227.1 269.1L226.1 267.1ZM240.9 266.7L238.4 269.2L237.4 267.2ZM249.8 268.0L248.0 270.2L247.0 268.1ZM75.0 279.4L72.9 279.6L74.0 277.6ZM88.6 280.9L85.5 280.4L86.7 278.4ZM100.6 281.3L97.3 280.6L98.5 278.7ZM113.1 280.5L109.5 280.3L110.4 278.2ZM126.6 278.8L123.1 279.5L123.4 277.2ZM138.7 277.8L135.2 278.9L135.3 276.6ZM149.6 275.4L146.6 277.3L146.1 275.1ZM160.5 273.6L157.9 276.1L156.9 274.1ZM172.0 274.1L169.4 276.5L168.4 274.4ZM184.5 274.2L181.7 276.5L180.9 274.4ZM196.1 274.2L193.3 276.5L192.5 274.3ZM207.6 274.2L204.9 276.5L204.1 274.4ZM219.1 274.4L216.3 276.6L215.5 274.4ZM230.2 274.6L227.4 276.9L226.6 274.7ZM239.6 275.5L237.1 277.5L236.4 275.3ZM246.2 277.2L245.8 278.2L245.3 276.6ZM62.1 285.6L60.8 286.1L61.5 284.3ZM79.0 287.6L75.4 287.5L76.2 285.3ZM91.8 287.5L88.2 287.6L88.9 285.4ZM104.9 286.6L101.4 287.1L101.8 284.8ZM117.7 285.7L114.2 286.5L114.4 284.2ZM129.6 285.4L126.1 286.3L126.2 284.0ZM140.9 284.4L137.5 285.6L137.5 283.3ZM151.5 282.1L148.5 284.0L147.9 281.8ZM161.8 281.1L159.0 283.4L158.2 281.2ZM172.1 280.9L169.5 283.4L168.5 281.3ZM183.4 280.8L180.9 283.4L179.9 281.3ZM195.0 280.8L192.5 283.4L191.5 281.3ZM206.5 280.9L203.9 283.4L202.9 281.4ZM216.0 282.8L213.7 284.8L213.0 282.6ZM225.9 284.5L224.1 285.8L224.0 283.5ZM237.2 284.7L235.4 285.9L235.4 283.6ZM247.3 284.7L246.2 285.7L246.2 283.8ZM81.1 292.3L77.6 293.3L77.7 291.0ZM95.5 292.1L92.1 293.2L92.2 290.9ZM107.4 292.0L104.0 293.1L104.0 290.8ZM119.1 291.9L115.7 293.0L115.7 290.7ZM130.6 291.8L127.2 293.0L127.2 290.7ZM141.7 291.0L138.4 292.4L138.2 290.1ZM152.0 289.3L148.9 291.2L148.4 288.9ZM162.6 288.7L159.7 290.8L159.0 288.6ZM170.8 289.2L168.1 291.5L167.3 289.4ZM179.7 289.8L178.3 291.7L177.3 289.7ZM191.2 289.8L189.9 291.7L188.8 289.7ZM202.5 289.9L201.3 291.8L200.3 289.8ZM212.5 291.1L211.7 292.4L211.2 290.5ZM223.8 291.8L222.9 292.8L222.8 290.9ZM235.0 291.9L234.2 292.7L234.2 291.0ZM75.3 298.8L73.6 300.1L73.5 297.8ZM92.8 298.5L89.4 299.8L89.3 297.5ZM104.8 298.4L101.4 299.7L101.3 297.5ZM116.3 298.4L113.0 299.7L112.8 297.5ZM127.9 298.4L124.6 299.7L124.4 297.4ZM139.8 298.3L136.5 299.7L136.3 297.4ZM151.3 298.1L148.0 299.6L147.8 297.3ZM161.0 298.0L157.8 299.5L157.5 297.2ZM165.3 298.7L164.9 299.6L164.5 298.0ZM85.5 306.0L84.5 307.0L84.4 305.1ZM97.2 306.1L96.1 307.1L96.1 305.1ZM108.8 306.1L107.6 307.1L107.6 305.1ZM120.4 306.1L119.2 307.1L119.2 305.1ZM132.6 306.0L131.1 307.1L131.1 304.9ZM145.8 305.8L143.6 307.1L143.5 304.8ZM154.2 306.0L153.5 306.9L153.3 305.2Z" fill="#111"/><path d="M94.1 198.8h1.2v1.2h-1.2zM105.7 198.8h1.2v1.2h-1.2zM221.1 198.8h1.2v1.2h-1.2zM232.7 198.8h1.2v1.2h-1.2zM244.2 198.8h1.2v1.2h-1.2zM255.8 198.8h1.2v1.2h-1.2zM267.3 198.8h1.2v1.2h-1.2zM278.9 198.8h1.2v1.2h-1.2zM290.5 198.8h1.2v1.2h-1.2zM82.5 205.9h1.2v1.2h-1.2zM94.1 205.9h1.2v1.2h-1.2zM255.8 205.9h1.2v1.2h-1.2zM267.3 205.9h1.2v1.2h-1.2zM278.9 205.9h1.2v1.2h-1.2zM290.5 205.9h1.2v1.2h-1.2zM71.0 213.0h1.2v1.2h-1.2zM82.5 213.0h1.2v1.2h-1.2zM71.0 220.1h1.2v1.2h-1.2zM59.5 227.2h1.2v1.2h-1.2zM59.5 234.3h1.2v1.2h-1.2zM232.7 234.3h1.2v1.2h-1.2zM244.2 234.3h1.2v1.2h-1.2zM255.8 234.3h1.2v1.2h-1.2zM267.3 234.3h1.2v1.2h-1.2zM278.9 234.3h1.2v1.2h-1.2zM290.5 234.3h1.2v1.2h-1.2zM36.4 241.5h1.2v1.2h-1.2zM47.9 241.5h1.2v1.2h-1.2zM59.5 241.5h1.2v1.2h-1.2zM186.5 241.5h1.2v1.2h-1.2zM198.1 241.5h1.2v1.2h-1.2zM209.6 241.5h1.2v1.2h-1.2zM221.1 241.5h1.2v1.2h-1.2zM232.7 241.5h1.2v1.2h-1.2zM244.2 241.5h1.2v1.2h-1.2zM255.8 241.5h1.2v1.2h-1.2zM267.3 241.5h1.2v1.2h-1.2zM278.9 241.5h1.2v1.2h-1.2zM290.5 241.5h1.2v1.2h-1.2zM36.4 248.6h1.2v1.2h-1.2zM47.9 248.6h1.2v1.2h-1.2zM198.1 248.6h1.2v1.2h-1.2zM209.6 248.6h1.2v1.2h-1.2zM221.1 248.6h1.2v1.2h-1.2zM232.7 248.6h1.2v1.2h-1.2zM244.2 248.6h1.2v1.2h-1.2zM255.8 248.6h1.2v1.2h-1.2zM267.3 248.6h1.2v1.2h-1.2zM278.9 248.6h1.2v1.2h-1.2zM290.5 248.6h1.2v1.2h-1.2zM36.4 255.7h1.2v1.2h-1.2zM47.9 255.7h1.2v1.2h-1.2zM128.8 255.7h1.2v1.2h-1.2zM232.7 255.7h1.2v1.2h-1.2zM244.2 255.7h1.2v1.2h-1.2zM255.8 255.7h1.2v1.2h-1.2zM267.3 255.7h1.2v1.2h-1.2zM278.9 255.7h1.2v1.2h-1.2zM290.5 255.7h1.2v1.2h-1.2zM36.4 262.8h1.2v1.2h-1.2zM47.9 262.8h1.2v1.2h-1.2zM117.2 262.8h1.2v1.2h-1.2zM128.8 262.8h1.2v1.2h-1.2zM244.2 262.8h1.2v1.2h-1.2zM255.8 262.8h1.2v1.2h-1.2zM267.3 262.8h1.2v1.2h-1.2zM278.9 262.8h1.2v1.2h-1.2zM290.5 262.8h1.2v1.2h-1.2zM36.4 269.9h1.2v1.2h-1.2zM47.9 269.9h1.2v1.2h-1.2zM59.5 269.9h1.2v1.2h-1.2zM255.8 269.9h1.2v1.2h-1.2zM267.3 269.9h1.2v1.2h-1.2zM278.9 269.9h1.2v1.2h-1.2zM290.5 269.9h1.2v1.2h-1.2zM36.4 277.1h1.2v1.2h-1.2zM47.9 277.1h1.2v1.2h-1.2zM59.5 277.1h1.2v1.2h-1.2zM255.8 277.1h1.2v1.2h-1.2zM267.3 277.1h1.2v1.2h-1.2zM278.9 277.1h1.2v1.2h-1.2zM290.5 277.1h1.2v1.2h-1.2zM36.4 284.2h1.2v1.2h-1.2zM47.9 284.2h1.2v1.2h-1.2zM255.8 284.2h1.2v1.2h-1.2zM267.3 284.2h1.2v1.2h-1.2zM278.9 284.2h1.2v1.2h-1.2zM290.5 284.2h1.2v1.2h-1.2zM36.4 291.3h1.2v1.2h-1.2zM47.9 291.3h1.2v1.2h-1.2zM59.5 291.3h1.2v1.2h-1.2zM244.2 291.3h1.2v1.2h-1.2zM255.8 291.3h1.2v1.2h-1.2zM267.3 291.3h1.2v1.2h-1.2zM278.9 291.3h1.2v1.2h-1.2zM290.5 291.3h1.2v1.2h-1.2zM36.4 298.4h1.2v1.2h-1.2zM47.9 298.4h1.2v1.2h-1.2zM59.5 298.4h1.2v1.2h-1.2zM174.9 298.4h1.2v1.2h-1.2zM186.5 298.4h1.2v1.2h-1.2zM198.1 298.4h1.2v1.2h-1.2zM209.6 298.4h1.2v1.2h-1.2zM221.1 298.4h1.2v1.2h-1.2zM232.7 298.4h1.2v1.2h-1.2zM244.2 298.4h1.2v1.2h-1.2zM255.8 298.4h1.2v1.2h-1.2zM267.3 298.4h1.2v1.2h-1.2zM278.9 298.4h1.2v1.2h-1.2zM290.5 298.4h1.2v1.2h-1.2zM36.4 305.6h1.2v1.2h-1.2zM47.9 305.6h1.2v1.2h-1.2zM59.5 305.6h1.2v1.2h-1.2zM71.0 305.6h1.2v1.2h-1.2zM163.4 305.6h1.2v1.2h-1.2zM174.9 305.6h1.2v1.2h-1.2zM186.5 305.6h1.2v1.2h-1.2zM198.1 305.6h1.2v1.2h-1.2zM209.6 305.6h1.2v1.2h-1.2zM221.1 305.6h1.2v1.2h-1.2zM232.7 305.6h1.2v1.2h-1.2zM244.2 305.6h1.2v1.2h-1.2zM255.8 305.6h1.2v1.2h-1.2zM267.3 305.6h1.2v1.2h-1.2zM278.9 305.6h1.2v1.2h-1.2zM290.5 305.6h1.2v1.2h-1.2zM36.4 312.7h1.2v1.2h-1.2zM47.9 312.7h1.2v1.2h-1.2zM59.5 312.7h1.2v1.2h-1.2zM71.0 312.7h1.2v1.2h-1.2zM82.5 312.7h1.2v1.2h-1.2zM94.1 312.7h1.2v1.2h-1.2zM105.7 312.7h1.2v1.2h-1.2zM117.2 312.7h1.2v1.2h-1.2zM128.8 312.7h1.2v1.2h-1.2zM140.3 312.7h1.2v1.2h-1.2zM151.8 312.7h1.2v1.2h-1.2zM163.4 312.7h1.2v1.2h-1.2zM174.9 312.7h1.2v1.2h-1.2zM186.5 312.7h1.2v1.2h-1.2zM198.1 312.7h1.2v1.2h-1.2zM209.6 312.7h1.2v1.2h-1.2zM221.1 312.7h1.2v1.2h-1.2zM232.7 312.7h1.2v1.2h-1.2zM244.2 312.7h1.2v1.2h-1.2zM255.8 312.7h1.2v1.2h-1.2zM267.3 312.7h1.2v1.2h-1.2zM278.9 312.7h1.2v1.2h-1.2zM290.5 312.7h1.2v1.2h-1.2zM36.4 319.8h1.2v1.2h-1.2zM47.9 319.8h1.2v1.2h-1.2zM59.5 319.8h1.2v1.2h-1.2zM71.0 319.8h1.2v1.2h-1.2zM82.5 319.8h1.2v1.2h-1.2zM94.1 319.8h1.2v1.2h-1.2zM105.7 319.8h1.2v1.2h-1.2zM117.2 319.8h1.2v1.2h-1.2zM128.8 319.8h1.2v1.2h-1.2zM140.3 319.8h1.2v1.2h-1.2zM151.8 319.8h1.2v1.2h-1.2zM163.4 319.8h1.2v1.2h-1.2zM174.9 319.8h1.2v1.2h-1.2zM186.5 319.8h1.2v1.2h-1.2zM198.1 319.8h1.2v1.2h-1.2zM209.6 319.8h1.2v1.2h-1.2zM221.1 319.8h1.2v1.2h-1.2zM232.7 319.8h1.2v1.2h-1.2zM244.2 319.8h1.2v1.2h-1.2zM255.8 319.8h1.2v1.2h-1.2zM267.3 319.8h1.2v1.2h-1.2zM278.9 319.8h1.2v1.2h-1.2zM290.5 319.8h1.2v1.2h-1.2zM36.4 326.9h1.2v1.2h-1.2zM47.9 326.9h1.2v1.2h-1.2zM59.5 326.9h1.2v1.2h-1.2zM71.0 326.9h1.2v1.2h-1.2zM82.5 326.9h1.2v1.2h-1.2zM94.1 326.9h1.2v1.2h-1.2zM105.7 326.9h1.2v1.2h-1.2zM117.2 326.9h1.2v1.2h-1.2zM128.8 326.9h1.2v1.2h-1.2zM140.3 326.9h1.2v1.2h-1.2zM151.8 326.9h1.2v1.2h-1.2zM163.4 326.9h1.2v1.2h-1.2zM174.9 326.9h1.2v1.2h-1.2zM186.5 326.9h1.2v1.2h-1.2zM198.1 326.9h1.2v1.2h-1.2zM209.6 326.9h1.2v1.2h-1.2zM221.1 326.9h1.2v1.2h-1.2zM232.7 326.9h1.2v1.2h-1.2zM244.2 326.9h1.2v1.2h-1.2zM255.8 326.9h1.2v1.2h-1.2zM267.3 326.9h1.2v1.2h-1.2zM278.9 326.9h1.2v1.2h-1.2zM290.5 326.9h1.2v1.2h-1.2zM36.4 334.0h1.2v1.2h-1.2zM47.9 334.0h1.2v1.2h-1.2zM59.5 334.0h1.2v1.2h-1.2zM71.0 334.0h1.2v1.2h-1.2zM82.5 334.0h1.2v1.2h-1.2zM94.1 334.0h1.2v1.2h-1.2zM105.7 334.0h1.2v1.2h-1.2zM117.2 334.0h1.2v1.2h-1.2zM128.8 334.0h1.2v1.2h-1.2zM140.3 334.0h1.2v1.2h-1.2zM151.8 334.0h1.2v1.2h-1.2zM163.4 334.0h1.2v1.2h-1.2zM174.9 334.0h1.2v1.2h-1.2zM186.5 334.0h1.2v1.2h-1.2zM198.1 334.0h1.2v1.2h-1.2zM209.6 334.0h1.2v1.2h-1.2zM221.1 334.0h1.2v1.2h-1.2zM232.7 334.0h1.2v1.2h-1.2zM244.2 334.0h1.2v1.2h-1.2zM255.8 334.0h1.2v1.2h-1.2zM267.3 334.0h1.2v1.2h-1.2zM278.9 334.0h1.2v1.2h-1.2zM290.5 334.0h1.2v1.2h-1.2z" fill="#444"/></g><rect x="468.1" y="234.0" width="110.3" height="22.6" fill="none" stroke="#0af00a" stroke-width="2.7"/><g stroke="#454545" stroke-width="1.2"><line x1="32.3" y1="153.4" x2="32.3" y2="155.9"/><line x1="69.4" y1="153.4" x2="69.4" y2="155.9"/><line x1="106.6" y1="153.4" x2="106.6" y2="155.9"/><line x1="143.7" y1="153.4" x2="143.7" y2="155.9"/><line x1="180.9" y1="153.4" x2="180.9" y2="155.9"/><line x1="218.0" y1="153.4" x2="218.0" y2="155.9"/><line x1="255.2" y1="153.4" x2="255.2" y2="155.9"/><line x1="292.3" y1="153.4" x2="292.3" y2="155.9"/><line x1="29.8" y1="153.4" x2="32.3" y2="153.4"/><line x1="29.8" y1="130.4" x2="32.3" y2="130.4"/><line x1="29.8" y1="107.4" x2="32.3" y2="107.4"/><line x1="29.8" y1="84.4" x2="32.3" y2="84.4"/><line x1="29.8" y1="61.4" x2="32.3" y2="61.4"/><line x1="29.8" y1="38.4" x2="32.3" y2="38.4"/><line x1="29.8" y1="15.4" x2="32.3" y2="15.4"/><rect x="32.3" y="15.4" width="260.0" height="138.0" fill="none"/></g><g fill="#4a4a4a" font-size="10.5" style="font-family:'Liberation Sans',sans-serif"><text x="24.8" y="19.4" text-anchor="end">50°N</text><text x="24.8" y="65.4" text-anchor="end">30°N</text><text x="24.8" y="111.4" text-anchor="end">10°N</text><text x="24.8" y="157.4" text-anchor="end">10°S</text><text x="32.3" y="170.9" text-anchor="middle">40°E</text><text x="106.6" y="170.9" text-anchor="middle">60°E</text><text x="180.9" y="170.9" text-anchor="middle">80°E</text><text x="255.2" y="170.9" text-anchor="middle">100°E</text></g><g stroke="#454545" stroke-width="1.2"><line x1="382.3" y1="153.4" x2="382.3" y2="155.9"/><line x1="419.4" y1="153.4" x2="419.4" y2="155.9"/><line x1="456.6" y1="153.4" x2="456.6" y2="155.9"/><line x1="493.7" y1="153.4" x2="493.7" y2="155.9"/><line x1="530.9" y1="153.4" x2="530.9" y2="155.9"/><line x1="568.0" y1="153.4" x2="568.0" y2="155.9"/><line x1="605.2" y1="153.4" x2="605.2" y2="155.9"/><line x1="642.3" y1="153.4" x2="642.3" y2="155.9"/><line x1="379.8" y1="153.4" x2="382.3" y2="153.4"/><line x1="379.8" y1="130.4" x2="382.3" y2="130.4"/><line x1="379.8" y1="107.4" x2="382.3" y2="107.4"/><line x1="379.8" y1="84.4" x2="382.3" y2="84.4"/><line x1="379.8" y1="61.4" x2="382.3" y2="61.4"/><line x1="379.8" y1="38.4" x2="382.3" y2="38.4"/><line x1="379.8" y1="15.4" x2="382.3" y2="15.4"/><rect x="382.3" y="15.4" width="260.0" height="138.0" fill="none"/></g><g fill="#4a4a4a" font-size="10.5" style="font-family:'Liberation Sans',sans-serif"><text x="374.8" y="19.4" text-anchor="end">50°N</text><text x="374.8" y="65.4" text-anchor="end">30°N</text><text x="374.8" y="111.4" text-anchor="end">10°N</text><text x="374.8" y="157.4" text-anchor="end">10°S</text><text x="382.3" y="170.9" text-anchor="middle">40°E</text><text x="456.6" y="170.9" text-anchor="middle">60°E</text><text x="530.9" y="170.9" text-anchor="middle">80°E</text><text x="605.2" y="170.9" text-anchor="middle">100°E</text></g><g stroke="#454545" stroke-width="1.2"><line x1="32.3" y1="337.3" x2="32.3" y2="339.8"/><line x1="69.4" y1="337.3" x2="69.4" y2="339.8"/><line x1="106.6" y1="337.3" x2="106.6" y2="339.8"/><line x1="143.7" y1="337.3" x2="143.7" y2="339.8"/><line x1="180.9" y1="337.3" x2="180.9" y2="339.8"/><line x1="218.0" y1="337.3" x2="218.0" y2="339.8"/><line x1="255.2" y1="337.3" x2="255.2" y2="339.8"/><line x1="292.3" y1="337.3" x2="292.3" y2="339.8"/><line x1="29.8" y1="337.3" x2="32.3" y2="337.3"/><line x1="29.8" y1="314.3" x2="32.3" y2="314.3"/><line x1="29.8" y1="291.3" x2="32.3" y2="291.3"/><line x1="29.8" y1="268.3" x2="32.3" y2="268.3"/><line x1="29.8" y1="245.3" x2="32.3" y2="245.3"/><line x1="29.8" y1="222.3" x2="32.3" y2="222.3"/><line x1="29.8" y1="199.3" x2="32.3" y2="199.3"/><rect x="32.3" y="199.3" width="260.0" height="138.0" fill="none"/></g><g fill="#4a4a4a" font-size="10.5" style="font-family:'Liberation Sans',sans-serif"><text x="24.8" y="203.3" text-anchor="end">50°N</text><text x="24.8" y="249.3" text-anchor="end">30°N</text><text x="24.8" y="295.3" text-anchor="end">10°N</text><text x="24.8" y="341.3" text-anchor="end">10°S</text><text x="32.3" y="354.8" text-anchor="middle">40°E</text><text x="106.6" y="354.8" text-anchor="middle">60°E</text><text x="180.9" y="354.8" text-anchor="middle">80°E</text><text x="255.2" y="354.8" text-anchor="middle">100°E</text></g><g stroke="#454545" stroke-width="1.2"><line x1="382.3" y1="337.3" x2="382.3" y2="339.8"/><line x1="419.4" y1="337.3" x2="419.4" y2="339.8"/><line x1="456.6" y1="337.3" x2="456.6" y2="339.8"/><line x1="493.7" y1="337.3" x2="493.7" y2="339.8"/><line x1="530.9" y1="337.3" x2="530.9" y2="339.8"/><line x1="568.0" y1="337.3" x2="568.0" y2="339.8"/><line x1="605.2" y1="337.3" x2="605.2" y2="339.8"/><line x1="642.3" y1="337.3" x2="642.3" y2="339.8"/><line x1="379.8" y1="337.3" x2="382.3" y2="337.3"/><line x1="379.8" y1="314.3" x2="382.3" y2="314.3"/><line x1="379.8" y1="291.3" x2="382.3" y2="291.3"/><line x1="379.8" y1="268.3" x2="382.3" y2="268.3"/><line x1="379.8" y1="245.3" x2="382.3" y2="245.3"/><line x1="379.8" y1="222.3" x2="382.3" y2="222.3"/><line x1="379.8" y1="199.3" x2="382.3" y2="199.3"/><rect x="382.3" y="199.3" width="260.0" height="138.0" fill="none"/></g><g fill="#4a4a4a" font-size="10.5" style="font-family:'Liberation Sans',sans-serif"><text x="374.8" y="203.3" text-anchor="end">50°N</text><text x="374.8" y="249.3" text-anchor="end">30°N</text><text x="374.8" y="295.3" text-anchor="end">10°N</text><text x="374.8" y="341.3" text-anchor="end">10°S</text><text x="382.3" y="354.8" text-anchor="middle">40°E</text><text x="456.6" y="354.8" text-anchor="middle">60°E</text><text x="530.9" y="354.8" text-anchor="middle">80°E</text><text x="605.2" y="354.8" text-anchor="middle">100°E</text></g><rect x="302.1" y="25.60" width="11" height="10.20" fill="#d81a08"/><rect x="302.1" y="35.50" width="11" height="10.20" fill="#f43a0a"/><rect x="302.1" y="45.40" width="11" height="10.20" fill="#ff6a10"/><rect x="302.1" y="55.30" width="11" height="10.20" fill="#ffa515"/><rect x="302.1" y="65.20" width="11" height="10.20" fill="#ffc84f"/><rect x="302.1" y="75.10" width="11" height="10.20" fill="#ffffff"/><rect x="302.1" y="85.00" width="11" height="10.20" fill="#ffffff"/><rect x="302.1" y="94.90" width="11" height="10.20" fill="#8dd0fa"/><rect x="302.1" y="104.80" width="11" height="10.20" fill="#4aaaf0"/><rect x="302.1" y="114.70" width="11" height="10.20" fill="#3c96ea"/><rect x="302.1" y="124.60" width="11" height="10.20" fill="#1e6ccc"/><rect x="302.1" y="134.50" width="11" height="10.20" fill="#1450a8"/><rect x="302.1" y="25.6" width="11" height="118.8" fill="none" stroke="#3a3a3a" stroke-width="1"/><g fill="#4a4a4a" font-size="10.5" style="font-family:'Liberation Sans',sans-serif"><text x="316.6" y="29.6">1.5</text><text x="316.6" y="49.4">1</text><text x="316.6" y="69.2">0.5</text><text x="316.6" y="89.0">0</text><text x="316.6" y="108.8">-0.5</text><text x="316.6" y="128.6">-1</text><text x="316.6" y="148.4">-1.5</text></g><rect x="652.1" y="25.60" width="11" height="10.20" fill="#d81a08"/><rect x="652.1" y="35.50" width="11" height="10.20" fill="#f43a0a"/><rect x="652.1" y="45.40" width="11" height="10.20" fill="#ff6a10"/><rect x="652.1" y="55.30" width="11" height="10.20" fill="#ffa515"/><rect x="652.1" y="65.20" width="11" height="10.20" fill="#ffc84f"/><rect x="652.1" y="75.10" width="11" height="10.20" fill="#ffffff"/><rect x="652.1" y="85.00" width="11" height="10.20" fill="#ffffff"/><rect x="652.1" y="94.90" width="11" height="10.20" fill="#8dd0fa"/><rect x="652.1" y="104.80" width="11" height="10.20" fill="#4aaaf0"/><rect x="652.1" y="114.70" width="11" height="10.20" fill="#3c96ea"/><rect x="652.1" y="124.60" width="11" height="10.20" fill="#1e6ccc"/><rect x="652.1" y="134.50" width="11" height="10.20" fill="#1450a8"/><rect x="652.1" y="25.6" width="11" height="118.8" fill="none" stroke="#3a3a3a" stroke-width="1"/><g fill="#4a4a4a" font-size="10.5" style="font-family:'Liberation Sans',sans-serif"><text x="666.6" y="29.6">0.3</text><text x="666.6" y="49.4">0.2</text><text x="666.6" y="69.2">0.1</text><text x="666.6" y="89.0">0</text><text x="666.6" y="108.8">-0.1</text><text x="666.6" y="128.6">-0.2</text><text x="666.6" y="148.4">-0.3</text></g><rect x="302.1" y="209.50" width="11" height="10.20" fill="#d81a08"/><rect x="302.1" y="219.40" width="11" height="10.20" fill="#f43a0a"/><rect x="302.1" y="229.30" width="11" height="10.20" fill="#ff6a10"/><rect x="302.1" y="239.20" width="11" height="10.20" fill="#ffa515"/><rect x="302.1" y="249.10" width="11" height="10.20" fill="#ffc84f"/><rect x="302.1" y="259.00" width="11" height="10.20" fill="#ffffff"/><rect x="302.1" y="268.90" width="11" height="10.20" fill="#ffffff"/><rect x="302.1" y="278.80" width="11" height="10.20" fill="#8dd0fa"/><rect x="302.1" y="288.70" width="11" height="10.20" fill="#4aaaf0"/><rect x="302.1" y="298.60" width="11" height="10.20" fill="#3c96ea"/><rect x="302.1" y="308.50" width="11" height="10.20" fill="#1e6ccc"/><rect x="302.1" y="318.40" width="11" height="10.20" fill="#1450a8"/><rect x="302.1" y="209.5" width="11" height="118.8" fill="none" stroke="#3a3a3a" stroke-width="1"/><g fill="#4a4a4a" font-size="10.5" style="font-family:'Liberation Sans',sans-serif"><text x="316.6" y="213.5">4</text><text x="316.6" y="243.2">2</text><text x="316.6" y="272.9">0</text><text x="316.6" y="302.6">-2</text><text x="316.6" y="332.3">-4</text></g><rect x="652.1" y="209.50" width="11" height="10.20" fill="#d81a08"/><rect x="652.1" y="219.40" width="11" height="10.20" fill="#f43a0a"/><rect x="652.1" y="229.30" width="11" height="10.20" fill="#ff6a10"/><rect x="652.1" y="239.20" width="11" height="10.20" fill="#ffa515"/><rect x="652.1" y="249.10" width="11" height="10.20" fill="#ffc84f"/><rect x="652.1" y="259.00" width="11" height="10.20" fill="#ffffff"/><rect x="652.1" y="268.90" width="11" height="10.20" fill="#ffffff"/><rect x="652.1" y="278.80" width="11" height="10.20" fill="#8dd0fa"/><rect x="652.1" y="288.70" width="11" height="10.20" fill="#4aaaf0"/><rect x="652.1" y="298.60" width="11" height="10.20" fill="#3c96ea"/><rect x="652.1" y="308.50" width="11" height="10.20" fill="#1e6ccc"/><rect x="652.1" y="318.40" width="11" height="10.20" fill="#1450a8"/><rect x="652.1" y="209.5" width="11" height="118.8" fill="none" stroke="#3a3a3a" stroke-width="1"/><g fill="#4a4a4a" font-size="10.5" style="font-family:'Liberation Sans',sans-serif"><text x="666.6" y="213.5">1</text><text x="666.6" y="243.2">0.5</text><text x="666.6" y="272.9">0</text><text x="666.6" y="302.6">-0.5</text><text x="666.6" y="332.3">-1</text></g><g fill="#4a4a4a" style="font-family:'Liberation Sans',sans-serif"><text x="313.6" y="203.8" font-size="11" textLength="21" lengthAdjust="spacingAndGlyphs">×10</text><text x="334.8" y="197.4" font-size="7.6" textLength="7.2" lengthAdjust="spacingAndGlyphs">-4</text></g><text x="34.6" y="11.0" fill="#4a4a4a" font-size="11.5" textLength="64" lengthAdjust="spacingAndGlyphs" style="font-family:'Liberation Sans',sans-serif">(a) sea level</text><text x="384.6" y="11.0" fill="#4a4a4a" font-size="11.5" textLength="129" lengthAdjust="spacingAndGlyphs" style="font-family:'Liberation Sans',sans-serif">(b) SST &amp; surface winds</text><text x="589.0" y="11.7" fill="#4a4a4a" font-size="10" textLength="33.5" lengthAdjust="spacingAndGlyphs" style="font-family:'Liberation Sans',sans-serif">0.5m/s</text><path d="M623.5 7.7 H634.0" stroke="#444" stroke-width="1"/><path d="M629.0 3.7 L636.0 7.7 L629.0 11.7 L631.5 7.7Z" fill="#000"/><text x="34.6" y="194.9" fill="#4a4a4a" font-size="11.5" textLength="139.5" lengthAdjust="spacingAndGlyphs" style="font-family:'Liberation Sans',sans-serif">(c) low-level troposphere</text><text x="248.0" y="195.6" fill="#4a4a4a" font-size="10" textLength="24.5" lengthAdjust="spacingAndGlyphs" style="font-family:'Liberation Sans',sans-serif">2m/s</text><path d="M274.0 190.8 H286.0" stroke="#444" stroke-width="1"/><path d="M281.0 186.8 L288.0 190.8 L281.0 194.8 L283.5 190.8Z" fill="#000"/><text x="384.6" y="194.9" fill="#4a4a4a" font-size="11.5" textLength="62.5" lengthAdjust="spacingAndGlyphs" style="font-family:'Liberation Sans',sans-serif">(d) 200 hPa</text><text x="597.3" y="195.6" fill="#4a4a4a" font-size="10" textLength="25.2" lengthAdjust="spacingAndGlyphs" style="font-family:'Liberation Sans',sans-serif">4m/s</text><path d="M623.7 190.8 H636.0" stroke="#444" stroke-width="1"/><path d="M631.0 186.8 L638.0 190.8 L631.0 194.8 L633.5 190.8Z" fill="#000"/>
</svg></body></html>
